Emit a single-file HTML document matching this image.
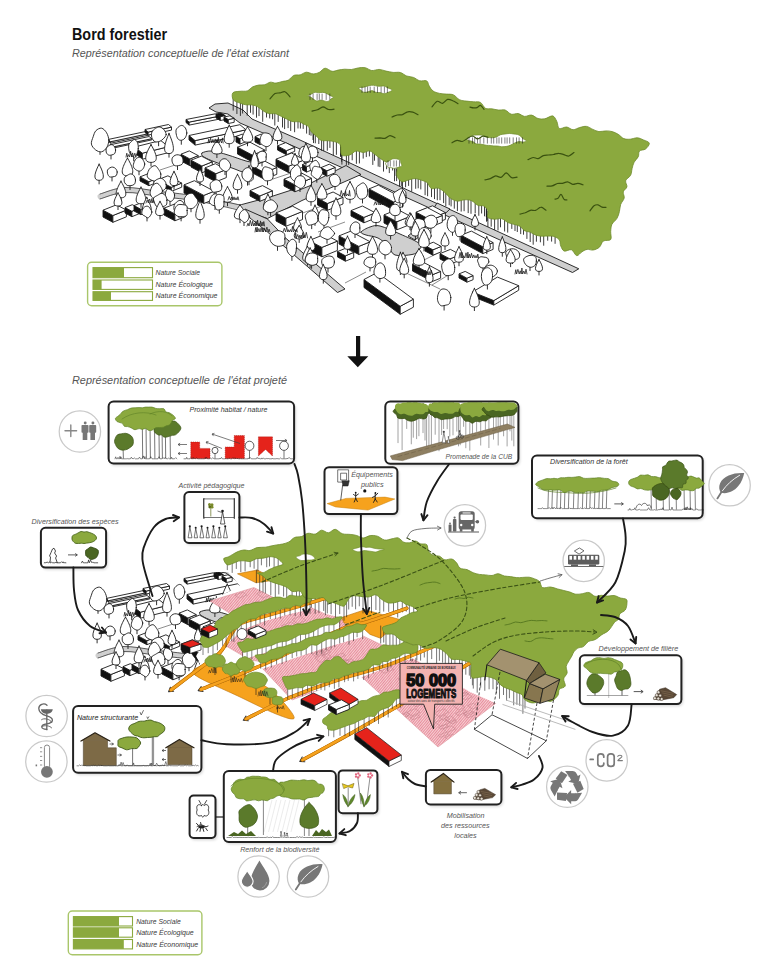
<!DOCTYPE html>
<html><head><meta charset="utf-8"><title>Bord forestier</title>
<style>
html,body{margin:0;padding:0;background:#fff;}
body{width:768px;height:978px;overflow:hidden;font-family:"Liberation Sans",sans-serif;}
svg{display:block;font-family:"Liberation Sans",sans-serif;}
</style></head><body>
<svg width="768" height="978" viewBox="0 0 768 978">
<defs>
<filter id="blur" x="-10%" y="-10%" width="125%" height="130%"><feGaussianBlur stdDeviation="1.6"/></filter>
<pattern id="hatch" width="2" height="2" patternUnits="userSpaceOnUse" patternTransform="rotate(-50)"><rect width="2" height="2" fill="#f6d0d3"/><rect width="2" height="0.6" fill="#e0607a"/></pattern>
</defs>
<rect width="768" height="978" fill="#fff"/>
<g id="misc"><text x="72" y="39.8" font-size="17" fill="#111" font-weight="bold" font-style="normal" text-anchor="start" textLength="95" lengthAdjust="spacingAndGlyphs" >Bord forestier</text>
<text x="72" y="57" font-size="11" fill="#555" font-weight="normal" font-style="italic" text-anchor="start" textLength="217" lengthAdjust="spacingAndGlyphs" >Représentation conceptuelle de l'état existant</text>
<text x="72" y="384" font-size="11" fill="#555" font-weight="normal" font-style="italic" text-anchor="start" textLength="215" lengthAdjust="spacingAndGlyphs" >Représentation conceptuelle de l'état projeté</text>
<path d="M356 336H360.2V356.2H368.3L357.8 367.2L347.3 356.2H356Z" fill="#111"/>
<rect x="87.6" y="262.2" width="134.3" height="43.6" rx="4" fill="#fff" stroke="#a9c66a" stroke-width="1.4"/><rect x="93" y="267.6" width="59.5" height="10.1" fill="#fff" stroke="#8ba93e" stroke-width="1.1"/><rect x="93" y="267.6" width="31" height="10.1" fill="#8ba93e"/><rect x="93" y="280" width="59.5" height="9.4" fill="#fff" stroke="#8ba93e" stroke-width="1.1"/><rect x="93" y="280" width="8.6" height="9.4" fill="#8ba93e"/><rect x="93" y="291.7" width="59.5" height="8.7" fill="#fff" stroke="#8ba93e" stroke-width="1.1"/><rect x="93" y="291.7" width="18" height="8.7" fill="#8ba93e"/><text x="155.5" y="275.3" font-size="7.6" fill="#3a3a3a" font-weight="normal" font-style="italic" text-anchor="start" textLength="44.5" lengthAdjust="spacingAndGlyphs" >Nature Sociale</text><text x="155.5" y="287" font-size="7.6" fill="#3a3a3a" font-weight="normal" font-style="italic" text-anchor="start" textLength="57.5" lengthAdjust="spacingAndGlyphs" >Nature Écologique</text><text x="155.5" y="298" font-size="7.6" fill="#3a3a3a" font-weight="normal" font-style="italic" text-anchor="start" textLength="62" lengthAdjust="spacingAndGlyphs" >Nature Économique</text>
<rect x="68.3" y="911" width="133.6" height="43.8" rx="4" fill="#fff" stroke="#a9c66a" stroke-width="1.4"/><rect x="73.4" y="916.6" width="59.1" height="9.4" fill="#fff" stroke="#8ba93e" stroke-width="1.1"/><rect x="73.4" y="916.6" width="45.6" height="9.4" fill="#8ba93e"/><rect x="73.4" y="927.8" width="59.1" height="9.4" fill="#fff" stroke="#8ba93e" stroke-width="1.1"/><rect x="73.4" y="927.8" width="45.6" height="9.4" fill="#8ba93e"/><rect x="73.4" y="939.5" width="59.1" height="9.4" fill="#fff" stroke="#8ba93e" stroke-width="1.1"/><rect x="73.4" y="939.5" width="50.4" height="9.4" fill="#8ba93e"/><text x="136.2" y="924.3" font-size="7.6" fill="#3a3a3a" font-weight="normal" font-style="italic" text-anchor="start" textLength="44.5" lengthAdjust="spacingAndGlyphs" >Nature Sociale</text><text x="136.2" y="935.3" font-size="7.6" fill="#3a3a3a" font-weight="normal" font-style="italic" text-anchor="start" textLength="57.5" lengthAdjust="spacingAndGlyphs" >Nature Écologique</text><text x="136.2" y="947" font-size="7.6" fill="#3a3a3a" font-weight="normal" font-style="italic" text-anchor="start" textLength="62" lengthAdjust="spacingAndGlyphs" >Nature Économique</text></g>
<g id="top"><polygon points="209,108 215,104 228,103 243,110 252,119 300,140 350,163 407.5,190 500,232.5 578.8,268.8 572.5,272.5 500,240 407.5,198 352,172 300,149 240,123 228,114 216,112" fill="#cfcfcf" stroke="#1a1a1a" stroke-width="0.9" stroke-linejoin="round" />
<polygon points="240,205 270,197 307,185 346,165.5 361,174.5 302,200.5 267.5,218.5 247.5,212" fill="#cfcfcf" stroke="#1a1a1a" stroke-width="0.9" stroke-linejoin="round" />
<path d="M100 196.5C104.2 195.4 115 190.4 125 190C135 189.6 147.5 192.5 160 194C172.5 195.5 185.8 196.7 200 199C214.2 201.3 237.5 206.5 245 208" fill="none" stroke="#cfcfcf" stroke-width="5" stroke-linecap="round" stroke-linejoin="round" />
<path d="M100 194C104.2 192.9 115 187.9 125 187.5C135 187.1 147.5 190 160 191.5C172.5 193 186.7 194.2 200 196.5C213.3 198.8 233.3 203.6 240 205" fill="none" stroke="#1a1a1a" stroke-width="0.7" stroke-linecap="round" stroke-linejoin="round" />
<path d="M100 199C104.2 197.9 115 192.9 125 192.5C135 192.1 147.5 195 160 196.5C172.5 198 185.5 198.9 200 201.5C214.5 204.1 239.2 210.2 247 212" fill="none" stroke="#1a1a1a" stroke-width="0.7" stroke-linecap="round" stroke-linejoin="round" />
<polygon points="245,209 267.5,219 285,237.5 345,289 337.5,292.5 267.5,232 250,218" fill="#cfcfcf" stroke="#1a1a1a" stroke-width="0.9" stroke-linejoin="round" />
<path d="M202 153C203.3 152 207.7 150.7 212 151C216.3 151.3 222.3 153.3 228 155C233.7 156.7 240.7 159.5 246 161C251.3 162.5 258 162.5 260 164C262 165.5 260.2 168.5 258 170C255.8 171.5 251.3 173.3 247 173C242.7 172.7 237.3 169.8 232 168C226.7 166.2 219.7 163.8 215 162C210.3 160.2 206.2 158.5 204 157C201.8 155.5 200.7 154 202 153Z" fill="#cfcfcf" stroke="#1a1a1a" stroke-width="0.9" stroke-linecap="round" stroke-linejoin="round" />
<path d="M361 232C361.7 230.7 366.8 228 370 227C373.2 226 375 224.8 380 226C385 227.2 393.3 231 400 234C406.7 237 417 241.2 420 244C423 246.8 419.3 249.2 418 251C416.7 252.8 415.8 253.8 412 254.5C408.2 255.2 399 256.4 395 255C391 253.6 390.8 248.8 388 246C385.2 243.2 381.7 239.8 378 238C374.3 236.2 368.8 236 366 235C363.2 234 360.3 233.3 361 232Z" fill="#cfcfcf" stroke="#1a1a1a" stroke-width="0.9" stroke-linecap="round" stroke-linejoin="round" />
<polygon points="437,203 450,209 432,226 415,240 408,236 425,222" fill="#cfcfcf" stroke="#1a1a1a" stroke-width="0.9" stroke-linejoin="round" />
<line x1="300" y1="214" x2="330" y2="203" stroke="#1a1a1a" stroke-width="0.5" />
<line x1="345" y1="283" x2="366" y2="272" stroke="#1a1a1a" stroke-width="0.5" />
<line x1="420" y1="262" x2="440" y2="252" stroke="#1a1a1a" stroke-width="0.5" />
<line x1="432" y1="285" x2="450" y2="274" stroke="#1a1a1a" stroke-width="0.5" />
<line x1="404" y1="272" x2="440" y2="289" stroke="#1a1a1a" stroke-width="0.5" />
<line x1="318" y1="232" x2="345" y2="222" stroke="#1a1a1a" stroke-width="0.5" />
<line x1="270" y1="180" x2="300" y2="170" stroke="#1a1a1a" stroke-width="0.5" />
<line x1="160" y1="170" x2="190" y2="160" stroke="#1a1a1a" stroke-width="0.5" /><path d="M233.2 97V110.2M236.9 99V113.6M240.4 101V115.5M242.6 101.9V113.1M247.2 102.7V115.3M250.5 103.6V112.4M253.1 104.4V114.2M256.5 105.3V117.3M259 106.1V115.7M262.7 107V121.4M266.5 108V117.1M269.7 109V118M272.6 110V118.9M274.8 111V125.1M278.2 112V121.5M282.5 113V127.1M284.6 114V128.7M288.1 115V127.7M290.7 116V130.6M294.6 117V131.8M298 118V128.1M300.4 119V128.2M303.2 120V128.5M306.6 121V133.2M309.3 122V134.7M311 125.1V135.3M313 128.2V139.6M313.5 131.4V142.7M315.3 134.5V142.9M318.8 135.4V143.6M321.6 136.4V150.3M323.7 137.3V150.8M327.3 138.2V150.3M329.9 139.2V147.5M333.3 140.1V154.8M336.4 141.1V154.4M340.6 142V156.6M340.6 145V155.5M341.7 148V161.4M341.9 151V164.2M346.4 150.5V164.5M348.7 150V164.6M352.2 149.5V159.9M356.4 149V163.4M359.4 148.5V163M363.2 148V158.2M366.3 147.5V156.7M369.4 147V156M372.8 149.5V164.5M374.5 152V160.3M378.2 154.5V166.2M379.9 157V166.7M383.5 157.4V171.2M386.6 157.8V168.8M389.3 158.2V172.7M392.6 158.7V170.1M397.2 159.1V168M400.3 159.5V174.1M398.5 162V175.5M396.1 164.5V175.5M394.5 167V180.9M396.6 169.5V180.7M399.5 172V186M401.3 174.5V185.7M402.5 177V190.1M405.6 176.8V186.8M408.6 176.5V185.5M411.7 176.2V191.2M415.7 176V188.4M418.2 177.6V187.9M420.8 179.1V189M425.1 180.7V194.8M427.6 182.3V195.8M431.5 183.9V196.7M434.5 185.4V198.7M437.3 187V199.9M440 188.4V199.8M443.6 189.9V202.7M445.8 191.3V205.9M449.2 192.7V204.8M451.1 194.1V206M454.3 195.6V208.3M457.4 197V210.7M461.2 197.6V211.2M464.1 198.2V210.8M468.2 198.9V212.7M471 199.5V213.4M475.2 200.1V212.9M478.8 200.8V215.4M481.6 201.4V213.1M484.5 202V215.9M486.3 205.1V216.5M486.5 208.2V221.3M487.2 211.4V220.6M487.9 214.5V226.6M491.2 215.3V226.3M494.6 216.1V229.5M498 216.9V230M500.5 217.8V226.9M504.6 218.6V231.1M507.7 219.4V232.2M511.8 220.2V228.5M515 221V230.6M517.3 222.7V231.6M520.7 224.4V233.7M523.5 226.1V234.3M526.9 227.8V238.5M530.2 229.5V241.6M533.2 230V244.3M536.4 230.5V241.3M540.4 231V241.9M543.7 231.5V245.3M547.7 232V240.3M551.6 232.5V241.2M555.1 233V243.4" fill="none" stroke="#1a1a1a" stroke-width="0.85" stroke-linecap="round" stroke-linejoin="round" />
<path d="M232.8 92.9C233.9 91.4 237.5 91.6 239.9 91.3C242.3 90.9 245.1 91.6 247.3 90.9C249.4 90.1 250.8 87.8 252.8 86.8C254.8 85.9 257 85.4 259 85C261 84.7 262.9 85.2 264.7 84.7C266.6 84.3 268.3 82.5 270.2 82.2C272 81.9 274 83.2 276 83.1C278 82.9 280.1 82 282.2 81.5C284.3 81 286.5 81.1 288.4 80.1C290.3 79.1 291.8 76.3 293.8 75.4C295.8 74.5 298.2 75.3 300.3 74.8C302.4 74.2 304.1 72.4 306.3 72.2C308.5 72.1 311.1 73.9 313.3 73.9C315.5 73.9 317.4 73.2 319.4 72.3C321.4 71.3 323 68.3 325.1 68.2C327.2 68 330 71 332.1 71.3C334.3 71.6 336 70.5 338.1 70.1C340.2 69.8 342.5 69.3 344.7 69.2C346.9 69.1 349.2 69.7 351.4 69.5C353.7 69.3 356.1 68.2 358.3 67.9C360.6 67.6 362.9 67.3 365.1 67.7C367.3 68.1 369.4 70.2 371.7 70.5C374 70.8 376.7 69.4 379.1 69.4C381.5 69.5 383.7 70.6 386.1 71.1C388.4 71.6 390.7 72.1 393.1 72.4C395.5 72.6 398.1 71.9 400.4 72.5C402.7 73.1 404.5 75.2 406.7 76C408.9 76.8 411.3 76.6 413.4 77.4C415.6 78.2 417.5 80.2 419.7 80.8C421.9 81.4 425 80 426.7 80.9C428.3 81.8 428.2 84.6 429.3 86.2C430.4 87.9 431.3 89.8 433 91C434.7 92.2 437.3 92.8 439.6 93.4C441.8 93.9 444.2 93.8 446.5 94.1C448.9 94.3 451.3 93.9 453.5 94.9C455.6 95.8 457.3 98.7 459.5 99.7C461.7 100.8 464.2 100.8 466.6 101.1C468.9 101.5 471.4 101.6 473.7 101.8C476 102.1 478.4 101.4 480.4 102.4C482.4 103.5 483.6 107.3 485.5 108.3C487.4 109.4 489.6 108.5 491.8 108.8C493.9 109.1 496.1 109.8 498.3 110C500.6 110.3 503 109.4 505.1 110C507.2 110.7 509.1 113.6 511.2 114.2C513.4 114.8 515.8 113.2 518.1 113.5C520.3 113.9 522.3 116.1 524.6 116.4C526.8 116.6 529.3 114.7 531.5 115.1C533.8 115.4 535.8 117.9 538 118.5C540.2 119.1 542.3 119.2 544.8 118.8C547.2 118.4 550.7 115.5 552.7 115.9C554.7 116.4 555.7 119.3 556.8 121.4C557.9 123.5 557.6 127.5 559.2 128.4C560.9 129.4 564.3 126.8 566.6 127C568.9 127.2 570.9 129.7 573.1 129.7C575.3 129.8 577.6 128 579.8 127.5C582.1 126.9 584.3 126.1 586.5 126.4C588.7 126.7 590.8 128.5 592.9 129.4C595 130.3 596.8 131.3 598.9 131.6C601.1 131.8 603.5 130.9 605.8 130.9C608 130.9 610.1 131 612.2 131.6C614.3 132.2 616.3 133.1 618.2 134.3C620.1 135.4 621.7 137.8 623.8 138.6C625.8 139.4 628 139.3 630.2 139.2C632.5 139 635 137.7 637.2 137.8C639.4 137.9 641.4 139 643.4 139.9C645.4 140.8 649 141.7 649.3 143.2C649.7 144.7 647.2 147.7 645.6 149C643.9 150.3 640.7 149.7 639.5 151C638.2 152.3 639.2 154.9 638.3 156.7C637.4 158.6 635.2 160.2 634.2 162.1C633.1 164.1 632.7 166.4 632.1 168.6C631.5 170.8 631.7 173.3 630.6 175.3C629.5 177.3 626.3 178.7 625.7 180.7C625.1 182.6 627.4 185.1 626.9 186.9C626.5 188.8 623.7 190 623.3 191.8C622.8 193.7 624.6 195.9 624.2 198C623.8 200.1 621.5 202.2 620.7 204.4C619.9 206.7 620 209.3 619.4 211.6C618.8 213.9 618.3 216.2 617 218.3C615.8 220.4 613 222.2 611.9 224.4C610.9 226.6 610.9 229.1 610.7 231.6C610.5 234.1 611.9 238 610.7 239.5C609.5 241.1 605.3 239.8 603.4 241C601.5 242.3 601.1 245.7 599.4 247.2C597.7 248.7 595.2 249.7 593.2 250C591.2 250.4 589 249.1 587.2 249.4C585.3 249.7 583.7 250.7 582 251.8C580.2 252.8 578.4 256 576.6 255.6C574.9 255.3 573.6 250.5 571.5 249.8C569.5 249 566 251.7 564.2 251.1C562.4 250.4 561.6 247.8 560.8 246C559.9 244.1 560.4 241.5 559.4 239.9C558.3 238.4 556.4 237.3 554.6 236.7C552.8 236 550.7 236.1 548.6 236.1C546.6 236 544.3 236.3 542.2 236.2C540.1 236.1 538 235.9 536 235.2C534 234.6 532 232.9 530.1 232.1C528.2 231.4 526.1 231.6 524.4 230.7C522.8 229.7 521.8 227.5 520.2 226.4C518.6 225.4 516.8 225.2 514.8 224.6C512.8 223.9 510.3 223.6 508.1 222.6C505.9 221.6 504 219.3 501.7 218.7C499.4 218.1 496.7 219.4 494.4 219.2C492 219 488.8 218.6 487.7 217.3C486.7 215.9 488.5 212.8 487.9 210.9C487.3 209.1 485.7 207 484 206.1C482.3 205.1 479.9 206.2 477.8 205.3C475.8 204.4 473.8 201.6 471.6 200.7C469.4 199.7 467 199.7 464.6 199.8C462.2 199.9 459.5 201.4 457.1 201.1C454.7 200.8 452.3 199.4 450.2 197.9C448.1 196.5 446.6 194 444.7 192.3C442.7 190.7 440.6 188.8 438.4 188.2C436.2 187.5 433.1 189.4 431.3 188.5C429.4 187.6 428.8 184 427.2 182.6C425.5 181.3 423.4 180.9 421.4 180.2C419.4 179.5 417.2 178.6 415.1 178.5C413 178.5 411 179.3 408.8 179.9C406.6 180.4 403.7 182.3 401.8 181.7C399.8 181.1 397.8 178.2 397.1 176.3C396.3 174.4 396.8 172.5 397.1 170.2C397.4 168 399.4 164.3 398.8 162.7C398.2 161.2 395.5 160.9 393.5 160.7C391.4 160.6 388.7 162.3 386.5 161.9C384.4 161.6 382.5 159.9 380.7 158.7C378.8 157.5 377.1 156 375.3 154.7C373.5 153.4 371.7 151.3 369.7 150.9C367.7 150.5 365.6 152.5 363.3 152.5C361.1 152.5 358.4 150.6 356.1 151C353.8 151.4 352.1 154.3 349.7 155C347.3 155.6 343.3 156.6 341.7 155C340.1 153.3 341.5 147.1 340.2 144.8C339 142.6 336.3 142.3 334.2 141.6C332.1 140.9 329.9 141 327.7 140.7C325.4 140.5 322.9 141.1 321 140.3C319.1 139.6 317.9 137.5 316.3 136.1C314.7 134.7 312.5 133.3 311.2 131.8C309.9 130.2 309.6 127.8 308.4 126.6C307.3 125.3 305.8 125.1 304.2 124.3C302.6 123.5 300.8 122.2 298.9 121.7C297 121.3 294.8 122.1 292.9 121.7C291 121.3 289.4 120.3 287.5 119.4C285.7 118.6 283.6 117.5 281.6 116.6C279.6 115.6 277.7 114.2 275.6 113.7C273.5 113.2 270.9 114.1 268.7 113.6C266.6 113.1 264.7 111.8 262.8 110.6C261 109.5 259.5 107.7 257.7 106.8C255.9 105.8 254 105.2 252.1 104.9C250.1 104.5 247.9 105.1 245.9 104.8C244 104.5 242.4 104 240.3 103.2C238.2 102.4 234.6 101.5 233.3 99.8C232.1 98.1 231.7 94.3 232.8 92.9Z" fill="#8ba93e" stroke="#6d8a2a" stroke-width="0.8" stroke-linejoin="round" />
<path d="M307.5 96.1C307.6 95.6 309.8 94.8 311.1 94.2C312.4 93.6 313.8 92.5 315.1 92.3C316.3 92.1 317.4 92.8 318.6 92.8C319.8 92.8 321.1 92.3 322.4 92.4C323.6 92.4 324.7 92.6 326 93.2C327.2 93.7 328.5 94.8 329.8 95.4C331.1 96.1 333.4 96.5 333.6 97.1C333.8 97.7 331.9 98.2 331 98.9C330 99.6 329.2 101 328.1 101.4C327 101.7 325.6 101.2 324.3 100.9C323.1 100.7 321.9 100.1 320.7 100.1C319.5 100.1 318.1 101.1 316.9 101C315.7 100.8 314.6 99.9 313.6 99.2C312.5 98.5 311.6 97.5 310.6 97C309.5 96.5 307.4 96.6 307.5 96.1Z" fill="#fff" stroke="#6d8a2a" stroke-width="0.7" stroke-linejoin="round" />
<path d="M310 94V99.5M313.1 94V99.5M317.1 94V99.5M319.3 94V99.5M322.1 94V99.5M326.2 94V99.5M329.8 94V99.5" fill="none" stroke="#1a1a1a" stroke-width="0.55" stroke-linecap="round" stroke-linejoin="round" />
<path d="M358.6 87.8C358.9 87.3 361.4 87.6 362.7 87.4C364 87.2 365.2 86.8 366.4 86.5C367.6 86.2 368.8 85.7 370 85.5C371.2 85.3 372.3 85.2 373.5 85.3C374.7 85.4 375.8 85.9 377 86.1C378.1 86.3 379.3 86.3 380.5 86.2C381.7 86.2 382.7 85.7 384 86C385.2 86.3 386.6 87.3 388 88C389.4 88.7 392.3 89.3 392.3 90C392.4 90.7 389.6 91.7 388.2 92.3C386.9 92.9 385.4 93.6 384 93.7C382.6 93.7 381.4 92.8 380 92.6C378.7 92.3 377.2 92.7 375.9 92.3C374.6 92 373.3 90.7 372 90.6C370.7 90.6 369.4 91.5 368 91.8C366.7 92.1 365.1 92.5 363.9 92.3C362.8 92.1 362 91.2 361.2 90.4C360.3 89.7 358.4 88.4 358.6 87.8Z" fill="#fff" stroke="#6d8a2a" stroke-width="0.7" stroke-linejoin="round" />
<path d="M362 87V92.5M365 87V92.5M367.6 87V92.5M370.2 87V92.5M374.2 87V92.5M377.5 87V92.5M381.1 87V92.5M384.4 87V92.5M387.4 87V92.5" fill="none" stroke="#1a1a1a" stroke-width="0.55" stroke-linecap="round" stroke-linejoin="round" />
<path d="M466.5 139C466.5 138.4 468.2 137.7 469.2 137.1C470.1 136.5 471.3 135.8 472.4 135.5C473.6 135.1 474.8 135.2 476.1 135.1C477.3 135 478.7 134.9 480.1 135C481.4 135.1 482.8 135.4 484.1 135.8C485.4 136.2 486.6 137 488 137.3C489.3 137.6 490.6 137.9 492 137.8C493.4 137.8 495.1 137.5 496.5 136.9C497.9 136.4 499.1 135.2 500.6 134.7C502 134.2 503.6 134.3 505.1 134C506.5 133.8 507.9 133.5 509.3 133.5C510.8 133.4 512.2 133.8 513.7 134C515.1 134.1 516.6 134.1 517.8 134.5C519 134.9 519.8 135.7 520.8 136.5C521.7 137.3 522.5 138.3 523.5 139.1C524.4 139.8 526.5 140.4 526.5 140.9C526.4 141.4 524.4 141.9 523.2 142C522 142.1 520.7 141.5 519.5 141.5C518.3 141.6 517.2 142 516 142.4C514.8 142.8 513.6 143.6 512.4 144.2C511.2 144.8 510.1 145.4 508.8 145.8C507.6 146.2 506.2 146.5 504.9 146.6C503.7 146.7 502.5 146.8 501.3 146.7C500 146.5 498.8 146.1 497.5 146C496.3 145.9 495 146 493.8 145.9C492.5 145.8 491.3 145.6 490.1 145.5C488.9 145.3 487.7 145.5 486.5 145.3C485.3 145.1 484.2 144.7 483 144.5C481.9 144.3 480.7 144.1 479.5 144C478.3 143.9 477 144.2 475.9 143.8C474.8 143.4 474 142 472.9 141.5C471.8 141 470.3 141.1 469.2 140.7C468.2 140.3 466.6 139.6 466.5 139Z" fill="#fff" stroke="#6d8a2a" stroke-width="0.7" stroke-linejoin="round" />
<path d="M469 137.8V143.2M472.5 137.8V143.2M474.7 137.8V143.2M477.5 137.8V143.2M480.1 137.8V143.2M483.8 137.8V143.2M487.4 137.8V143.2M491.3 137.8V143.2M493.7 137.8V143.2M496.8 137.8V143.2M499 137.8V143.2M501.7 137.8V143.2M504.9 137.8V143.2M507.1 137.8V143.2M509.7 137.8V143.2M513.2 137.8V143.2M516.5 137.8V143.2M519.1 137.8V143.2M522.5 137.8V143.2" fill="none" stroke="#1a1a1a" stroke-width="0.55" stroke-linecap="round" stroke-linejoin="round" />
<path d="M385.5 163C385.7 162 387.7 161.9 388.8 161.2C389.9 160.5 390.9 159.4 392.1 159C393.3 158.6 394.8 158.6 396.1 158.8C397.4 158.9 399.1 159.4 399.9 160.1C400.7 160.8 400.6 162 400.9 163C401.2 164 402.2 165.2 401.7 166C401.2 166.7 399.2 167 398 167.4C396.7 167.8 395.2 168.3 394 168.4C392.9 168.4 392 167.7 391 167.6C390 167.4 388.7 168 387.8 167.3C386.9 166.5 385.3 164.1 385.5 163Z" fill="#fff" stroke="#6d8a2a" stroke-width="0.7" stroke-linejoin="round" />
<path d="M388 160.8V166.2M390.3 160.8V166.2M393.9 160.8V166.2M396.4 160.8V166.2M399.5 160.8V166.2" fill="none" stroke="#1a1a1a" stroke-width="0.55" stroke-linecap="round" stroke-linejoin="round" />
<path d="M312 111.1C312.9 110.9 315.7 110.5 317.5 109.8C319.3 109.1 321.2 107 323 106.9C324.8 106.9 326.7 109.1 328.5 109.5C330.3 109.9 333.1 109.3 334 109.2" fill="none" stroke="#3a5210" stroke-width="1.2" stroke-linecap="round" stroke-linejoin="round" />
<path d="M392 117C392.9 116.7 395.5 115.4 397.2 115C398.9 114.6 400.7 115.1 402.4 114.6C404.1 114 405.9 112.2 407.6 111.8C409.3 111.3 411.1 111.6 412.8 112.1C414.5 112.6 417.1 114.3 418 114.7" fill="none" stroke="#3a5210" stroke-width="1.2" stroke-linecap="round" stroke-linejoin="round" />
<path d="M432 106.9C432.9 106 435.5 101.9 437.2 101.3C438.9 100.7 440.7 103.6 442.4 103.3C444.1 103 445.9 99.8 447.6 99.4C449.3 99 451.1 100 452.8 100.8C454.5 101.5 457.1 103.2 458 103.7" fill="none" stroke="#3a5210" stroke-width="1.2" stroke-linecap="round" stroke-linejoin="round" />
<path d="M452 142.8C452.9 142.3 455.4 140.5 457.1 140.3C458.9 140.1 460.6 141.8 462.3 141.5C464 141.2 465.7 139.4 467.4 138.4C469.1 137.5 470.9 136 472.6 136C474.3 136.1 476 138.9 477.7 138.9C479.4 139 481.1 136.5 482.9 136.2C484.6 136 487.1 137.2 488 137.3" fill="none" stroke="#3a5210" stroke-width="1.2" stroke-linecap="round" stroke-linejoin="round" />
<path d="M485 179.9C485.9 179.7 488.6 179.3 490.3 178.6C492.1 177.9 493.9 176.2 495.7 175.9C497.4 175.7 499.2 177.8 501 177.3C502.8 176.8 504.6 172.9 506.3 172.9C508.1 173 509.9 177 511.7 177.6C513.4 178.3 516.1 177.2 517 177.1" fill="none" stroke="#3a5210" stroke-width="1.2" stroke-linecap="round" stroke-linejoin="round" />
<path d="M528 159.6C528.9 159.3 531.4 157.7 533.1 157.5C534.8 157.3 536.5 158.9 538.2 158.6C539.9 158.3 541.6 156.2 543.3 155.6C545 155 546.7 155.2 548.4 155C550.1 154.8 551.9 154.8 553.6 154.5C555.3 154.2 557 153.2 558.7 153.3C560.4 153.3 562.1 154.1 563.8 154.6C565.5 155.1 567.2 156.3 568.9 156C570.6 155.6 573.1 153.1 574 152.6" fill="none" stroke="#3a5210" stroke-width="1.2" stroke-linecap="round" stroke-linejoin="round" />
<path d="M547 186.1C547.9 186 550.4 186.3 552.1 185.9C553.9 185.5 555.6 184 557.3 183.5C559 183.1 560.7 183.6 562.4 183.3C564.1 183 565.9 181.6 567.6 181.8C569.3 182 571 184.2 572.7 184.4C574.4 184.7 576.1 183.3 577.9 183.4C579.6 183.5 582.1 184.5 583 184.8" fill="none" stroke="#3a5210" stroke-width="1.2" stroke-linecap="round" stroke-linejoin="round" />
<path d="M470 107.1C470.6 107.2 472.3 107.8 473.5 107.9C474.7 108 475.8 108 477 107.6C478.2 107.2 479.3 105.2 480.5 105.4C481.7 105.7 483.4 108.7 484 109.3" fill="none" stroke="#3a5210" stroke-width="1.2" stroke-linecap="round" stroke-linejoin="round" />
<path d="M520 214.1C520.9 213.9 523.5 213.4 525.2 212.8C526.9 212.1 528.7 210.7 530.4 210.3C532.1 209.9 533.9 210.9 535.6 210.4C537.3 209.9 539.1 207.2 540.8 207.2C542.5 207.1 545.1 209.7 546 210.2" fill="none" stroke="#3a5210" stroke-width="1.2" stroke-linecap="round" stroke-linejoin="round" />
<path d="M590 210.8C590.7 210 592.7 206.8 594 205.8C595.3 204.8 596.7 204.6 598 204.8C599.3 205.1 600.7 206.7 602 207.1C603.3 207.5 605.3 207.3 606 207.3" fill="none" stroke="#3a5210" stroke-width="1.2" stroke-linecap="round" stroke-linejoin="round" />
<path d="M270 98.8C270.8 98 273.3 94.6 275 93.6C276.7 92.6 278.3 93.2 280 92.9C281.7 92.6 283.3 91 285 91.7C286.7 92.3 289.2 96 290 96.8" fill="none" stroke="#3a5210" stroke-width="1.2" stroke-linecap="round" stroke-linejoin="round" />
<path d="M555 199.2C555.5 199.1 557 199.1 558 198.3C559 197.5 560 194.2 561 194.4C562 194.5 563 198.2 564 199.2C565 200.1 566.5 199.9 567 200" fill="none" stroke="#3a5210" stroke-width="1.2" stroke-linecap="round" stroke-linejoin="round" />
<path d="M375 138.1C375.8 138.1 378.3 137.9 380 137.9C381.7 138 383.3 138.7 385 138.3C386.7 137.9 388.3 135.7 390 135.6C391.7 135.5 394.2 137.4 395 137.8" fill="none" stroke="#3a5210" stroke-width="1.2" stroke-linecap="round" stroke-linejoin="round" /><polygon points="108,139.5 110.7,141.7 110.7,143.2 108,141" fill="#111" stroke="#1a1a1a" stroke-width="0.9" stroke-linejoin="round" /><polygon points="110.7,141.7 149.8,133.4 149.8,134.9 110.7,143.2" fill="#fff" stroke="#1a1a1a" stroke-width="0.9" stroke-linejoin="round" /><polygon points="108,139.5 110.7,141.7 149.8,133.4 147.1,131.2" fill="#fff" stroke="#1a1a1a" stroke-width="0.9" stroke-linejoin="round" />
<polygon points="110,144.8 112.7,147 112.7,148.2 110,146" fill="#111" stroke="#1a1a1a" stroke-width="0.9" stroke-linejoin="round" /><polygon points="112.7,147 151.8,138.7 151.8,139.9 112.7,148.2" fill="#fff" stroke="#1a1a1a" stroke-width="0.9" stroke-linejoin="round" /><polygon points="110,144.8 112.7,147 151.8,138.7 149.1,136.5" fill="#fff" stroke="#1a1a1a" stroke-width="0.9" stroke-linejoin="round" />
<polygon points="145,129.5 148.1,132.1 148.1,135.1 145,132.5" fill="#111" stroke="#1a1a1a" stroke-width="0.9" stroke-linejoin="round" /><polygon points="148.1,132.1 171.5,127.1 171.5,130.1 148.1,135.1" fill="#fff" stroke="#1a1a1a" stroke-width="0.9" stroke-linejoin="round" /><polygon points="145,129.5 148.1,132.1 171.5,127.1 168.5,124.5" fill="#fff" stroke="#1a1a1a" stroke-width="0.9" stroke-linejoin="round" />
<polygon points="186,119.5 189.1,122.1 189.1,125.1 186,122.5" fill="#111" stroke="#1a1a1a" stroke-width="0.9" stroke-linejoin="round" /><polygon points="189.1,122.1 218.5,116.3 218.5,119.3 189.1,125.1" fill="#fff" stroke="#1a1a1a" stroke-width="0.9" stroke-linejoin="round" /><polygon points="186,119.5 189.1,122.1 218.5,116.3 215.4,113.8" fill="#fff" stroke="#1a1a1a" stroke-width="0.9" stroke-linejoin="round" />
<polygon points="216,114 220.3,116.5 220.3,120.5 216,118" fill="#111" stroke="#1a1a1a" stroke-width="0.9" stroke-linejoin="round" /><polygon points="220.3,116.5 225.2,115.5 225.2,119.5 220.3,120.5" fill="#fff" stroke="#1a1a1a" stroke-width="0.9" stroke-linejoin="round" /><polygon points="216,114 220.3,116.5 225.2,115.5 220.9,113" fill="#111" stroke="#1a1a1a" stroke-width="0.9" stroke-linejoin="round" />
<polygon points="224,117 228.3,119.5 228.3,123.5 224,121" fill="#111" stroke="#1a1a1a" stroke-width="0.9" stroke-linejoin="round" /><polygon points="228.3,119.5 234.2,118.3 234.2,122.3 228.3,123.5" fill="#fff" stroke="#1a1a1a" stroke-width="0.9" stroke-linejoin="round" /><polygon points="224,117 228.3,119.5 234.2,118.3 229.9,115.8" fill="#fff" stroke="#1a1a1a" stroke-width="0.9" stroke-linejoin="round" />
<polygon points="189,135.5 195.1,140.6 195.1,145.1 189,140" fill="#111" stroke="#1a1a1a" stroke-width="0.9" stroke-linejoin="round" /><polygon points="195.1,140.6 246,129.8 246,134.3 195.1,145.1" fill="#fff" stroke="#1a1a1a" stroke-width="0.9" stroke-linejoin="round" /><polygon points="189,135.5 195.1,140.6 246,129.8 239.9,124.7" fill="#fff" stroke="#1a1a1a" stroke-width="0.9" stroke-linejoin="round" />
<polygon points="134.5,147 142.4,153.2 142.4,159.2 134.5,153" fill="#111" stroke="#1a1a1a" stroke-width="0.9" stroke-linejoin="round" /><polygon points="142.4,153.2 168.6,146.6 168.6,152.6 142.4,159.2" fill="#fff" stroke="#1a1a1a" stroke-width="0.9" stroke-linejoin="round" /><polygon points="134.5,147 142.4,153.2 168.6,146.6 160.7,140.5" fill="#fff" stroke="#1a1a1a" stroke-width="0.9" stroke-linejoin="round" />
<polygon points="181,154.2 189.9,159 189.9,165.7 181,161" fill="#111" stroke="#1a1a1a" stroke-width="0.9" stroke-linejoin="round" /><polygon points="189.9,159 198.2,155.6 198.2,162.4 189.9,165.7" fill="#fff" stroke="#1a1a1a" stroke-width="0.9" stroke-linejoin="round" /><polygon points="181,154.2 189.9,159 198.2,155.6 189.3,150.9" fill="#fff" stroke="#1a1a1a" stroke-width="0.9" stroke-linejoin="round" />
<polygon points="191,160.2 201.9,166 201.9,172.8 191,167" fill="#111" stroke="#1a1a1a" stroke-width="0.9" stroke-linejoin="round" /><polygon points="201.9,166 212.3,161.8 212.3,168.6 201.9,172.8" fill="#fff" stroke="#1a1a1a" stroke-width="0.9" stroke-linejoin="round" /><polygon points="191,160.2 201.9,166 212.3,161.8 201.4,156.1" fill="#fff" stroke="#1a1a1a" stroke-width="0.9" stroke-linejoin="round" />
<polygon points="205,167.9 215.9,173.7 215.9,181.8 205,176" fill="#111" stroke="#1a1a1a" stroke-width="0.9" stroke-linejoin="round" /><polygon points="215.9,173.7 226.3,169.5 226.3,177.6 215.9,181.8" fill="#fff" stroke="#1a1a1a" stroke-width="0.9" stroke-linejoin="round" /><polygon points="205,167.9 215.9,173.7 226.3,169.5 215.4,163.7" fill="#fff" stroke="#1a1a1a" stroke-width="0.9" stroke-linejoin="round" />
<polygon points="184,184.9 203.8,195.4 203.8,203.5 184,193" fill="#111" stroke="#1a1a1a" stroke-width="0.9" stroke-linejoin="round" /><polygon points="203.8,195.4 214.2,191.2 214.2,199.3 203.8,203.5" fill="#fff" stroke="#1a1a1a" stroke-width="0.9" stroke-linejoin="round" /><polygon points="184,184.9 203.8,195.4 214.2,191.2 194.4,180.7" fill="#fff" stroke="#1a1a1a" stroke-width="0.9" stroke-linejoin="round" />
<polygon points="140,176.9 148.9,181.7 148.9,185.7 140,181" fill="#111" stroke="#1a1a1a" stroke-width="0.9" stroke-linejoin="round" /><polygon points="148.9,181.7 159.3,177.5 159.3,181.5 148.9,185.7" fill="#fff" stroke="#1a1a1a" stroke-width="0.9" stroke-linejoin="round" /><polygon points="140,176.9 148.9,181.7 159.3,177.5 150.4,172.8" fill="#fff" stroke="#1a1a1a" stroke-width="0.9" stroke-linejoin="round" />
<polygon points="157.5,179.9 171.3,187.3 171.3,191.4 157.5,184" fill="#111" stroke="#1a1a1a" stroke-width="0.9" stroke-linejoin="round" /><polygon points="171.3,187.3 181.7,183.1 181.7,187.2 171.3,191.4" fill="#fff" stroke="#1a1a1a" stroke-width="0.9" stroke-linejoin="round" /><polygon points="157.5,179.9 171.3,187.3 181.7,183.1 167.9,175.8" fill="#fff" stroke="#1a1a1a" stroke-width="0.9" stroke-linejoin="round" />
<polygon points="103,210.2 112.9,215.5 112.9,222.3 103,217" fill="#111" stroke="#1a1a1a" stroke-width="0.9" stroke-linejoin="round" /><polygon points="112.9,215.5 126.4,210.1 126.4,216.8 112.9,222.3" fill="#fff" stroke="#1a1a1a" stroke-width="0.9" stroke-linejoin="round" /><polygon points="103,210.2 112.9,215.5 126.4,210.1 116.5,204.8" fill="#fff" stroke="#1a1a1a" stroke-width="0.9" stroke-linejoin="round" />
<polygon points="125,207.6 131.9,211.3 131.9,216.7 125,213" fill="#111" stroke="#1a1a1a" stroke-width="0.9" stroke-linejoin="round" /><polygon points="131.9,211.3 139.2,208.3 139.2,213.7 131.9,216.7" fill="#fff" stroke="#1a1a1a" stroke-width="0.9" stroke-linejoin="round" /><polygon points="125,207.6 131.9,211.3 139.2,208.3 132.3,204.7" fill="#fff" stroke="#1a1a1a" stroke-width="0.9" stroke-linejoin="round" />
<polygon points="134,205.6 140.9,209.3 140.9,214.7 134,211" fill="#111" stroke="#1a1a1a" stroke-width="0.9" stroke-linejoin="round" /><polygon points="140.9,209.3 148.2,206.3 148.2,211.7 140.9,214.7" fill="#fff" stroke="#1a1a1a" stroke-width="0.9" stroke-linejoin="round" /><polygon points="134,205.6 140.9,209.3 148.2,206.3 141.3,202.7" fill="#fff" stroke="#1a1a1a" stroke-width="0.9" stroke-linejoin="round" />
<polygon points="164,208.2 174.9,214 174.9,220.8 164,215" fill="#111" stroke="#1a1a1a" stroke-width="0.9" stroke-linejoin="round" /><polygon points="174.9,214 185.3,209.8 185.3,216.6 174.9,220.8" fill="#fff" stroke="#1a1a1a" stroke-width="0.9" stroke-linejoin="round" /><polygon points="164,208.2 174.9,214 185.3,209.8 174.4,204.1" fill="#fff" stroke="#1a1a1a" stroke-width="0.9" stroke-linejoin="round" />
<polygon points="237.5,147.2 252.3,155.1 252.3,161.9 237.5,154" fill="#111" stroke="#1a1a1a" stroke-width="0.9" stroke-linejoin="round" /><polygon points="252.3,155.1 264.8,150.1 264.8,156.9 252.3,161.9" fill="#fff" stroke="#1a1a1a" stroke-width="0.9" stroke-linejoin="round" /><polygon points="237.5,147.2 252.3,155.1 264.8,150.1 250,142.2" fill="#fff" stroke="#1a1a1a" stroke-width="0.9" stroke-linejoin="round" />
<polygon points="252.5,166.2 264.4,172.6 264.4,179.3 252.5,173" fill="#111" stroke="#1a1a1a" stroke-width="0.9" stroke-linejoin="round" /><polygon points="264.4,172.6 276.8,167.5 276.8,174.3 264.4,179.3" fill="#fff" stroke="#1a1a1a" stroke-width="0.9" stroke-linejoin="round" /><polygon points="252.5,166.2 264.4,172.6 276.8,167.5 265,161.2" fill="#fff" stroke="#1a1a1a" stroke-width="0.9" stroke-linejoin="round" />
<polygon points="250,190.6 259.9,195.9 259.9,201.3 250,196" fill="#111" stroke="#1a1a1a" stroke-width="0.9" stroke-linejoin="round" /><polygon points="259.9,195.9 272.4,190.8 272.4,196.2 259.9,201.3" fill="#fff" stroke="#1a1a1a" stroke-width="0.9" stroke-linejoin="round" /><polygon points="250,190.6 259.9,195.9 272.4,190.8 262.5,185.6" fill="#fff" stroke="#1a1a1a" stroke-width="0.9" stroke-linejoin="round" />
<polygon points="236,136.6 240,138.7 240,144.1 236,142" fill="#111" stroke="#1a1a1a" stroke-width="0.9" stroke-linejoin="round" /><polygon points="240,138.7 246.2,136.2 246.2,141.6 240,144.1" fill="#fff" stroke="#1a1a1a" stroke-width="0.9" stroke-linejoin="round" /><polygon points="236,136.6 240,138.7 246.2,136.2 242.2,134.1" fill="#fff" stroke="#1a1a1a" stroke-width="0.9" stroke-linejoin="round" />
<polygon points="255,136.6 259.9,139.2 259.9,144.6 255,142" fill="#111" stroke="#1a1a1a" stroke-width="0.9" stroke-linejoin="round" /><polygon points="259.9,139.2 266.2,136.7 266.2,142.1 259.9,144.6" fill="#fff" stroke="#1a1a1a" stroke-width="0.9" stroke-linejoin="round" /><polygon points="255,136.6 259.9,139.2 266.2,136.7 261.2,134.1" fill="#fff" stroke="#1a1a1a" stroke-width="0.9" stroke-linejoin="round" />
<polygon points="276,159.2 288.9,166.1 288.9,172.8 276,166" fill="#111" stroke="#1a1a1a" stroke-width="0.9" stroke-linejoin="round" /><polygon points="288.9,166.1 304.4,159.8 304.4,166.5 288.9,172.8" fill="#fff" stroke="#1a1a1a" stroke-width="0.9" stroke-linejoin="round" /><polygon points="276,159.2 288.9,166.1 304.4,159.8 291.6,153" fill="#fff" stroke="#1a1a1a" stroke-width="0.9" stroke-linejoin="round" />
<polygon points="284,179.2 294.9,185 294.9,191.8 284,186" fill="#111" stroke="#1a1a1a" stroke-width="0.9" stroke-linejoin="round" /><polygon points="294.9,185 311.5,178.3 311.5,185.1 294.9,191.8" fill="#fff" stroke="#1a1a1a" stroke-width="0.9" stroke-linejoin="round" /><polygon points="284,179.2 294.9,185 311.5,178.3 300.6,172.5" fill="#fff" stroke="#1a1a1a" stroke-width="0.9" stroke-linejoin="round" />
<polygon points="277.5,145.9 286.4,150.7 286.4,154.7 277.5,150" fill="#111" stroke="#1a1a1a" stroke-width="0.9" stroke-linejoin="round" /><polygon points="286.4,150.7 294.7,147.3 294.7,151.4 286.4,154.7" fill="#fff" stroke="#1a1a1a" stroke-width="0.9" stroke-linejoin="round" /><polygon points="277.5,145.9 286.4,150.7 294.7,147.3 285.8,142.6" fill="#fff" stroke="#1a1a1a" stroke-width="0.9" stroke-linejoin="round" />
<polygon points="302.5,164.6 306.5,166.7 306.5,172.1 302.5,170" fill="#111" stroke="#1a1a1a" stroke-width="0.9" stroke-linejoin="round" /><polygon points="306.5,166.7 314.8,163.3 314.8,168.7 306.5,172.1" fill="#fff" stroke="#1a1a1a" stroke-width="0.9" stroke-linejoin="round" /><polygon points="302.5,164.6 306.5,166.7 314.8,163.3 310.8,161.2" fill="#fff" stroke="#1a1a1a" stroke-width="0.9" stroke-linejoin="round" />
<polygon points="321,167.6 326.9,170.8 326.9,176.2 321,173" fill="#111" stroke="#1a1a1a" stroke-width="0.9" stroke-linejoin="round" /><polygon points="326.9,170.8 335.2,167.4 335.2,172.8 326.9,176.2" fill="#fff" stroke="#1a1a1a" stroke-width="0.9" stroke-linejoin="round" /><polygon points="321,167.6 326.9,170.8 335.2,167.4 329.3,164.2" fill="#fff" stroke="#1a1a1a" stroke-width="0.9" stroke-linejoin="round" />
<polygon points="317.5,198.2 327.4,203.5 327.4,210.3 317.5,205" fill="#111" stroke="#1a1a1a" stroke-width="0.9" stroke-linejoin="round" /><polygon points="327.4,203.5 343,197.2 343,204 327.4,210.3" fill="#fff" stroke="#1a1a1a" stroke-width="0.9" stroke-linejoin="round" /><polygon points="317.5,198.2 327.4,203.5 343,197.2 333.1,192" fill="#fff" stroke="#1a1a1a" stroke-width="0.9" stroke-linejoin="round" />
<polygon points="276,212.9 285.9,218.2 285.9,226.3 276,221" fill="#111" stroke="#1a1a1a" stroke-width="0.9" stroke-linejoin="round" /><polygon points="285.9,218.2 302.5,211.4 302.5,219.5 285.9,226.3" fill="#fff" stroke="#1a1a1a" stroke-width="0.9" stroke-linejoin="round" /><polygon points="276,212.9 285.9,218.2 302.5,211.4 292.6,206.2" fill="#fff" stroke="#1a1a1a" stroke-width="0.9" stroke-linejoin="round" />
<polygon points="369,188.9 393.7,202 393.7,210.1 369,197" fill="#111" stroke="#1a1a1a" stroke-width="0.9" stroke-linejoin="round" /><polygon points="393.7,202 403.1,198.3 403.1,206.4 393.7,210.1" fill="#fff" stroke="#1a1a1a" stroke-width="0.9" stroke-linejoin="round" /><polygon points="369,188.9 393.7,202 403.1,198.3 378.3,185.1" fill="#fff" stroke="#1a1a1a" stroke-width="0.9" stroke-linejoin="round" />
<polygon points="351,210.6 363.9,217.4 363.9,222.8 351,216" fill="#111" stroke="#1a1a1a" stroke-width="0.9" stroke-linejoin="round" /><polygon points="363.9,217.4 375.3,212.8 375.3,218.2 363.9,222.8" fill="#fff" stroke="#1a1a1a" stroke-width="0.9" stroke-linejoin="round" /><polygon points="351,210.6 363.9,217.4 375.3,212.8 362.4,206" fill="#fff" stroke="#1a1a1a" stroke-width="0.9" stroke-linejoin="round" />
<polygon points="384,214.9 396.9,221.7 396.9,229.8 384,223" fill="#111" stroke="#1a1a1a" stroke-width="0.9" stroke-linejoin="round" /><polygon points="396.9,221.7 410.4,216.3 410.4,224.4 396.9,229.8" fill="#fff" stroke="#1a1a1a" stroke-width="0.9" stroke-linejoin="round" /><polygon points="384,214.9 396.9,221.7 410.4,216.3 397.5,209.4" fill="#fff" stroke="#1a1a1a" stroke-width="0.9" stroke-linejoin="round" />
<polygon points="419,211.2 431.9,218.1 431.9,224.8 419,218" fill="#111" stroke="#1a1a1a" stroke-width="0.9" stroke-linejoin="round" /><polygon points="431.9,218.1 445.4,212.6 445.4,219.4 431.9,224.8" fill="#fff" stroke="#1a1a1a" stroke-width="0.9" stroke-linejoin="round" /><polygon points="419,211.2 431.9,218.1 445.4,212.6 432.5,205.8" fill="#fff" stroke="#1a1a1a" stroke-width="0.9" stroke-linejoin="round" />
<polygon points="339,235.9 358.8,246.4 358.8,254.5 339,244" fill="#111" stroke="#1a1a1a" stroke-width="0.9" stroke-linejoin="round" /><polygon points="358.8,246.4 370.2,241.8 370.2,249.9 358.8,254.5" fill="#fff" stroke="#1a1a1a" stroke-width="0.9" stroke-linejoin="round" /><polygon points="339,235.9 358.8,246.4 370.2,241.8 350.4,231.3" fill="#fff" stroke="#1a1a1a" stroke-width="0.9" stroke-linejoin="round" />
<polygon points="309,240.6 321.9,247.4 321.9,256.8 309,250" fill="#111" stroke="#1a1a1a" stroke-width="0.9" stroke-linejoin="round" /><polygon points="321.9,247.4 337.4,241.1 337.4,250.5 321.9,256.8" fill="#fff" stroke="#1a1a1a" stroke-width="0.9" stroke-linejoin="round" /><polygon points="309,240.6 321.9,247.4 337.4,241.1 324.6,234.3" fill="#fff" stroke="#1a1a1a" stroke-width="0.9" stroke-linejoin="round" />
<polygon points="337.5,251.6 345.4,255.8 345.4,261.2 337.5,257" fill="#111" stroke="#1a1a1a" stroke-width="0.9" stroke-linejoin="round" /><polygon points="345.4,255.8 353.7,252.4 353.7,257.8 345.4,261.2" fill="#fff" stroke="#1a1a1a" stroke-width="0.9" stroke-linejoin="round" /><polygon points="337.5,251.6 345.4,255.8 353.7,252.4 345.8,248.2" fill="#fff" stroke="#1a1a1a" stroke-width="0.9" stroke-linejoin="round" />
<polygon points="412.5,264.2 432.3,274.8 432.3,281.5 412.5,271" fill="#111" stroke="#1a1a1a" stroke-width="0.9" stroke-linejoin="round" /><polygon points="432.3,274.8 440.6,271.4 440.6,278.2 432.3,281.5" fill="#fff" stroke="#1a1a1a" stroke-width="0.9" stroke-linejoin="round" /><polygon points="412.5,264.2 432.3,274.8 440.6,271.4 420.8,260.9" fill="#fff" stroke="#1a1a1a" stroke-width="0.9" stroke-linejoin="round" />
<polygon points="416,212.2 430.8,220.1 430.8,226.9 416,219" fill="#111" stroke="#1a1a1a" stroke-width="0.9" stroke-linejoin="round" /><polygon points="430.8,220.1 442.3,215.5 442.3,222.3 430.8,226.9" fill="#fff" stroke="#1a1a1a" stroke-width="0.9" stroke-linejoin="round" /><polygon points="416,212.2 430.8,220.1 442.3,215.5 427.4,207.6" fill="#fff" stroke="#1a1a1a" stroke-width="0.9" stroke-linejoin="round" />
<polygon points="461,235.2 482.8,246.8 482.8,253.6 461,242" fill="#111" stroke="#1a1a1a" stroke-width="0.9" stroke-linejoin="round" /><polygon points="482.8,246.8 493.1,242.6 493.1,249.4 482.8,253.6" fill="#fff" stroke="#1a1a1a" stroke-width="0.9" stroke-linejoin="round" /><polygon points="461,235.2 482.8,246.8 493.1,242.6 471.4,231.1" fill="#fff" stroke="#1a1a1a" stroke-width="0.9" stroke-linejoin="round" />
<polygon points="459,273.9 466.9,278.2 466.9,282.2 459,278" fill="#111" stroke="#1a1a1a" stroke-width="0.9" stroke-linejoin="round" /><polygon points="466.9,278.2 473.1,275.6 473.1,279.7 466.9,282.2" fill="#fff" stroke="#1a1a1a" stroke-width="0.9" stroke-linejoin="round" /><polygon points="459,273.9 466.9,278.2 473.1,275.6 465.2,271.4" fill="#fff" stroke="#1a1a1a" stroke-width="0.9" stroke-linejoin="round" />
<polygon points="440,253.6 449.9,258.9 449.9,264.3 440,259" fill="#111" stroke="#1a1a1a" stroke-width="0.9" stroke-linejoin="round" /><polygon points="449.9,258.9 460.3,254.7 460.3,260.1 449.9,264.3" fill="#fff" stroke="#1a1a1a" stroke-width="0.9" stroke-linejoin="round" /><polygon points="440,253.6 449.9,258.9 460.3,254.7 450.4,249.4" fill="#fff" stroke="#1a1a1a" stroke-width="0.9" stroke-linejoin="round" />
<polygon points="425,245.6 432.9,249.8 432.9,255.2 425,251" fill="#111" stroke="#1a1a1a" stroke-width="0.9" stroke-linejoin="round" /><polygon points="432.9,249.8 441.2,246.4 441.2,251.8 432.9,255.2" fill="#fff" stroke="#1a1a1a" stroke-width="0.9" stroke-linejoin="round" /><polygon points="425,245.6 432.9,249.8 441.2,246.4 433.3,242.2" fill="#fff" stroke="#1a1a1a" stroke-width="0.9" stroke-linejoin="round" />
<polygon points="364,279.5 400.2,306.3 400.2,314.3 364,287.5" fill="#111" stroke="#1a1a1a" stroke-width="0.9" stroke-linejoin="round" /><polygon points="400.2,306.3 413.4,299.2 413.4,307.2 400.2,314.3" fill="#fff" stroke="#1a1a1a" stroke-width="0.9" stroke-linejoin="round" /><polygon points="364,279.5 400.2,306.3 413.4,299.2 377.2,272.5" fill="#fff" stroke="#1a1a1a" stroke-width="0.9" stroke-linejoin="round" />
<polygon points="472.5,292 493.8,300.6 493.8,305.1 472.5,296.5" fill="#111" stroke="#1a1a1a" stroke-width="0.9" stroke-linejoin="round" /><polygon points="493.8,300.6 518.7,285.7 518.7,290.2 493.8,305.1" fill="#fff" stroke="#1a1a1a" stroke-width="0.9" stroke-linejoin="round" /><polygon points="472.5,292 493.8,300.6 518.7,285.7 497.4,277.1" fill="#fff" stroke="#1a1a1a" stroke-width="0.9" stroke-linejoin="round" />
<line x1="181.3" y1="138.4" x2="181.3" y2="144.7" stroke="#1a1a1a" stroke-width="0.9" /><path d="M186.8 133C186.8 134.6 185.9 136.6 185.2 137.8C184.4 139 183.2 139.8 182.1 140.1C181 140.4 179.6 140.4 178.7 139.6C177.7 138.9 176.9 137.1 176.5 135.5C176.1 134 175.7 131.6 176 130.2C176.4 128.7 177.8 127.4 178.8 126.7C179.8 125.9 181.1 125.2 182.2 125.5C183.2 125.7 184.5 126.7 185.3 127.9C186.1 129.2 186.8 131.3 186.8 133Z" fill="#fff" stroke="#1a1a1a" stroke-width="0.9" stroke-linecap="round" stroke-linejoin="round" />
<line x1="277.5" y1="138.6" x2="277.5" y2="144.6" stroke="#1a1a1a" stroke-width="0.9" /><path d="M277.5 126.4C280.4 131.4 285.8 140.6 277.5 140.6C269.2 140.6 274.6 131.4 277.5 126.4Z" fill="#fff" stroke="#1a1a1a" stroke-width="0.9" stroke-linecap="round" stroke-linejoin="round" />
<line x1="158.6" y1="139.9" x2="158.6" y2="146.2" stroke="#1a1a1a" stroke-width="0.9" /><path d="M166.2 134.6C166 136.2 164.3 137.8 163.2 138.9C162.1 140.1 161 140.8 159.7 141.3C158.3 141.7 156.2 142.4 154.9 141.7C153.6 141.1 152.3 139 151.8 137.4C151.3 135.7 151.4 133.4 151.9 132C152.5 130.5 154.1 129.3 155.4 128.4C156.7 127.6 158.4 126.8 159.8 127C161.2 127.2 162.9 128.4 163.9 129.7C165 130.9 166.3 133.1 166.2 134.6Z" fill="#fff" stroke="#1a1a1a" stroke-width="0.9" stroke-linecap="round" stroke-linejoin="round" />
<line x1="229.2" y1="141.1" x2="229.2" y2="147.7" stroke="#1a1a1a" stroke-width="0.9" /><path d="M229.2 125.2C232.6 131.5 238.6 143.7 229.2 143.7C219.8 143.7 225.9 131.5 229.2 125.2Z" fill="#fff" stroke="#1a1a1a" stroke-width="0.9" stroke-linecap="round" stroke-linejoin="round" />
<line x1="247.5" y1="140" x2="247.5" y2="146.2" stroke="#1a1a1a" stroke-width="0.9" /><path d="M247.5 126.8C251 132.1 257.4 142.2 247.5 142.2C237.6 142.2 244 132.1 247.5 126.8Z" fill="#fff" stroke="#1a1a1a" stroke-width="0.9" stroke-linecap="round" stroke-linejoin="round" />
<line x1="100" y1="147.6" x2="100" y2="154.8" stroke="#1a1a1a" stroke-width="0.9" /><path d="M108.8 140C108.8 142.4 108 145.5 106.8 147.5C105.6 149.4 103.5 151.4 101.6 151.8C99.7 152.2 97.3 151.2 95.6 149.9C93.9 148.6 91.8 146.3 91.4 144.1C91 141.9 92.4 139 93.2 136.7C93.9 134.5 94.5 132.2 95.9 130.7C97.3 129.3 99.8 127.8 101.6 128.2C103.4 128.5 105.4 130.8 106.6 132.8C107.8 134.8 108.7 137.6 108.8 140Z" fill="#fff" stroke="#1a1a1a" stroke-width="0.9" stroke-linecap="round" stroke-linejoin="round" />
<line x1="266" y1="145" x2="266" y2="151.2" stroke="#1a1a1a" stroke-width="0.9" /><path d="M272.4 140C272.3 141.6 271.4 143.5 270.5 144.6C269.6 145.7 268.1 146.5 267 146.7C265.8 146.8 264.5 146.1 263.4 145.5C262.3 144.8 260.7 143.9 260.2 142.6C259.7 141.2 260.1 139.1 260.5 137.6C260.9 136 261.8 134.1 262.9 133.4C263.9 132.6 265.7 132.9 267 133.1C268.3 133.4 269.9 133.9 270.8 135.1C271.7 136.2 272.4 138.4 272.4 140Z" fill="#fff" stroke="#1a1a1a" stroke-width="0.9" stroke-linecap="round" stroke-linejoin="round" />
<line x1="169" y1="150.7" x2="169" y2="157.6" stroke="#1a1a1a" stroke-width="0.9" /><path d="M169 133.4C171.9 140.2 177.3 153.6 169 153.6C160.7 153.6 166.1 140.2 169 133.4Z" fill="#fff" stroke="#1a1a1a" stroke-width="0.9" stroke-linecap="round" stroke-linejoin="round" />
<line x1="216.9" y1="152.1" x2="216.9" y2="158" stroke="#1a1a1a" stroke-width="0.9" /><path d="M216.9 140.6C220.4 145.3 226.7 154 216.9 154C207.1 154 213.4 145.3 216.9 140.6Z" fill="#fff" stroke="#1a1a1a" stroke-width="0.9" stroke-linecap="round" stroke-linejoin="round" />
<line x1="133.7" y1="154.6" x2="133.7" y2="161.3" stroke="#1a1a1a" stroke-width="0.9" /><path d="M138.3 148.4C138.2 150.2 137.6 152 137 153.6C136.4 155.2 135.5 157.7 134.6 157.9C133.7 158.2 132.5 156.2 131.6 155.1C130.7 154 129.7 153.1 129.2 151.4C128.7 149.7 128.4 146.7 128.7 145C129.1 143.4 130.6 142.4 131.5 141.5C132.5 140.6 133.5 139.4 134.5 139.5C135.5 139.7 136.8 141 137.4 142.5C138.1 144 138.4 146.5 138.3 148.4Z" fill="#fff" stroke="#1a1a1a" stroke-width="0.9" stroke-linecap="round" stroke-linejoin="round" />
<line x1="111" y1="153.8" x2="111" y2="159.4" stroke="#1a1a1a" stroke-width="0.9" /><path d="M115.6 150C115.7 151.1 115.3 152.7 114.7 153.5C114 154.4 112.8 154.7 111.8 154.9C110.7 155.2 109.4 155.5 108.5 155C107.5 154.6 106.5 153.2 106.2 152C105.9 150.8 106 149.1 106.4 148.1C106.8 147 107.9 146.3 108.8 145.7C109.7 145.1 110.9 144.5 111.8 144.7C112.8 144.8 113.8 145.8 114.5 146.7C115.1 147.6 115.6 148.9 115.6 150Z" fill="#fff" stroke="#1a1a1a" stroke-width="0.9" stroke-linecap="round" stroke-linejoin="round" />
<line x1="304" y1="156.7" x2="304" y2="162.5" stroke="#1a1a1a" stroke-width="0.9" /><path d="M309.4 152.5C309.4 153.9 309.2 155.8 308.5 156.8C307.8 157.7 306.1 158.2 304.9 158.4C303.7 158.5 302.3 158.3 301.3 157.7C300.3 157.1 299.2 155.8 298.9 154.6C298.6 153.4 299 151.8 299.4 150.6C299.8 149.4 300.4 148 301.3 147.3C302.3 146.6 303.8 146.2 305 146.4C306.1 146.6 307.6 147.3 308.4 148.4C309.1 149.4 309.4 151.1 309.4 152.5Z" fill="#fff" stroke="#1a1a1a" stroke-width="0.9" stroke-linecap="round" stroke-linejoin="round" />
<line x1="312.5" y1="156.7" x2="312.5" y2="162.5" stroke="#1a1a1a" stroke-width="0.9" /><path d="M318 152.5C318 153.8 317.5 155.6 316.7 156.5C316 157.4 314.4 157.8 313.3 157.9C312.2 158 311.1 157.6 310.2 157.1C309.2 156.5 308.1 155.6 307.7 154.5C307.3 153.4 307.5 151.8 307.8 150.6C308.1 149.3 308.7 147.6 309.6 146.9C310.6 146.2 312.3 146 313.5 146.3C314.6 146.6 315.9 147.5 316.7 148.5C317.4 149.6 318 151.2 318 152.5Z" fill="#fff" stroke="#1a1a1a" stroke-width="0.9" stroke-linecap="round" stroke-linejoin="round" />
<line x1="305.9" y1="159.3" x2="305.9" y2="165.9" stroke="#1a1a1a" stroke-width="0.9" /><path d="M305.9 143.3C309 149.6 314.5 161.9 305.9 161.9C297.4 161.9 302.9 149.6 305.9 143.3Z" fill="#fff" stroke="#1a1a1a" stroke-width="0.9" stroke-linecap="round" stroke-linejoin="round" />
<line x1="151" y1="159.9" x2="151" y2="166.4" stroke="#1a1a1a" stroke-width="0.9" /><path d="M151 144.6C154.5 150.6 160.9 162.4 151 162.4C141.1 162.4 147.5 150.6 151 144.6Z" fill="#fff" stroke="#1a1a1a" stroke-width="0.9" stroke-linecap="round" stroke-linejoin="round" />
<line x1="262" y1="160.8" x2="262" y2="166.4" stroke="#1a1a1a" stroke-width="0.9" /><path d="M266.1 157C266.1 158.3 266.4 159.9 265.8 160.7C265.3 161.5 263.8 161.6 262.7 161.9C261.7 162.1 260.1 162.8 259.4 162.2C258.6 161.7 258.5 159.8 258.1 158.6C257.7 157.4 256.9 156.1 257.1 155C257.4 153.9 258.6 152.7 259.5 152.1C260.5 151.5 261.8 151 262.9 151.2C264 151.4 265.5 152.1 266.1 153.1C266.6 154.1 266.2 155.7 266.1 157Z" fill="#fff" stroke="#1a1a1a" stroke-width="0.9" stroke-linecap="round" stroke-linejoin="round" />
<line x1="254.6" y1="165.4" x2="254.6" y2="171.8" stroke="#1a1a1a" stroke-width="0.9" /><path d="M254.6 150.7C257.1 156.6 261.7 167.8 254.6 167.8C247.5 167.8 252 156.6 254.6 150.7Z" fill="#fff" stroke="#1a1a1a" stroke-width="0.9" stroke-linecap="round" stroke-linejoin="round" />
<line x1="177.5" y1="164.2" x2="177.5" y2="170" stroke="#1a1a1a" stroke-width="0.9" /><path d="M183.2 160C183.3 161.3 182.8 163.4 182 164.3C181.2 165.2 179.6 165.4 178.4 165.6C177.1 165.8 175.7 166.1 174.7 165.5C173.6 165 172.6 163.4 172.3 162.2C171.9 160.9 171.8 159 172.3 157.9C172.8 156.7 174.1 155.8 175.1 155.3C176.1 154.8 177.3 154.6 178.3 154.8C179.4 154.9 180.6 155.4 181.4 156.3C182.3 157.1 183.1 158.7 183.2 160Z" fill="#fff" stroke="#1a1a1a" stroke-width="0.9" stroke-linecap="round" stroke-linejoin="round" />
<line x1="295" y1="163.8" x2="295" y2="169.4" stroke="#1a1a1a" stroke-width="0.9" /><path d="M295 153.6C297.4 157.8 301.6 165.4 295 165.4C288.4 165.4 292.6 157.8 295 153.6Z" fill="#fff" stroke="#1a1a1a" stroke-width="0.9" stroke-linecap="round" stroke-linejoin="round" />
<line x1="139" y1="169" x2="139" y2="175.2" stroke="#1a1a1a" stroke-width="0.9" /><path d="M144.7 164C144.7 165.5 143.9 167.5 143.1 168.7C142.3 169.8 141 170.9 139.9 171.1C138.8 171.3 137.5 170.8 136.4 170.1C135.3 169.3 133.7 168.2 133.4 166.8C133 165.4 133.7 163.1 134.3 161.7C134.8 160.3 135.6 159 136.6 158.3C137.5 157.6 138.8 157.1 139.9 157.3C140.9 157.6 142 158.5 142.8 159.6C143.6 160.8 144.6 162.5 144.7 164Z" fill="#fff" stroke="#1a1a1a" stroke-width="0.9" stroke-linecap="round" stroke-linejoin="round" />
<line x1="225" y1="169.2" x2="225" y2="175" stroke="#1a1a1a" stroke-width="0.9" /><path d="M230.6 165C230.7 166.3 230.1 168 229.3 169.1C228.6 170.2 227.2 171.4 226 171.5C224.9 171.6 223.5 170.6 222.5 169.9C221.5 169.2 220.3 168.3 219.8 167.1C219.3 165.9 219.1 164 219.5 162.7C219.9 161.4 221 159.9 222.1 159.3C223.2 158.7 224.8 158.6 225.9 159C227 159.3 228 160.5 228.7 161.5C229.5 162.5 230.5 163.7 230.6 165Z" fill="#fff" stroke="#1a1a1a" stroke-width="0.9" stroke-linecap="round" stroke-linejoin="round" />
<line x1="127.5" y1="173.4" x2="127.5" y2="179.9" stroke="#1a1a1a" stroke-width="0.9" /><path d="M127.5 158.1C131 164.1 137.4 175.9 127.5 175.9C117.6 175.9 124 164.1 127.5 158.1Z" fill="#fff" stroke="#1a1a1a" stroke-width="0.9" stroke-linecap="round" stroke-linejoin="round" />
<line x1="315" y1="172.1" x2="315" y2="178.1" stroke="#1a1a1a" stroke-width="0.9" /><path d="M319.8 167.5C319.8 168.8 319.2 170 318.6 171.2C318 172.5 317 174.6 316 174.8C315 175.1 313.5 173.6 312.6 172.8C311.6 171.9 310.9 170.8 310.5 169.5C310 168.3 309.5 166.4 309.8 165.2C310.1 163.9 311.4 162.8 312.4 162C313.5 161.2 315 160.1 316 160.4C317.1 160.6 318.2 162.4 318.8 163.5C319.4 164.7 319.9 166.2 319.8 167.5Z" fill="#fff" stroke="#1a1a1a" stroke-width="0.9" stroke-linecap="round" stroke-linejoin="round" />
<line x1="112" y1="175.8" x2="112" y2="181.4" stroke="#1a1a1a" stroke-width="0.9" /><path d="M117.2 172C117.3 173.2 116.7 175 116 175.8C115.2 176.6 113.8 176.6 112.7 176.8C111.7 176.9 110.4 177.3 109.6 176.8C108.7 176.3 108 174.9 107.6 173.8C107.3 172.7 107.2 171.1 107.5 170.1C107.9 169.1 109 168.3 109.9 167.8C110.7 167.2 111.8 167 112.8 167.1C113.7 167.2 114.8 167.8 115.6 168.6C116.3 169.4 117.2 170.8 117.2 172Z" fill="#fff" stroke="#1a1a1a" stroke-width="0.9" stroke-linecap="round" stroke-linejoin="round" />
<line x1="316.8" y1="176.8" x2="316.8" y2="182.7" stroke="#1a1a1a" stroke-width="0.9" /><path d="M322.8 172.4C322.7 173.7 321.5 175 320.7 176.1C319.9 177.3 318.9 179.1 317.9 179.4C316.8 179.6 315.3 178.2 314.2 177.4C313.1 176.6 311.7 175.8 311.3 174.6C311 173.5 311.7 171.8 312.1 170.5C312.5 169.1 312.9 167.2 313.8 166.6C314.7 166 316.4 166.5 317.6 166.8C318.9 167 320.4 167.2 321.2 168.2C322.1 169.1 322.9 171.1 322.8 172.4Z" fill="#fff" stroke="#1a1a1a" stroke-width="0.9" stroke-linecap="round" stroke-linejoin="round" />
<line x1="99.1" y1="178" x2="99.1" y2="184.3" stroke="#1a1a1a" stroke-width="0.9" /><path d="M99.1 164.2C102 169.7 107.1 180.3 99.1 180.3C91.2 180.3 96.3 169.7 99.1 164.2Z" fill="#fff" stroke="#1a1a1a" stroke-width="0.9" stroke-linecap="round" stroke-linejoin="round" />
<line x1="296.1" y1="180.1" x2="296.1" y2="186.8" stroke="#1a1a1a" stroke-width="0.9" /><path d="M301 174C301 175.8 300.5 177.7 299.9 179.2C299.2 180.7 298.1 182.6 297.1 182.9C296.1 183.1 294.8 181.7 293.8 180.8C292.7 179.8 291.3 178.9 290.8 177.2C290.3 175.5 290.3 172.4 290.8 170.7C291.3 169.1 292.7 168.2 293.8 167.2C294.8 166.2 296 164.7 297.1 164.9C298.2 165 299.5 166.8 300.2 168.3C300.8 169.8 301.1 172.1 301 174Z" fill="#fff" stroke="#1a1a1a" stroke-width="0.9" stroke-linecap="round" stroke-linejoin="round" />
<line x1="154" y1="179.5" x2="154" y2="185.8" stroke="#1a1a1a" stroke-width="0.9" /><path d="M160.8 174C161 175.7 160.5 178.4 159.5 179.6C158.6 180.8 156.4 181 155 181.1C153.6 181.2 152.4 180.7 151.1 180C149.8 179.3 147.9 178.3 147.4 176.9C146.9 175.5 147.6 173 148.2 171.4C148.7 169.9 149.7 168.4 150.9 167.5C152 166.5 153.9 165.4 155.2 165.7C156.5 166 157.6 168 158.6 169.4C159.5 170.8 160.7 172.3 160.8 174Z" fill="#fff" stroke="#1a1a1a" stroke-width="0.9" stroke-linecap="round" stroke-linejoin="round" />
<line x1="249" y1="179" x2="249" y2="185.2" stroke="#1a1a1a" stroke-width="0.9" /><path d="M249 165.8C251.9 171.1 257.3 181.2 249 181.2C240.7 181.2 246.1 171.1 249 165.8Z" fill="#fff" stroke="#1a1a1a" stroke-width="0.9" stroke-linecap="round" stroke-linejoin="round" />
<line x1="267.5" y1="179" x2="267.5" y2="185.2" stroke="#1a1a1a" stroke-width="0.9" /><path d="M273.2 174C273.2 175.6 273.2 177.9 272.4 179C271.6 180.1 269.8 180.5 268.5 180.7C267.2 180.9 265.6 181 264.5 180.3C263.5 179.5 262.6 177.8 262.2 176.4C261.8 174.9 261.7 173.1 262.1 171.6C262.4 170 263.1 167.7 264.2 167C265.3 166.4 267.1 167.2 268.4 167.6C269.7 168 271.2 168.4 272 169.4C272.7 170.5 273.1 172.4 273.2 174Z" fill="#fff" stroke="#1a1a1a" stroke-width="0.9" stroke-linecap="round" stroke-linejoin="round" />
<line x1="247.5" y1="179.6" x2="247.5" y2="185.6" stroke="#1a1a1a" stroke-width="0.9" /><path d="M253.1 175C253 176.3 252.2 177.6 251.5 178.7C250.7 179.9 249.7 181.5 248.6 181.7C247.4 182 245.8 181.1 244.8 180.3C243.7 179.5 242.7 178.4 242.3 177.1C241.8 175.9 241.7 174.1 242.1 172.8C242.5 171.5 243.4 169.9 244.4 169.1C245.5 168.2 247.4 167.4 248.6 167.7C249.9 168 251.2 169.6 252 170.8C252.7 172 253.2 173.7 253.1 175Z" fill="#fff" stroke="#1a1a1a" stroke-width="0.9" stroke-linecap="round" stroke-linejoin="round" />
<line x1="200" y1="180.2" x2="200" y2="186" stroke="#1a1a1a" stroke-width="0.9" /><path d="M200 169C202.4 173.6 206.6 182 200 182C193.4 182 197.6 173.6 200 169Z" fill="#fff" stroke="#1a1a1a" stroke-width="0.9" stroke-linecap="round" stroke-linejoin="round" />
<line x1="174" y1="183.6" x2="174" y2="189.6" stroke="#1a1a1a" stroke-width="0.9" /><path d="M174 171.4C176.7 176.4 181.4 185.6 174 185.6C166.6 185.6 171.3 176.4 174 171.4Z" fill="#fff" stroke="#1a1a1a" stroke-width="0.9" stroke-linecap="round" stroke-linejoin="round" />
<line x1="130" y1="184.2" x2="130" y2="190" stroke="#1a1a1a" stroke-width="0.9" /><path d="M135.5 180C135.5 181.4 135.2 183.2 134.4 184.2C133.6 185.1 132.1 185.4 130.9 185.6C129.7 185.8 128.3 185.9 127.2 185.4C126.2 184.8 125 183.5 124.5 182.3C124.1 181 124 178.9 124.5 177.7C125 176.6 126.5 175.9 127.6 175.2C128.6 174.6 129.9 173.7 131 173.9C132.1 174 133.4 175 134.2 176C134.9 177.1 135.5 178.6 135.5 180Z" fill="#fff" stroke="#1a1a1a" stroke-width="0.9" stroke-linecap="round" stroke-linejoin="round" />
<line x1="335" y1="184.2" x2="335" y2="190" stroke="#1a1a1a" stroke-width="0.9" /><path d="M340.4 180C340.6 181.3 340.2 183.1 339.4 184.2C338.7 185.3 337.2 186.2 336 186.5C334.8 186.7 333.1 186.4 332.1 185.7C331.1 184.9 330.6 183.3 330.2 182C329.7 180.7 329.1 178.9 329.5 177.7C329.8 176.5 331.3 175.5 332.4 174.9C333.5 174.3 334.8 174.1 335.9 174.4C336.9 174.6 337.9 175.6 338.7 176.5C339.4 177.5 340.3 178.7 340.4 180Z" fill="#fff" stroke="#1a1a1a" stroke-width="0.9" stroke-linecap="round" stroke-linejoin="round" />
<line x1="300" y1="186.2" x2="300" y2="192" stroke="#1a1a1a" stroke-width="0.9" /><path d="M305.6 182C305.6 183.4 305.1 185 304.3 186.1C303.5 187.2 302.1 188.3 301 188.4C299.9 188.6 298.6 187.6 297.5 186.9C296.4 186.2 294.9 185.5 294.4 184.3C294 183.1 294.5 181.2 294.9 179.9C295.4 178.6 296.2 177.2 297.2 176.5C298.2 175.8 299.8 175.5 301 175.7C302.2 175.9 303.7 176.7 304.5 177.7C305.3 178.8 305.7 180.6 305.6 182Z" fill="#fff" stroke="#1a1a1a" stroke-width="0.9" stroke-linecap="round" stroke-linejoin="round" />
<line x1="237.5" y1="187.5" x2="237.5" y2="193.7" stroke="#1a1a1a" stroke-width="0.9" /><path d="M237.5 174.3C240.4 179.6 245.8 189.7 237.5 189.7C229.2 189.7 234.6 179.6 237.5 174.3Z" fill="#fff" stroke="#1a1a1a" stroke-width="0.9" stroke-linecap="round" stroke-linejoin="round" />
<line x1="160.3" y1="188.8" x2="160.3" y2="194.7" stroke="#1a1a1a" stroke-width="0.9" /><path d="M166.2 184.5C166.3 185.8 166.2 187.5 165.4 188.6C164.7 189.7 163 190.8 161.5 191.1C160 191.4 157.9 191 156.7 190.3C155.5 189.5 154.5 188 154.1 186.6C153.6 185.3 153.4 183.6 153.9 182.3C154.4 181.1 155.8 180 157.1 179.4C158.3 178.7 160.1 178.2 161.4 178.4C162.7 178.7 164 179.9 164.8 181C165.6 182 166.1 183.2 166.2 184.5Z" fill="#fff" stroke="#1a1a1a" stroke-width="0.9" stroke-linecap="round" stroke-linejoin="round" />
<line x1="216" y1="190.6" x2="216" y2="196.6" stroke="#1a1a1a" stroke-width="0.9" /><path d="M221.8 186C221.9 187.4 221.6 189.5 220.8 190.5C220 191.4 218.2 191.5 216.9 191.8C215.6 192 214 192.6 212.9 192C211.9 191.4 211.1 189.6 210.6 188.2C210.2 186.8 209.9 184.9 210.3 183.7C210.8 182.4 212.2 181.4 213.3 180.8C214.4 180.1 215.8 179.5 217 179.8C218.1 180 219.5 181 220.3 182C221.1 183 221.7 184.6 221.8 186Z" fill="#fff" stroke="#1a1a1a" stroke-width="0.9" stroke-linecap="round" stroke-linejoin="round" />
<line x1="121" y1="195.5" x2="121" y2="201.8" stroke="#1a1a1a" stroke-width="0.9" /><path d="M121 181.2C124.2 186.9 130.1 197.8 121 197.8C111.9 197.8 117.8 186.9 121 181.2Z" fill="#fff" stroke="#1a1a1a" stroke-width="0.9" stroke-linecap="round" stroke-linejoin="round" />
<line x1="156" y1="196" x2="156" y2="202.2" stroke="#1a1a1a" stroke-width="0.9" /><path d="M162.5 191C162.4 192.4 160.9 194 160 195.1C159.1 196.2 158.2 197.2 157 197.7C155.8 198.2 153.8 198.6 152.7 198C151.6 197.3 150.5 195.1 150.2 193.6C149.9 192 150.5 190.2 151 188.8C151.5 187.3 152.1 185.9 153.2 185C154.2 184.1 155.9 183 157.1 183.2C158.3 183.5 159.6 185.1 160.5 186.4C161.3 187.7 162.5 189.6 162.5 191Z" fill="#fff" stroke="#1a1a1a" stroke-width="0.9" stroke-linecap="round" stroke-linejoin="round" />
<line x1="350" y1="196.9" x2="350" y2="203.4" stroke="#1a1a1a" stroke-width="0.9" /><path d="M350 181.6C353.5 187.6 359.9 199.4 350 199.4C340.1 199.4 346.5 187.6 350 181.6Z" fill="#fff" stroke="#1a1a1a" stroke-width="0.9" stroke-linecap="round" stroke-linejoin="round" />
<line x1="362.5" y1="196.9" x2="362.5" y2="203.4" stroke="#1a1a1a" stroke-width="0.9" /><path d="M367.7 191C367.7 192.6 367.5 194.8 366.8 196.1C366.1 197.4 364.7 198.3 363.5 198.7C362.2 199.1 360.5 199.5 359.4 198.7C358.3 197.9 357.2 195.8 356.7 194C356.2 192.2 355.9 189.4 356.4 187.8C356.9 186.3 358.7 185.3 359.9 184.5C361 183.7 362.4 182.6 363.5 182.9C364.6 183.2 365.8 184.9 366.5 186.2C367.2 187.6 367.7 189.4 367.7 191Z" fill="#fff" stroke="#1a1a1a" stroke-width="0.9" stroke-linecap="round" stroke-linejoin="round" />
<line x1="321.9" y1="197.1" x2="321.9" y2="203.2" stroke="#1a1a1a" stroke-width="0.9" /><path d="M321.9 183.9C325.3 189.2 331.4 199.2 321.9 199.2C312.5 199.2 318.6 189.2 321.9 183.9Z" fill="#fff" stroke="#1a1a1a" stroke-width="0.9" stroke-linecap="round" stroke-linejoin="round" />
<line x1="311" y1="199.5" x2="311" y2="205.8" stroke="#1a1a1a" stroke-width="0.9" /><path d="M311 185.2C314.2 190.9 320.1 201.8 311 201.8C301.9 201.8 307.8 190.9 311 185.2Z" fill="#fff" stroke="#1a1a1a" stroke-width="0.9" stroke-linecap="round" stroke-linejoin="round" />
<line x1="227.5" y1="200" x2="227.5" y2="206.2" stroke="#1a1a1a" stroke-width="0.9" /><path d="M227.5 186.8C230.7 192.1 236.6 202.2 227.5 202.2C218.4 202.2 224.3 192.1 227.5 186.8Z" fill="#fff" stroke="#1a1a1a" stroke-width="0.9" stroke-linecap="round" stroke-linejoin="round" />
<line x1="170" y1="199.2" x2="170" y2="205" stroke="#1a1a1a" stroke-width="0.9" /><path d="M174.6 195C174.7 196.2 174.3 197.9 173.7 198.9C173.1 200 171.9 201.3 170.9 201.4C169.9 201.6 168.7 200.6 167.8 199.8C166.9 199.1 165.9 198.2 165.5 197.1C165.2 195.9 165.2 194.2 165.5 192.9C165.8 191.6 166.5 189.7 167.4 189.2C168.3 188.7 169.7 189.4 170.7 189.8C171.7 190.2 172.6 190.7 173.2 191.6C173.9 192.4 174.5 193.8 174.6 195Z" fill="#fff" stroke="#1a1a1a" stroke-width="0.9" stroke-linecap="round" stroke-linejoin="round" />
<line x1="141" y1="201.5" x2="141" y2="207.8" stroke="#1a1a1a" stroke-width="0.9" /><path d="M141 187.2C144.2 192.9 150.1 203.8 141 203.8C131.9 203.8 137.8 192.9 141 187.2Z" fill="#fff" stroke="#1a1a1a" stroke-width="0.9" stroke-linecap="round" stroke-linejoin="round" />
<line x1="400" y1="200.6" x2="400" y2="206.6" stroke="#1a1a1a" stroke-width="0.9" /><path d="M405.9 196C405.9 197.5 406 199.4 405.2 200.5C404.4 201.5 402.5 201.9 401.1 202.2C399.6 202.5 397.5 203 396.4 202.3C395.3 201.7 394.9 199.5 394.4 198.1C393.9 196.6 393.1 194.8 393.5 193.6C393.9 192.4 395.7 191.6 397 190.8C398.3 190 399.9 188.6 401.3 188.7C402.7 188.8 404.7 190.2 405.4 191.4C406.2 192.6 405.9 194.5 405.9 196Z" fill="#fff" stroke="#1a1a1a" stroke-width="0.9" stroke-linecap="round" stroke-linejoin="round" />
<line x1="402.5" y1="201.7" x2="402.5" y2="207.5" stroke="#1a1a1a" stroke-width="0.9" /><path d="M402.5 190.5C404.9 195.1 409.1 203.5 402.5 203.5C395.9 203.5 400.1 195.1 402.5 190.5Z" fill="#fff" stroke="#1a1a1a" stroke-width="0.9" stroke-linecap="round" stroke-linejoin="round" />
<line x1="215" y1="204.2" x2="215" y2="210" stroke="#1a1a1a" stroke-width="0.9" /><path d="M220 200C220.1 201.2 219.9 203.1 219.2 204C218.5 204.9 217 205.3 215.9 205.5C214.7 205.7 213.4 205.7 212.4 205.2C211.3 204.6 209.7 203.5 209.4 202.3C209.1 201.1 210 199.4 210.5 198.2C211 197 211.6 195.8 212.5 195C213.4 194.3 214.9 193.6 216 193.8C217 194.1 218 195.5 218.6 196.5C219.3 197.6 219.9 198.8 220 200Z" fill="#fff" stroke="#1a1a1a" stroke-width="0.9" stroke-linecap="round" stroke-linejoin="round" />
<line x1="118" y1="204.2" x2="118" y2="210" stroke="#1a1a1a" stroke-width="0.9" /><path d="M118 193C120.7 197.6 125.4 206 118 206C110.6 206 115.3 197.6 118 193Z" fill="#fff" stroke="#1a1a1a" stroke-width="0.9" stroke-linecap="round" stroke-linejoin="round" />
<line x1="160.8" y1="205" x2="160.8" y2="211" stroke="#1a1a1a" stroke-width="0.9" /><path d="M166.9 200.5C166.9 201.9 167.1 203.8 166.3 204.9C165.5 205.9 163.5 206.5 162 206.8C160.4 207.1 158.2 207.4 157 206.7C155.7 206 155 204.1 154.5 202.6C153.9 201.2 153.1 199.2 153.6 198C154.2 196.8 156.2 196.1 157.6 195.3C159 194.5 160.7 193.1 162.1 193.3C163.5 193.5 165.1 195.2 165.9 196.4C166.7 197.6 166.8 199.1 166.9 200.5Z" fill="#fff" stroke="#1a1a1a" stroke-width="0.9" stroke-linecap="round" stroke-linejoin="round" />
<line x1="191" y1="206" x2="191" y2="212.2" stroke="#1a1a1a" stroke-width="0.9" /><path d="M198.1 201C198.2 202.4 196.9 204.3 195.9 205.6C194.9 206.8 193.6 208.1 192.2 208.5C190.8 208.9 188.6 208.7 187.4 207.9C186.2 207.1 185.3 205.1 184.9 203.5C184.4 201.9 184.1 199.9 184.5 198.4C185 196.9 186.3 195.3 187.6 194.4C188.9 193.6 190.9 192.9 192.2 193.3C193.5 193.7 194.4 195.6 195.4 196.9C196.4 198.2 198 199.6 198.1 201Z" fill="#fff" stroke="#1a1a1a" stroke-width="0.9" stroke-linecap="round" stroke-linejoin="round" />
<line x1="219.3" y1="207.4" x2="219.3" y2="213.7" stroke="#1a1a1a" stroke-width="0.9" /><path d="M224 201.9C224 203.7 224 205.7 223.3 207C222.7 208.3 221.4 209.2 220.2 209.6C219.1 210 217.4 210.3 216.4 209.4C215.5 208.6 214.9 206.2 214.6 204.5C214.3 202.8 214.2 200.9 214.5 199.3C214.9 197.7 215.7 195.9 216.7 195.1C217.6 194.3 219 194.3 220.2 194.5C221.4 194.7 223 195.2 223.7 196.4C224.3 197.7 224.1 200.2 224 201.9Z" fill="#fff" stroke="#1a1a1a" stroke-width="0.9" stroke-linecap="round" stroke-linejoin="round" />
<line x1="267.9" y1="208.8" x2="267.9" y2="215.2" stroke="#1a1a1a" stroke-width="0.9" /><path d="M267.9 194.1C270.9 199.9 276.2 211.2 267.9 211.2C259.7 211.2 265 199.9 267.9 194.1Z" fill="#fff" stroke="#1a1a1a" stroke-width="0.9" stroke-linecap="round" stroke-linejoin="round" />
<line x1="270.6" y1="210.5" x2="270.6" y2="216.4" stroke="#1a1a1a" stroke-width="0.9" /><path d="M277.5 206C277.6 207.3 276.7 209.1 275.8 210.1C274.8 211.2 273.3 212.1 271.8 212.4C270.3 212.7 268.4 212.6 267 212C265.6 211.3 263.9 209.8 263.4 208.5C263 207.2 263.7 205.2 264.3 203.9C265 202.6 266.2 201.5 267.4 200.9C268.7 200.2 270.5 199.7 271.8 199.9C273.1 200.2 274.3 201.3 275.3 202.4C276.2 203.4 277.4 204.7 277.5 206Z" fill="#fff" stroke="#1a1a1a" stroke-width="0.9" stroke-linecap="round" stroke-linejoin="round" />
<line x1="146.8" y1="211.6" x2="146.8" y2="217.9" stroke="#1a1a1a" stroke-width="0.9" /><path d="M146.8 197.3C149.8 203 155.2 213.9 146.8 213.9C138.3 213.9 143.8 203 146.8 197.3Z" fill="#fff" stroke="#1a1a1a" stroke-width="0.9" stroke-linecap="round" stroke-linejoin="round" />
<line x1="179" y1="212.1" x2="179" y2="218.1" stroke="#1a1a1a" stroke-width="0.9" /><path d="M183.9 207.5C183.9 209 183.9 210.7 183.2 211.9C182.6 213.1 181.1 214.6 180 214.7C178.9 214.8 177.6 213.4 176.6 212.6C175.7 211.7 174.5 210.9 174.1 209.7C173.7 208.5 173.8 206.6 174.2 205.3C174.6 204.1 175.5 202.9 176.5 202.1C177.5 201.3 178.8 200.3 180 200.4C181.2 200.5 182.9 201.6 183.5 202.8C184.2 203.9 184 206 183.9 207.5Z" fill="#fff" stroke="#1a1a1a" stroke-width="0.9" stroke-linecap="round" stroke-linejoin="round" />
<line x1="336" y1="213.4" x2="336" y2="219.9" stroke="#1a1a1a" stroke-width="0.9" /><path d="M336 198.1C339.2 204.1 345.1 215.9 336 215.9C326.9 215.9 332.8 204.1 336 198.1Z" fill="#fff" stroke="#1a1a1a" stroke-width="0.9" stroke-linecap="round" stroke-linejoin="round" />
<line x1="160" y1="213.6" x2="160" y2="219.6" stroke="#1a1a1a" stroke-width="0.9" /><path d="M160 201.4C162.9 206.4 168.3 215.6 160 215.6C151.7 215.6 157.1 206.4 160 201.4Z" fill="#fff" stroke="#1a1a1a" stroke-width="0.9" stroke-linecap="round" stroke-linejoin="round" />
<line x1="395" y1="214.2" x2="395" y2="220" stroke="#1a1a1a" stroke-width="0.9" /><path d="M400.4 210C400.5 211.3 400.1 213.2 399.4 214.2C398.6 215.1 397 215.5 395.9 215.6C394.7 215.8 393.5 215.5 392.5 215C391.4 214.4 390.2 213.3 389.8 212.2C389.4 211 389.6 209.1 390 208C390.5 206.8 391.5 205.6 392.4 205C393.4 204.4 394.8 204 395.9 204.2C397 204.5 398.1 205.3 398.9 206.3C399.6 207.3 400.3 208.7 400.4 210Z" fill="#fff" stroke="#1a1a1a" stroke-width="0.9" stroke-linecap="round" stroke-linejoin="round" />
<line x1="181.1" y1="215.3" x2="181.1" y2="221.3" stroke="#1a1a1a" stroke-width="0.9" /><path d="M187.1 210.6C187.1 212.2 187.6 214.4 186.7 215.4C185.9 216.4 183.6 216.6 182.2 216.7C180.7 216.9 179.1 216.9 177.8 216.3C176.5 215.7 174.8 214.4 174.3 213.1C173.9 211.8 174.6 209.8 175.1 208.4C175.7 207.1 176.6 205.5 177.8 204.9C179 204.2 180.7 204.5 182.1 204.6C183.6 204.8 185.9 204.9 186.7 205.9C187.5 206.9 187.1 209 187.1 210.6Z" fill="#fff" stroke="#1a1a1a" stroke-width="0.9" stroke-linecap="round" stroke-linejoin="round" />
<line x1="200" y1="217" x2="200" y2="223.7" stroke="#1a1a1a" stroke-width="0.9" /><path d="M200 200.8C202.8 207.2 207.9 219.7 200 219.7C192.1 219.7 197.2 207.2 200 200.8Z" fill="#fff" stroke="#1a1a1a" stroke-width="0.9" stroke-linecap="round" stroke-linejoin="round" />
<line x1="147" y1="215.8" x2="147" y2="221.4" stroke="#1a1a1a" stroke-width="0.9" /><path d="M151.9 212C151.9 213.1 151.2 214.4 150.5 215.4C149.9 216.4 148.8 217.8 147.9 217.9C147 218 145.9 216.7 144.9 216.1C143.9 215.5 142.5 215.1 142 214.1C141.6 213.1 141.9 211.2 142.3 210.1C142.7 208.9 143.5 207.6 144.5 207C145.4 206.3 146.9 206 147.9 206.3C148.9 206.6 149.7 207.8 150.3 208.8C151 209.7 151.8 210.9 151.9 212Z" fill="#fff" stroke="#1a1a1a" stroke-width="0.9" stroke-linecap="round" stroke-linejoin="round" />
<line x1="240" y1="217.1" x2="240" y2="223.1" stroke="#1a1a1a" stroke-width="0.9" /><path d="M240 204.9C243.8 209.9 250.7 219.1 240 219.1C229.3 219.1 236.2 209.9 240 204.9Z" fill="#fff" stroke="#1a1a1a" stroke-width="0.9" stroke-linecap="round" stroke-linejoin="round" />
<line x1="315" y1="219.5" x2="315" y2="225.8" stroke="#1a1a1a" stroke-width="0.9" /><path d="M315 205.2C317.9 210.9 323.3 221.8 315 221.8C306.7 221.8 312.1 210.9 315 205.2Z" fill="#fff" stroke="#1a1a1a" stroke-width="0.9" stroke-linecap="round" stroke-linejoin="round" />
<line x1="376" y1="220.6" x2="376" y2="226.6" stroke="#1a1a1a" stroke-width="0.9" /><path d="M376 208.4C379.2 213.4 385.1 222.6 376 222.6C366.9 222.6 372.8 213.4 376 208.4Z" fill="#fff" stroke="#1a1a1a" stroke-width="0.9" stroke-linecap="round" stroke-linejoin="round" />
<line x1="244" y1="220.2" x2="244" y2="226" stroke="#1a1a1a" stroke-width="0.9" /><path d="M249.2 216C249.3 217.3 248.6 219 247.8 220.1C247.1 221.2 245.9 222.4 244.9 222.5C243.9 222.6 242.8 221.4 241.9 220.7C241 220 239.8 219.2 239.5 218.1C239.1 217 239.3 215.1 239.6 214C240 212.8 240.9 211.8 241.8 211.1C242.7 210.4 243.9 209.4 244.9 209.6C245.8 209.8 246.7 211.2 247.5 212.3C248.2 213.4 249.2 214.7 249.2 216Z" fill="#fff" stroke="#1a1a1a" stroke-width="0.9" stroke-linecap="round" stroke-linejoin="round" />
<line x1="324" y1="223" x2="324" y2="229.3" stroke="#1a1a1a" stroke-width="0.9" /><path d="M328.8 217.5C328.7 219.2 328.4 220.8 327.7 222.1C327.1 223.4 326 225.1 324.9 225.4C323.9 225.7 322.5 224.8 321.5 224C320.4 223.1 319 222 318.5 220.4C318 218.9 318.2 216.4 318.7 214.6C319.1 212.9 320.1 210.9 321.1 210.1C322.1 209.4 323.7 209.7 324.9 210C326.1 210.3 327.8 210.8 328.4 212.1C329 213.3 328.9 215.8 328.8 217.5Z" fill="#fff" stroke="#1a1a1a" stroke-width="0.9" stroke-linecap="round" stroke-linejoin="round" />
<line x1="311.7" y1="223.1" x2="311.7" y2="229.1" stroke="#1a1a1a" stroke-width="0.9" /><path d="M317.9 218.2C317.9 219.6 317.6 221.6 316.7 222.6C315.8 223.7 314.2 224 312.8 224.4C311.3 224.8 309.2 225.6 308.1 225C307 224.3 306.6 221.9 306.1 220.4C305.7 218.8 305 217.1 305.3 215.7C305.7 214.3 307.1 212.8 308.4 212C309.7 211.2 311.6 210.6 312.9 210.9C314.3 211.2 315.8 212.6 316.6 213.8C317.5 215 317.9 216.7 317.9 218.2Z" fill="#fff" stroke="#1a1a1a" stroke-width="0.9" stroke-linecap="round" stroke-linejoin="round" />
<line x1="410" y1="224.2" x2="410" y2="230" stroke="#1a1a1a" stroke-width="0.9" /><path d="M410 213C413.2 217.6 419.1 226 410 226C400.9 226 406.8 217.6 410 213Z" fill="#fff" stroke="#1a1a1a" stroke-width="0.9" stroke-linecap="round" stroke-linejoin="round" />
<line x1="411" y1="225.2" x2="411" y2="231" stroke="#1a1a1a" stroke-width="0.9" /><path d="M411 214C413.9 218.6 419.3 227 411 227C402.7 227 408.1 218.6 411 214Z" fill="#fff" stroke="#1a1a1a" stroke-width="0.9" stroke-linecap="round" stroke-linejoin="round" />
<line x1="475" y1="224.8" x2="475" y2="230.4" stroke="#1a1a1a" stroke-width="0.9" /><path d="M475 214.6C477.4 218.8 481.6 226.4 475 226.4C468.4 226.4 472.6 218.8 475 214.6Z" fill="#fff" stroke="#1a1a1a" stroke-width="0.9" stroke-linecap="round" stroke-linejoin="round" />
<line x1="430.9" y1="226.8" x2="430.9" y2="232.9" stroke="#1a1a1a" stroke-width="0.9" /><path d="M437.4 221.9C437.3 223.3 436.3 224.9 435.4 226C434.5 227 433.2 227.8 431.9 228.1C430.7 228.4 429.2 228.3 427.9 227.7C426.6 227.1 425 225.9 424.4 224.5C423.8 223.1 423.7 220.7 424.3 219.3C424.9 217.9 426.6 216.8 427.9 216.2C429.2 215.5 430.7 215 432 215.2C433.4 215.4 434.9 216.4 435.8 217.5C436.7 218.7 437.4 220.5 437.4 221.9Z" fill="#fff" stroke="#1a1a1a" stroke-width="0.9" stroke-linecap="round" stroke-linejoin="round" />
<line x1="452.5" y1="229.5" x2="452.5" y2="235.8" stroke="#1a1a1a" stroke-width="0.9" /><path d="M457.7 224C457.6 225.6 456.8 227.1 456.1 228.4C455.4 229.8 454.5 231.8 453.5 232.2C452.4 232.6 450.8 232 449.7 231C448.7 230.1 447.7 228.4 447.3 226.8C446.9 225.2 447.1 223 447.5 221.4C447.9 219.7 448.7 217.9 449.7 217C450.7 216 452.3 215.3 453.5 215.6C454.7 215.9 456.1 217.3 456.8 218.7C457.5 220.1 457.8 222.4 457.7 224Z" fill="#fff" stroke="#1a1a1a" stroke-width="0.9" stroke-linecap="round" stroke-linejoin="round" />
<line x1="297.5" y1="229.2" x2="297.5" y2="235" stroke="#1a1a1a" stroke-width="0.9" /><path d="M297.5 218C300.2 222.6 304.9 231 297.5 231C290.1 231 294.8 222.6 297.5 218Z" fill="#fff" stroke="#1a1a1a" stroke-width="0.9" stroke-linecap="round" stroke-linejoin="round" />
<line x1="419.3" y1="232.4" x2="419.3" y2="239" stroke="#1a1a1a" stroke-width="0.9" /><path d="M425.2 226.5C425.1 228.3 424.5 230.1 423.7 231.6C422.9 233.1 421.6 235.3 420.4 235.5C419.2 235.8 417.6 234.2 416.4 233.1C415.3 232.1 414 231 413.4 229.4C412.9 227.8 412.9 225.3 413.3 223.6C413.8 221.8 414.9 219.7 416.1 219C417.2 218.2 418.9 218.6 420.2 218.9C421.6 219.2 423.4 219.6 424.2 220.9C425 222.2 425.3 224.7 425.2 226.5Z" fill="#fff" stroke="#1a1a1a" stroke-width="0.9" stroke-linecap="round" stroke-linejoin="round" />
<line x1="355" y1="232.2" x2="355" y2="238" stroke="#1a1a1a" stroke-width="0.9" /><path d="M359.8 228C359.8 229.4 360.1 231.2 359.5 232.3C358.9 233.3 357.1 234.1 356 234.2C354.8 234.4 353.5 233.6 352.5 232.9C351.5 232.2 350.4 231.1 350.1 230C349.8 228.9 350.2 227.3 350.6 226.2C351 225.1 351.7 224 352.6 223.3C353.5 222.5 354.8 221.8 356 221.9C357.1 222 358.7 222.9 359.3 223.9C360 224.9 359.7 226.6 359.8 228Z" fill="#fff" stroke="#1a1a1a" stroke-width="0.9" stroke-linecap="round" stroke-linejoin="round" />
<line x1="390.6" y1="233.5" x2="390.6" y2="239.6" stroke="#1a1a1a" stroke-width="0.9" /><path d="M390.6 220.5C394 225.8 400.1 235.6 390.6 235.6C381.2 235.6 387.3 225.8 390.6 220.5Z" fill="#fff" stroke="#1a1a1a" stroke-width="0.9" stroke-linecap="round" stroke-linejoin="round" />
<line x1="415.4" y1="234" x2="415.4" y2="240" stroke="#1a1a1a" stroke-width="0.9" /><path d="M415.4 221.4C418.4 226.5 423.6 236 415.4 236C407.2 236 412.5 226.5 415.4 221.4Z" fill="#fff" stroke="#1a1a1a" stroke-width="0.9" stroke-linecap="round" stroke-linejoin="round" />
<line x1="460" y1="234.6" x2="460" y2="240.6" stroke="#1a1a1a" stroke-width="0.9" /><path d="M465.2 230C465.2 231.5 464.9 233.3 464.1 234.3C463.4 235.4 462.1 236 460.9 236.3C459.7 236.6 458 236.9 457.1 236.2C456.2 235.5 455.8 233.5 455.4 232.1C455.1 230.7 454.8 229.1 455.1 227.8C455.4 226.4 456.2 224.6 457.2 223.9C458.1 223.2 459.7 223.1 460.9 223.3C462.2 223.6 463.8 224.2 464.5 225.3C465.2 226.4 465.3 228.5 465.2 230Z" fill="#fff" stroke="#1a1a1a" stroke-width="0.9" stroke-linecap="round" stroke-linejoin="round" />
<line x1="299.2" y1="237" x2="299.2" y2="242.9" stroke="#1a1a1a" stroke-width="0.9" /><path d="M299.2 225.6C302.6 230.3 308.6 238.9 299.2 238.9C289.8 238.9 295.9 230.3 299.2 225.6Z" fill="#fff" stroke="#1a1a1a" stroke-width="0.9" stroke-linecap="round" stroke-linejoin="round" />
<line x1="327" y1="237.8" x2="327" y2="243.7" stroke="#1a1a1a" stroke-width="0.9" /><path d="M334.6 233.4C334.6 234.6 332.9 236 331.8 237C330.8 238 329.5 239.2 328.2 239.4C326.9 239.6 325.3 238.9 323.9 238.2C322.6 237.6 320.7 236.8 320.2 235.7C319.8 234.5 320.4 232.7 321 231.5C321.6 230.2 322.5 229.1 323.7 228.3C324.9 227.5 327 226.5 328.4 226.8C329.7 227 330.7 228.7 331.8 229.9C332.8 231 334.6 232.2 334.6 233.4Z" fill="#fff" stroke="#1a1a1a" stroke-width="0.9" stroke-linecap="round" stroke-linejoin="round" />
<line x1="424" y1="241.9" x2="424" y2="248.4" stroke="#1a1a1a" stroke-width="0.9" /><path d="M431.2 236C431 237.7 429.4 239.6 428.4 240.8C427.4 242 426.3 242.7 425 243.2C423.6 243.8 421.5 244.9 420.4 244.2C419.2 243.4 418.5 240.5 418.2 238.7C417.8 236.9 417.9 235 418.4 233.3C418.8 231.7 419.6 229.7 420.8 228.7C421.9 227.8 423.7 227.4 425.1 227.6C426.6 227.9 428.3 228.9 429.3 230.3C430.3 231.7 431.3 234.3 431.2 236Z" fill="#fff" stroke="#1a1a1a" stroke-width="0.9" stroke-linecap="round" stroke-linejoin="round" />
<line x1="424" y1="244.9" x2="424" y2="251.4" stroke="#1a1a1a" stroke-width="0.9" /><path d="M424 229.6C427.5 235.6 433.9 247.4 424 247.4C414.1 247.4 420.5 235.6 424 229.6Z" fill="#fff" stroke="#1a1a1a" stroke-width="0.9" stroke-linecap="round" stroke-linejoin="round" />
<line x1="277.5" y1="244.5" x2="277.5" y2="250.8" stroke="#1a1a1a" stroke-width="0.9" /><path d="M284.8 239C284.8 240.8 285.3 243.2 284.4 244.4C283.4 245.7 280.6 246.2 278.9 246.3C277.1 246.4 275.3 245.8 273.9 244.9C272.5 244.1 271.3 242.8 270.6 241.4C269.9 239.9 269.3 237.9 269.7 236.3C270.2 234.8 271.7 233 273.2 232C274.8 231.1 277.2 230.4 279 230.7C280.9 231 283.4 232.2 284.3 233.6C285.3 235 284.8 237.2 284.8 239Z" fill="#fff" stroke="#1a1a1a" stroke-width="0.9" stroke-linecap="round" stroke-linejoin="round" />
<line x1="445" y1="244.2" x2="445" y2="250" stroke="#1a1a1a" stroke-width="0.9" /><path d="M445 233C447.7 237.6 452.4 246 445 246C437.6 246 442.3 237.6 445 233Z" fill="#fff" stroke="#1a1a1a" stroke-width="0.9" stroke-linecap="round" stroke-linejoin="round" />
<line x1="347.5" y1="247.5" x2="347.5" y2="253.3" stroke="#1a1a1a" stroke-width="0.9" /><path d="M347.5 236.2C349.9 240.8 354.3 249.3 347.5 249.3C340.7 249.3 345 240.8 347.5 236.2Z" fill="#fff" stroke="#1a1a1a" stroke-width="0.9" stroke-linecap="round" stroke-linejoin="round" />
<line x1="486.8" y1="248.3" x2="486.8" y2="254.1" stroke="#1a1a1a" stroke-width="0.9" /><path d="M486.8 236.7C489.2 241.4 493.5 250.1 486.8 250.1C480.1 250.1 484.4 241.4 486.8 236.7Z" fill="#fff" stroke="#1a1a1a" stroke-width="0.9" stroke-linecap="round" stroke-linejoin="round" />
<line x1="310.9" y1="248.7" x2="310.9" y2="254.6" stroke="#1a1a1a" stroke-width="0.9" /><path d="M310.9 236.6C313.6 241.5 318.5 250.6 310.9 250.6C303.4 250.6 308.2 241.5 310.9 236.6Z" fill="#fff" stroke="#1a1a1a" stroke-width="0.9" stroke-linecap="round" stroke-linejoin="round" />
<line x1="502.3" y1="250.5" x2="502.3" y2="256.7" stroke="#1a1a1a" stroke-width="0.9" /><path d="M502.3 236.9C504.7 242.4 509.1 252.7 502.3 252.7C495.5 252.7 499.9 242.4 502.3 236.9Z" fill="#fff" stroke="#1a1a1a" stroke-width="0.9" stroke-linecap="round" stroke-linejoin="round" />
<line x1="372.5" y1="251.8" x2="372.5" y2="258.3" stroke="#1a1a1a" stroke-width="0.9" /><path d="M372.5 236.5C375.9 242.5 382 254.3 372.5 254.3C363 254.3 369.1 242.5 372.5 236.5Z" fill="#fff" stroke="#1a1a1a" stroke-width="0.9" stroke-linecap="round" stroke-linejoin="round" />
<line x1="385" y1="253" x2="385" y2="259.3" stroke="#1a1a1a" stroke-width="0.9" /><path d="M391.5 247.5C391.6 249.1 391 251.4 390.1 252.6C389.2 253.8 387.4 254.7 386.1 254.9C384.8 255.1 383.2 254.4 382.1 253.6C380.9 252.8 379.6 251.5 379.1 250.1C378.7 248.6 378.9 246.5 379.4 245.1C379.9 243.6 381 242.1 382.1 241.4C383.2 240.6 384.8 240.2 386 240.5C387.3 240.8 388.5 241.9 389.4 243.1C390.3 244.2 391.4 245.9 391.5 247.5Z" fill="#fff" stroke="#1a1a1a" stroke-width="0.9" stroke-linecap="round" stroke-linejoin="round" />
<line x1="291.9" y1="254.3" x2="291.9" y2="260.8" stroke="#1a1a1a" stroke-width="0.9" /><path d="M296.4 248.3C296.3 250.2 296.1 252.1 295.5 253.5C294.9 254.8 293.7 256.3 292.8 256.5C291.8 256.8 290.7 255.7 289.8 254.8C288.9 253.9 287.8 252.8 287.3 251.2C286.8 249.6 286.4 246.7 286.8 245C287.2 243.4 288.5 242 289.5 241C290.5 240.1 291.8 239 292.9 239.2C294 239.4 295.5 240.7 296.1 242.2C296.7 243.7 296.5 246.4 296.4 248.3Z" fill="#fff" stroke="#1a1a1a" stroke-width="0.9" stroke-linecap="round" stroke-linejoin="round" />
<line x1="512.5" y1="258.2" x2="512.5" y2="264" stroke="#1a1a1a" stroke-width="0.9" /><path d="M519.6 254C519.8 255.3 519.6 257.3 518.6 258.3C517.6 259.3 515.4 259.7 513.7 260C512.1 260.2 509.8 260.4 508.6 259.8C507.4 259.1 506.9 257.2 506.5 255.9C506 254.6 505.4 253 505.9 252C506.3 250.9 508 249.8 509.3 249.3C510.6 248.7 512.2 248.6 513.6 248.8C514.9 249 516.4 249.7 517.4 250.5C518.4 251.4 519.4 252.7 519.6 254Z" fill="#fff" stroke="#1a1a1a" stroke-width="0.9" stroke-linecap="round" stroke-linejoin="round" />
<line x1="307.5" y1="259.6" x2="307.5" y2="265.7" stroke="#1a1a1a" stroke-width="0.9" /><path d="M307.5 246.4C310.8 251.7 316.7 261.7 307.5 261.7C298.4 261.7 304.3 251.7 307.5 246.4Z" fill="#fff" stroke="#1a1a1a" stroke-width="0.9" stroke-linecap="round" stroke-linejoin="round" />
<line x1="459" y1="260" x2="459" y2="266.2" stroke="#1a1a1a" stroke-width="0.9" /><path d="M459 246.8C461.9 252.1 467.3 262.2 459 262.2C450.7 262.2 456.1 252.1 459 246.8Z" fill="#fff" stroke="#1a1a1a" stroke-width="0.9" stroke-linecap="round" stroke-linejoin="round" />
<line x1="310.1" y1="261.9" x2="310.1" y2="268.2" stroke="#1a1a1a" stroke-width="0.9" /><path d="M310.1 248C313.4 253.6 319.3 264.2 310.1 264.2C300.9 264.2 306.9 253.6 310.1 248Z" fill="#fff" stroke="#1a1a1a" stroke-width="0.9" stroke-linecap="round" stroke-linejoin="round" />
<line x1="510.6" y1="261.2" x2="510.6" y2="267.1" stroke="#1a1a1a" stroke-width="0.9" /><path d="M510.6 249.7C513.7 254.4 519.2 263.1 510.6 263.1C502.1 263.1 507.6 254.4 510.6 249.7Z" fill="#fff" stroke="#1a1a1a" stroke-width="0.9" stroke-linecap="round" stroke-linejoin="round" />
<line x1="419" y1="263" x2="419" y2="269.3" stroke="#1a1a1a" stroke-width="0.9" /><path d="M419 248.7C422.8 254.4 429.7 265.3 419 265.3C408.3 265.3 415.2 254.4 419 248.7Z" fill="#fff" stroke="#1a1a1a" stroke-width="0.9" stroke-linecap="round" stroke-linejoin="round" />
<line x1="311.6" y1="263" x2="311.6" y2="268.8" stroke="#1a1a1a" stroke-width="0.9" /><path d="M317.6 258.7C317.7 260.1 318 262 317.2 263.1C316.4 264.2 314.4 265.2 312.9 265.3C311.4 265.5 309.7 264.7 308.4 263.9C307.1 263.2 305.7 262.1 305.3 260.9C304.9 259.7 305.4 258 306 256.8C306.5 255.6 307.5 254.4 308.6 253.8C309.7 253.2 311.3 252.9 312.7 253C314.1 253.2 316 253.7 316.9 254.6C317.7 255.6 317.6 257.3 317.6 258.7Z" fill="#fff" stroke="#1a1a1a" stroke-width="0.9" stroke-linecap="round" stroke-linejoin="round" />
<line x1="403" y1="262.8" x2="403" y2="268.4" stroke="#1a1a1a" stroke-width="0.9" /><path d="M403 252.6C405.7 256.8 410.4 264.4 403 264.4C395.6 264.4 400.3 256.8 403 252.6Z" fill="#fff" stroke="#1a1a1a" stroke-width="0.9" stroke-linecap="round" stroke-linejoin="round" />
<line x1="530" y1="265.2" x2="530" y2="271" stroke="#1a1a1a" stroke-width="0.9" /><path d="M536.4 261C536.4 262.4 536.1 264 535.2 265.1C534.4 266.1 532.6 267.1 531.2 267.3C529.8 267.4 528.1 266.6 527 265.8C525.9 265.1 525.1 264 524.5 262.8C524 261.7 523.3 260 523.7 258.9C524.2 257.8 525.8 256.9 527.1 256.3C528.3 255.7 529.7 255.2 531.1 255.3C532.5 255.3 534.6 255.8 535.5 256.8C536.3 257.7 536.5 259.6 536.4 261Z" fill="#fff" stroke="#1a1a1a" stroke-width="0.9" stroke-linecap="round" stroke-linejoin="round" />
<line x1="328" y1="266.6" x2="328" y2="272.6" stroke="#1a1a1a" stroke-width="0.9" /><path d="M334.4 262C334.4 263.5 333.7 265.5 332.8 266.5C331.9 267.5 330.2 267.9 329 268.1C327.7 268.2 326.3 268.1 325.2 267.5C324 266.9 322.7 265.7 322.2 264.4C321.6 263.1 321.5 260.8 322 259.6C322.6 258.3 324.3 257.6 325.4 257C326.6 256.4 327.7 256 328.9 256C330.2 256.1 332 256.3 333 257.3C333.9 258.3 334.5 260.5 334.4 262Z" fill="#fff" stroke="#1a1a1a" stroke-width="0.9" stroke-linecap="round" stroke-linejoin="round" />
<line x1="370" y1="265.8" x2="370" y2="271.4" stroke="#1a1a1a" stroke-width="0.9" /><path d="M375.7 262C375.7 263.2 375.6 264.7 374.8 265.7C374.1 266.7 372.4 267.8 371.1 267.9C369.9 268 368.4 267.1 367.2 266.5C366 265.8 364.5 265 364.1 264C363.7 262.9 364.1 261.3 364.7 260.2C365.2 259.2 366.2 258.3 367.3 257.7C368.3 257.2 369.7 256.8 371 256.9C372.2 257 374 257.5 374.8 258.3C375.6 259.2 375.7 260.8 375.7 262Z" fill="#fff" stroke="#1a1a1a" stroke-width="0.9" stroke-linecap="round" stroke-linejoin="round" />
<line x1="483" y1="265.8" x2="483" y2="271.4" stroke="#1a1a1a" stroke-width="0.9" /><path d="M488.8 262C488.7 263.2 487.4 264.1 486.6 265.1C485.8 266 485.1 267.6 484 267.9C482.9 268.2 481 267.8 480.1 267.1C479.2 266.3 479 264.8 478.6 263.6C478.1 262.5 477.4 261.1 477.6 260C477.9 258.9 479.1 257.5 480.1 257C481.2 256.5 482.6 256.9 483.9 257.1C485.1 257.3 486.7 257.3 487.5 258.1C488.4 258.9 489 260.8 488.8 262Z" fill="#fff" stroke="#1a1a1a" stroke-width="0.9" stroke-linecap="round" stroke-linejoin="round" />
<line x1="400.4" y1="268.3" x2="400.4" y2="275" stroke="#1a1a1a" stroke-width="0.9" /><path d="M400.4 252.3C403 258.6 407.6 271 400.4 271C393.3 271 397.9 258.6 400.4 252.3Z" fill="#fff" stroke="#1a1a1a" stroke-width="0.9" stroke-linecap="round" stroke-linejoin="round" />
<line x1="539" y1="269.8" x2="539" y2="275.4" stroke="#1a1a1a" stroke-width="0.9" /><path d="M539 259.6C541.4 263.8 545.6 271.4 539 271.4C532.4 271.4 536.6 263.8 539 259.6Z" fill="#fff" stroke="#1a1a1a" stroke-width="0.9" stroke-linecap="round" stroke-linejoin="round" />
<line x1="404.2" y1="272.1" x2="404.2" y2="278.3" stroke="#1a1a1a" stroke-width="0.9" /><path d="M404.2 258.5C407.2 263.9 412.6 274.3 404.2 274.3C395.8 274.3 401.2 263.9 404.2 258.5Z" fill="#fff" stroke="#1a1a1a" stroke-width="0.9" stroke-linecap="round" stroke-linejoin="round" />
<line x1="448.2" y1="273.5" x2="448.2" y2="280.2" stroke="#1a1a1a" stroke-width="0.9" /><path d="M454.7 267.4C454.8 269.3 454.6 272.1 453.7 273.5C452.8 274.8 450.8 275.2 449.3 275.5C447.8 275.7 446.1 275.8 444.9 275C443.7 274.1 442.8 272 442.3 270.2C441.8 268.4 441.4 265.9 441.9 264.3C442.4 262.7 444 261.5 445.2 260.5C446.5 259.6 448 258.6 449.4 258.9C450.7 259.1 452.2 260.5 453.1 262C454 263.4 454.6 265.4 454.7 267.4Z" fill="#fff" stroke="#1a1a1a" stroke-width="0.9" stroke-linecap="round" stroke-linejoin="round" />
<line x1="379.9" y1="276.2" x2="379.9" y2="282.6" stroke="#1a1a1a" stroke-width="0.9" /><path d="M385.5 270.6C385.6 272.4 385.8 275 385 276.3C384.3 277.7 382.3 278.3 381 278.5C379.6 278.7 378.1 278.2 377 277.4C375.9 276.5 374.5 275 374.1 273.4C373.7 271.9 374.2 269.6 374.8 268.1C375.3 266.6 376.1 265.1 377.2 264.2C378.2 263.4 379.8 262.6 380.9 262.9C382.1 263.2 383.5 264.5 384.2 265.8C385 267.1 385.4 268.9 385.5 270.6Z" fill="#fff" stroke="#1a1a1a" stroke-width="0.9" stroke-linecap="round" stroke-linejoin="round" />
<line x1="490" y1="275.2" x2="490" y2="281" stroke="#1a1a1a" stroke-width="0.9" /><path d="M497.4 271C497.4 272.3 496.6 273.9 495.6 275C494.6 276 492.9 276.9 491.3 277.2C489.7 277.5 487.5 277.4 486.1 276.7C484.7 276 483.3 274.4 482.9 273.2C482.6 271.9 483.3 270.3 483.9 269.1C484.5 268 485.5 266.8 486.7 266.2C487.9 265.5 489.8 265 491.2 265.2C492.6 265.3 494.2 266.3 495.3 267.2C496.3 268.2 497.3 269.7 497.4 271Z" fill="#fff" stroke="#1a1a1a" stroke-width="0.9" stroke-linecap="round" stroke-linejoin="round" />
<line x1="323.3" y1="277.5" x2="323.3" y2="283.6" stroke="#1a1a1a" stroke-width="0.9" /><path d="M323.3 264.6C325.9 269.8 330.5 279.6 323.3 279.6C316.1 279.6 320.7 269.8 323.3 264.6Z" fill="#fff" stroke="#1a1a1a" stroke-width="0.9" stroke-linecap="round" stroke-linejoin="round" />
<line x1="429.4" y1="280.4" x2="429.4" y2="286.6" stroke="#1a1a1a" stroke-width="0.9" /><path d="M429.4 266.8C431.9 272.2 436.3 282.6 429.4 282.6C422.5 282.6 426.9 272.2 429.4 266.8Z" fill="#fff" stroke="#1a1a1a" stroke-width="0.9" stroke-linecap="round" stroke-linejoin="round" />
<line x1="487.4" y1="282.9" x2="487.4" y2="289.5" stroke="#1a1a1a" stroke-width="0.9" /><path d="M492.5 276.7C492.4 278.6 491.9 280.5 491.2 281.8C490.5 283.1 489.4 284 488.3 284.5C487.1 285 485.6 285.5 484.5 284.8C483.4 284 482.3 281.9 481.8 280C481.3 278.1 481.2 275.2 481.6 273.4C482.1 271.5 483.4 269.7 484.5 268.8C485.7 267.9 487.2 267.5 488.4 267.8C489.6 268.2 491.1 269.4 491.8 270.8C492.5 272.3 492.6 274.9 492.5 276.7Z" fill="#fff" stroke="#1a1a1a" stroke-width="0.9" stroke-linecap="round" stroke-linejoin="round" />
<line x1="444.1" y1="303.8" x2="444.1" y2="310.5" stroke="#1a1a1a" stroke-width="0.9" /><path d="M450.8 297.5C450.9 299.4 450.3 302.3 449.4 303.6C448.5 304.9 446.6 304.9 445.1 305.3C443.7 305.6 442 306.3 440.8 305.6C439.5 304.8 438.1 302.6 437.7 300.7C437.2 298.9 437.5 296.3 438.1 294.4C438.6 292.6 439.7 290.6 440.9 289.7C442.1 288.8 443.8 288.8 445.2 289.2C446.5 289.5 448.1 290.4 449 291.8C449.9 293.2 450.7 295.5 450.8 297.5Z" fill="#fff" stroke="#1a1a1a" stroke-width="0.9" stroke-linecap="round" stroke-linejoin="round" />
<line x1="474.4" y1="304.4" x2="474.4" y2="311" stroke="#1a1a1a" stroke-width="0.9" /><path d="M474.4 288.4C477.6 294.7 483.5 307 474.4 307C465.3 307 471.2 294.7 474.4 288.4Z" fill="#fff" stroke="#1a1a1a" stroke-width="0.9" stroke-linecap="round" stroke-linejoin="round" />
<path d="M208 143l0.7 -3.8l0.7 3.8l1.2 -4.8l1.2 4.8l1.1 -3.7l1.1 3.7l1.2 -4.1l1.2 4.1l0.7 -3.8l0.7 3.8l0.6 -5.7l0.6 5.7l1.3 -3.3l1.3 3.3l0.8 -5.1l0.8 5.1" fill="none" stroke="#1a1a1a" stroke-width="0.75" stroke-linecap="round" stroke-linejoin="round" />
<path d="M247 226l1 -2.8l1 2.8l1.3 -5.7l1.3 5.7l1 -4.7l1 4.7l0.8 -2.9l0.8 2.9l0.8 -4.8l0.8 4.8l0.8 -5.9l0.8 5.9l0.7 -2.8l0.7 2.8l0.7 -5.1l0.7 5.1l0.9 -3.9l0.9 3.9l0.8 -4.5l0.8 4.5" fill="none" stroke="#1a1a1a" stroke-width="0.75" stroke-linecap="round" stroke-linejoin="round" />
<path d="M255 232l0.7 -4.5l0.7 4.5l0.7 -4.9l0.7 4.9l1.1 -3.5l1.1 3.5l1.1 -4.3l1.1 4.3l0.6 -4.1l0.6 4.1l1.1 -4.1l1.1 4.1l1.3 -4.9l1.3 4.9l0.9 -2.9l0.9 2.9" fill="none" stroke="#1a1a1a" stroke-width="0.75" stroke-linecap="round" stroke-linejoin="round" />
<path d="M283 232l1.3 -3.8l1.3 3.8l1.1 -4.9l1.1 4.9l0.8 -2.3l0.8 2.3l1.1 -2.5l1.1 2.5l0.9 -5.6l0.9 5.6l1.3 -2.5l1.3 2.5l0.7 -2.9l0.7 2.9" fill="none" stroke="#1a1a1a" stroke-width="0.75" stroke-linecap="round" stroke-linejoin="round" />
<path d="M340 196l1.3 -5.5l1.3 5.5l1.1 -2.9l1.1 2.9l0.8 -4.9l0.8 4.9l1.2 -2.1l1.2 2.1l0.7 -5.6l0.7 5.6" fill="none" stroke="#1a1a1a" stroke-width="0.75" stroke-linecap="round" stroke-linejoin="round" />
<path d="M374 205l1.3 -3.4l1.3 3.4l1.2 -5.8l1.2 5.8l0.8 -5.1l0.8 5.1l0.9 -2.7l0.9 2.7l0.9 -5l0.9 5l0.7 -4.6l0.7 4.6l0.9 -2.7l0.9 2.7" fill="none" stroke="#1a1a1a" stroke-width="0.75" stroke-linecap="round" stroke-linejoin="round" />
<path d="M459 258l1.1 -5.6l1.1 5.6l0.6 -5.8l0.6 5.8l1.2 -2.2l1.2 2.2l1.2 -5.2l1.2 5.2l0.7 -5.9l0.7 5.9l0.9 -3.8l0.9 3.8l1.1 -4.8l1.1 4.8l1.2 -3.1l1.2 3.1l1 -2.5l1 2.5l0.8 -4l0.8 4" fill="none" stroke="#1a1a1a" stroke-width="0.75" stroke-linecap="round" stroke-linejoin="round" />
<path d="M515 274l0.8 -4.3l0.8 4.3l1.3 -4.6l1.3 4.6l1 -3.2l1 3.2l0.7 -6l0.7 6l1.2 -3l1.2 3l1 -4.8l1 4.8" fill="none" stroke="#1a1a1a" stroke-width="0.75" stroke-linecap="round" stroke-linejoin="round" />
<path d="M295 238l0.7 -5.3l0.7 5.3l1.3 -3.5l1.3 3.5l0.8 -2.8l0.8 2.8l0.7 -2.9l0.7 2.9l0.8 -5.4l0.8 5.4l0.7 -2.8l0.7 2.8l1.3 -5.7l1.3 5.7" fill="none" stroke="#1a1a1a" stroke-width="0.75" stroke-linecap="round" stroke-linejoin="round" />
<path d="M126 157l0.8 -3.8l0.8 3.8l1 -2.4l1 2.4l1 -5.8l1 5.8l1 -4.1l1 4.1l1.2 -3.8l1.2 3.8" fill="none" stroke="#1a1a1a" stroke-width="0.75" stroke-linecap="round" stroke-linejoin="round" />
<path d="M228 200l1.3 -3.6l1.3 3.6l1.2 -3l1.2 3l1 -3.1l1 3.1l1 -2.3l1 2.3l0.9 -3.3l0.9 3.3" fill="none" stroke="#1a1a1a" stroke-width="0.75" stroke-linecap="round" stroke-linejoin="round" />
<path d="M146 203l1.2 -2.9l1.2 2.9l1.3 -4l1.3 4l0.9 -4.5l0.9 4.5l0.7 -2.8l0.7 2.8" fill="none" stroke="#1a1a1a" stroke-width="0.75" stroke-linecap="round" stroke-linejoin="round" />
<path d="M420 275l1 -4.7l1 4.7l1.1 -4.8l1.1 4.8l1.3 -5l1.3 5l0.7 -2.9l0.7 2.9l0.9 -3.6l0.9 3.6l1.3 -4.9l1.3 4.9" fill="none" stroke="#1a1a1a" stroke-width="0.75" stroke-linecap="round" stroke-linejoin="round" /></g>
<g id="bottom"><clipPath id="vclip"><polygon points="85,572 228,572 240,586 212,600 232,614 222,626 206,640 196,656 200,664 176,692 85,692"/></clipPath>
<g clip-path="url(#vclip)"><g transform="translate(-2,459)"><polygon points="209,108 215,104 228,103 243,110 252,119 300,140 350,163 407.5,190 500,232.5 578.8,268.8 572.5,272.5 500,240 407.5,198 352,172 300,149 240,123 228,114 216,112" fill="#cfcfcf" stroke="#1a1a1a" stroke-width="0.9" stroke-linejoin="round" />
<polygon points="240,205 270,197 307,185 346,165.5 361,174.5 302,200.5 267.5,218.5 247.5,212" fill="#cfcfcf" stroke="#1a1a1a" stroke-width="0.9" stroke-linejoin="round" />
<path d="M100 196.5C104.2 195.4 115 190.4 125 190C135 189.6 147.5 192.5 160 194C172.5 195.5 185.8 196.7 200 199C214.2 201.3 237.5 206.5 245 208" fill="none" stroke="#cfcfcf" stroke-width="5" stroke-linecap="round" stroke-linejoin="round" />
<path d="M100 194C104.2 192.9 115 187.9 125 187.5C135 187.1 147.5 190 160 191.5C172.5 193 186.7 194.2 200 196.5C213.3 198.8 233.3 203.6 240 205" fill="none" stroke="#1a1a1a" stroke-width="0.7" stroke-linecap="round" stroke-linejoin="round" />
<path d="M100 199C104.2 197.9 115 192.9 125 192.5C135 192.1 147.5 195 160 196.5C172.5 198 185.5 198.9 200 201.5C214.5 204.1 239.2 210.2 247 212" fill="none" stroke="#1a1a1a" stroke-width="0.7" stroke-linecap="round" stroke-linejoin="round" />
<polygon points="245,209 267.5,219 285,237.5 345,289 337.5,292.5 267.5,232 250,218" fill="#cfcfcf" stroke="#1a1a1a" stroke-width="0.9" stroke-linejoin="round" />
<path d="M202 153C203.3 152 207.7 150.7 212 151C216.3 151.3 222.3 153.3 228 155C233.7 156.7 240.7 159.5 246 161C251.3 162.5 258 162.5 260 164C262 165.5 260.2 168.5 258 170C255.8 171.5 251.3 173.3 247 173C242.7 172.7 237.3 169.8 232 168C226.7 166.2 219.7 163.8 215 162C210.3 160.2 206.2 158.5 204 157C201.8 155.5 200.7 154 202 153Z" fill="#cfcfcf" stroke="#1a1a1a" stroke-width="0.9" stroke-linecap="round" stroke-linejoin="round" />
<path d="M361 232C361.7 230.7 366.8 228 370 227C373.2 226 375 224.8 380 226C385 227.2 393.3 231 400 234C406.7 237 417 241.2 420 244C423 246.8 419.3 249.2 418 251C416.7 252.8 415.8 253.8 412 254.5C408.2 255.2 399 256.4 395 255C391 253.6 390.8 248.8 388 246C385.2 243.2 381.7 239.8 378 238C374.3 236.2 368.8 236 366 235C363.2 234 360.3 233.3 361 232Z" fill="#cfcfcf" stroke="#1a1a1a" stroke-width="0.9" stroke-linecap="round" stroke-linejoin="round" />
<polygon points="437,203 450,209 432,226 415,240 408,236 425,222" fill="#cfcfcf" stroke="#1a1a1a" stroke-width="0.9" stroke-linejoin="round" />
<line x1="300" y1="214" x2="330" y2="203" stroke="#1a1a1a" stroke-width="0.5" />
<line x1="345" y1="283" x2="366" y2="272" stroke="#1a1a1a" stroke-width="0.5" />
<line x1="420" y1="262" x2="440" y2="252" stroke="#1a1a1a" stroke-width="0.5" />
<line x1="432" y1="285" x2="450" y2="274" stroke="#1a1a1a" stroke-width="0.5" />
<line x1="404" y1="272" x2="440" y2="289" stroke="#1a1a1a" stroke-width="0.5" />
<line x1="318" y1="232" x2="345" y2="222" stroke="#1a1a1a" stroke-width="0.5" />
<line x1="270" y1="180" x2="300" y2="170" stroke="#1a1a1a" stroke-width="0.5" />
<line x1="160" y1="170" x2="190" y2="160" stroke="#1a1a1a" stroke-width="0.5" /><polygon points="108,139.5 110.7,141.7 110.7,143.2 108,141" fill="#111" stroke="#1a1a1a" stroke-width="0.9" stroke-linejoin="round" /><polygon points="110.7,141.7 149.8,133.4 149.8,134.9 110.7,143.2" fill="#fff" stroke="#1a1a1a" stroke-width="0.9" stroke-linejoin="round" /><polygon points="108,139.5 110.7,141.7 149.8,133.4 147.1,131.2" fill="#fff" stroke="#1a1a1a" stroke-width="0.9" stroke-linejoin="round" />
<polygon points="110,144.8 112.7,147 112.7,148.2 110,146" fill="#111" stroke="#1a1a1a" stroke-width="0.9" stroke-linejoin="round" /><polygon points="112.7,147 151.8,138.7 151.8,139.9 112.7,148.2" fill="#fff" stroke="#1a1a1a" stroke-width="0.9" stroke-linejoin="round" /><polygon points="110,144.8 112.7,147 151.8,138.7 149.1,136.5" fill="#fff" stroke="#1a1a1a" stroke-width="0.9" stroke-linejoin="round" />
<polygon points="145,129.5 148.1,132.1 148.1,135.1 145,132.5" fill="#111" stroke="#1a1a1a" stroke-width="0.9" stroke-linejoin="round" /><polygon points="148.1,132.1 171.5,127.1 171.5,130.1 148.1,135.1" fill="#fff" stroke="#1a1a1a" stroke-width="0.9" stroke-linejoin="round" /><polygon points="145,129.5 148.1,132.1 171.5,127.1 168.5,124.5" fill="#fff" stroke="#1a1a1a" stroke-width="0.9" stroke-linejoin="round" />
<polygon points="186,119.5 189.1,122.1 189.1,125.1 186,122.5" fill="#111" stroke="#1a1a1a" stroke-width="0.9" stroke-linejoin="round" /><polygon points="189.1,122.1 218.5,116.3 218.5,119.3 189.1,125.1" fill="#fff" stroke="#1a1a1a" stroke-width="0.9" stroke-linejoin="round" /><polygon points="186,119.5 189.1,122.1 218.5,116.3 215.4,113.8" fill="#fff" stroke="#1a1a1a" stroke-width="0.9" stroke-linejoin="round" />
<polygon points="216,114 220.3,116.5 220.3,120.5 216,118" fill="#111" stroke="#1a1a1a" stroke-width="0.9" stroke-linejoin="round" /><polygon points="220.3,116.5 225.2,115.5 225.2,119.5 220.3,120.5" fill="#fff" stroke="#1a1a1a" stroke-width="0.9" stroke-linejoin="round" /><polygon points="216,114 220.3,116.5 225.2,115.5 220.9,113" fill="#111" stroke="#1a1a1a" stroke-width="0.9" stroke-linejoin="round" />
<polygon points="224,117 228.3,119.5 228.3,123.5 224,121" fill="#111" stroke="#1a1a1a" stroke-width="0.9" stroke-linejoin="round" /><polygon points="228.3,119.5 234.2,118.3 234.2,122.3 228.3,123.5" fill="#fff" stroke="#1a1a1a" stroke-width="0.9" stroke-linejoin="round" /><polygon points="224,117 228.3,119.5 234.2,118.3 229.9,115.8" fill="#fff" stroke="#1a1a1a" stroke-width="0.9" stroke-linejoin="round" />
<polygon points="189,135.5 195.1,140.6 195.1,145.1 189,140" fill="#111" stroke="#1a1a1a" stroke-width="0.9" stroke-linejoin="round" /><polygon points="195.1,140.6 246,129.8 246,134.3 195.1,145.1" fill="#fff" stroke="#1a1a1a" stroke-width="0.9" stroke-linejoin="round" /><polygon points="189,135.5 195.1,140.6 246,129.8 239.9,124.7" fill="#fff" stroke="#1a1a1a" stroke-width="0.9" stroke-linejoin="round" />
<polygon points="134.5,147 142.4,153.2 142.4,159.2 134.5,153" fill="#111" stroke="#1a1a1a" stroke-width="0.9" stroke-linejoin="round" /><polygon points="142.4,153.2 168.6,146.6 168.6,152.6 142.4,159.2" fill="#fff" stroke="#1a1a1a" stroke-width="0.9" stroke-linejoin="round" /><polygon points="134.5,147 142.4,153.2 168.6,146.6 160.7,140.5" fill="#fff" stroke="#1a1a1a" stroke-width="0.9" stroke-linejoin="round" />
<polygon points="181,154.2 189.9,159 189.9,165.7 181,161" fill="#111" stroke="#1a1a1a" stroke-width="0.9" stroke-linejoin="round" /><polygon points="189.9,159 198.2,155.6 198.2,162.4 189.9,165.7" fill="#fff" stroke="#1a1a1a" stroke-width="0.9" stroke-linejoin="round" /><polygon points="181,154.2 189.9,159 198.2,155.6 189.3,150.9" fill="#fff" stroke="#1a1a1a" stroke-width="0.9" stroke-linejoin="round" />
<polygon points="191,160.2 201.9,166 201.9,172.8 191,167" fill="#111" stroke="#1a1a1a" stroke-width="0.9" stroke-linejoin="round" /><polygon points="201.9,166 212.3,161.8 212.3,168.6 201.9,172.8" fill="#fff" stroke="#1a1a1a" stroke-width="0.9" stroke-linejoin="round" /><polygon points="191,160.2 201.9,166 212.3,161.8 201.4,156.1" fill="#fff" stroke="#1a1a1a" stroke-width="0.9" stroke-linejoin="round" />
<polygon points="205,167.9 215.9,173.7 215.9,181.8 205,176" fill="#111" stroke="#1a1a1a" stroke-width="0.9" stroke-linejoin="round" /><polygon points="215.9,173.7 226.3,169.5 226.3,177.6 215.9,181.8" fill="#fff" stroke="#1a1a1a" stroke-width="0.9" stroke-linejoin="round" /><polygon points="205,167.9 215.9,173.7 226.3,169.5 215.4,163.7" fill="#fff" stroke="#1a1a1a" stroke-width="0.9" stroke-linejoin="round" />
<polygon points="184,184.9 203.8,195.4 203.8,203.5 184,193" fill="#111" stroke="#1a1a1a" stroke-width="0.9" stroke-linejoin="round" /><polygon points="203.8,195.4 214.2,191.2 214.2,199.3 203.8,203.5" fill="#fff" stroke="#1a1a1a" stroke-width="0.9" stroke-linejoin="round" /><polygon points="184,184.9 203.8,195.4 214.2,191.2 194.4,180.7" fill="#fff" stroke="#1a1a1a" stroke-width="0.9" stroke-linejoin="round" />
<polygon points="140,176.9 148.9,181.7 148.9,185.7 140,181" fill="#111" stroke="#1a1a1a" stroke-width="0.9" stroke-linejoin="round" /><polygon points="148.9,181.7 159.3,177.5 159.3,181.5 148.9,185.7" fill="#fff" stroke="#1a1a1a" stroke-width="0.9" stroke-linejoin="round" /><polygon points="140,176.9 148.9,181.7 159.3,177.5 150.4,172.8" fill="#fff" stroke="#1a1a1a" stroke-width="0.9" stroke-linejoin="round" />
<polygon points="157.5,179.9 171.3,187.3 171.3,191.4 157.5,184" fill="#111" stroke="#1a1a1a" stroke-width="0.9" stroke-linejoin="round" /><polygon points="171.3,187.3 181.7,183.1 181.7,187.2 171.3,191.4" fill="#fff" stroke="#1a1a1a" stroke-width="0.9" stroke-linejoin="round" /><polygon points="157.5,179.9 171.3,187.3 181.7,183.1 167.9,175.8" fill="#fff" stroke="#1a1a1a" stroke-width="0.9" stroke-linejoin="round" />
<polygon points="103,210.2 112.9,215.5 112.9,222.3 103,217" fill="#111" stroke="#1a1a1a" stroke-width="0.9" stroke-linejoin="round" /><polygon points="112.9,215.5 126.4,210.1 126.4,216.8 112.9,222.3" fill="#fff" stroke="#1a1a1a" stroke-width="0.9" stroke-linejoin="round" /><polygon points="103,210.2 112.9,215.5 126.4,210.1 116.5,204.8" fill="#fff" stroke="#1a1a1a" stroke-width="0.9" stroke-linejoin="round" />
<polygon points="125,207.6 131.9,211.3 131.9,216.7 125,213" fill="#111" stroke="#1a1a1a" stroke-width="0.9" stroke-linejoin="round" /><polygon points="131.9,211.3 139.2,208.3 139.2,213.7 131.9,216.7" fill="#fff" stroke="#1a1a1a" stroke-width="0.9" stroke-linejoin="round" /><polygon points="125,207.6 131.9,211.3 139.2,208.3 132.3,204.7" fill="#fff" stroke="#1a1a1a" stroke-width="0.9" stroke-linejoin="round" />
<polygon points="134,205.6 140.9,209.3 140.9,214.7 134,211" fill="#111" stroke="#1a1a1a" stroke-width="0.9" stroke-linejoin="round" /><polygon points="140.9,209.3 148.2,206.3 148.2,211.7 140.9,214.7" fill="#fff" stroke="#1a1a1a" stroke-width="0.9" stroke-linejoin="round" /><polygon points="134,205.6 140.9,209.3 148.2,206.3 141.3,202.7" fill="#fff" stroke="#1a1a1a" stroke-width="0.9" stroke-linejoin="round" />
<polygon points="164,208.2 174.9,214 174.9,220.8 164,215" fill="#111" stroke="#1a1a1a" stroke-width="0.9" stroke-linejoin="round" /><polygon points="174.9,214 185.3,209.8 185.3,216.6 174.9,220.8" fill="#fff" stroke="#1a1a1a" stroke-width="0.9" stroke-linejoin="round" /><polygon points="164,208.2 174.9,214 185.3,209.8 174.4,204.1" fill="#fff" stroke="#1a1a1a" stroke-width="0.9" stroke-linejoin="round" />
<polygon points="237.5,147.2 252.3,155.1 252.3,161.9 237.5,154" fill="#111" stroke="#1a1a1a" stroke-width="0.9" stroke-linejoin="round" /><polygon points="252.3,155.1 264.8,150.1 264.8,156.9 252.3,161.9" fill="#fff" stroke="#1a1a1a" stroke-width="0.9" stroke-linejoin="round" /><polygon points="237.5,147.2 252.3,155.1 264.8,150.1 250,142.2" fill="#fff" stroke="#1a1a1a" stroke-width="0.9" stroke-linejoin="round" />
<polygon points="252.5,166.2 264.4,172.6 264.4,179.3 252.5,173" fill="#111" stroke="#1a1a1a" stroke-width="0.9" stroke-linejoin="round" /><polygon points="264.4,172.6 276.8,167.5 276.8,174.3 264.4,179.3" fill="#fff" stroke="#1a1a1a" stroke-width="0.9" stroke-linejoin="round" /><polygon points="252.5,166.2 264.4,172.6 276.8,167.5 265,161.2" fill="#fff" stroke="#1a1a1a" stroke-width="0.9" stroke-linejoin="round" />
<polygon points="250,190.6 259.9,195.9 259.9,201.3 250,196" fill="#111" stroke="#1a1a1a" stroke-width="0.9" stroke-linejoin="round" /><polygon points="259.9,195.9 272.4,190.8 272.4,196.2 259.9,201.3" fill="#fff" stroke="#1a1a1a" stroke-width="0.9" stroke-linejoin="round" /><polygon points="250,190.6 259.9,195.9 272.4,190.8 262.5,185.6" fill="#fff" stroke="#1a1a1a" stroke-width="0.9" stroke-linejoin="round" />
<polygon points="236,136.6 240,138.7 240,144.1 236,142" fill="#111" stroke="#1a1a1a" stroke-width="0.9" stroke-linejoin="round" /><polygon points="240,138.7 246.2,136.2 246.2,141.6 240,144.1" fill="#fff" stroke="#1a1a1a" stroke-width="0.9" stroke-linejoin="round" /><polygon points="236,136.6 240,138.7 246.2,136.2 242.2,134.1" fill="#fff" stroke="#1a1a1a" stroke-width="0.9" stroke-linejoin="round" />
<polygon points="255,136.6 259.9,139.2 259.9,144.6 255,142" fill="#111" stroke="#1a1a1a" stroke-width="0.9" stroke-linejoin="round" /><polygon points="259.9,139.2 266.2,136.7 266.2,142.1 259.9,144.6" fill="#fff" stroke="#1a1a1a" stroke-width="0.9" stroke-linejoin="round" /><polygon points="255,136.6 259.9,139.2 266.2,136.7 261.2,134.1" fill="#fff" stroke="#1a1a1a" stroke-width="0.9" stroke-linejoin="round" />
<polygon points="276,159.2 288.9,166.1 288.9,172.8 276,166" fill="#111" stroke="#1a1a1a" stroke-width="0.9" stroke-linejoin="round" /><polygon points="288.9,166.1 304.4,159.8 304.4,166.5 288.9,172.8" fill="#fff" stroke="#1a1a1a" stroke-width="0.9" stroke-linejoin="round" /><polygon points="276,159.2 288.9,166.1 304.4,159.8 291.6,153" fill="#fff" stroke="#1a1a1a" stroke-width="0.9" stroke-linejoin="round" />
<polygon points="284,179.2 294.9,185 294.9,191.8 284,186" fill="#111" stroke="#1a1a1a" stroke-width="0.9" stroke-linejoin="round" /><polygon points="294.9,185 311.5,178.3 311.5,185.1 294.9,191.8" fill="#fff" stroke="#1a1a1a" stroke-width="0.9" stroke-linejoin="round" /><polygon points="284,179.2 294.9,185 311.5,178.3 300.6,172.5" fill="#fff" stroke="#1a1a1a" stroke-width="0.9" stroke-linejoin="round" />
<polygon points="277.5,145.9 286.4,150.7 286.4,154.7 277.5,150" fill="#111" stroke="#1a1a1a" stroke-width="0.9" stroke-linejoin="round" /><polygon points="286.4,150.7 294.7,147.3 294.7,151.4 286.4,154.7" fill="#fff" stroke="#1a1a1a" stroke-width="0.9" stroke-linejoin="round" /><polygon points="277.5,145.9 286.4,150.7 294.7,147.3 285.8,142.6" fill="#fff" stroke="#1a1a1a" stroke-width="0.9" stroke-linejoin="round" />
<polygon points="302.5,164.6 306.5,166.7 306.5,172.1 302.5,170" fill="#111" stroke="#1a1a1a" stroke-width="0.9" stroke-linejoin="round" /><polygon points="306.5,166.7 314.8,163.3 314.8,168.7 306.5,172.1" fill="#fff" stroke="#1a1a1a" stroke-width="0.9" stroke-linejoin="round" /><polygon points="302.5,164.6 306.5,166.7 314.8,163.3 310.8,161.2" fill="#fff" stroke="#1a1a1a" stroke-width="0.9" stroke-linejoin="round" />
<polygon points="321,167.6 326.9,170.8 326.9,176.2 321,173" fill="#111" stroke="#1a1a1a" stroke-width="0.9" stroke-linejoin="round" /><polygon points="326.9,170.8 335.2,167.4 335.2,172.8 326.9,176.2" fill="#fff" stroke="#1a1a1a" stroke-width="0.9" stroke-linejoin="round" /><polygon points="321,167.6 326.9,170.8 335.2,167.4 329.3,164.2" fill="#fff" stroke="#1a1a1a" stroke-width="0.9" stroke-linejoin="round" />
<polygon points="317.5,198.2 327.4,203.5 327.4,210.3 317.5,205" fill="#111" stroke="#1a1a1a" stroke-width="0.9" stroke-linejoin="round" /><polygon points="327.4,203.5 343,197.2 343,204 327.4,210.3" fill="#fff" stroke="#1a1a1a" stroke-width="0.9" stroke-linejoin="round" /><polygon points="317.5,198.2 327.4,203.5 343,197.2 333.1,192" fill="#fff" stroke="#1a1a1a" stroke-width="0.9" stroke-linejoin="round" />
<polygon points="276,212.9 285.9,218.2 285.9,226.3 276,221" fill="#111" stroke="#1a1a1a" stroke-width="0.9" stroke-linejoin="round" /><polygon points="285.9,218.2 302.5,211.4 302.5,219.5 285.9,226.3" fill="#fff" stroke="#1a1a1a" stroke-width="0.9" stroke-linejoin="round" /><polygon points="276,212.9 285.9,218.2 302.5,211.4 292.6,206.2" fill="#fff" stroke="#1a1a1a" stroke-width="0.9" stroke-linejoin="round" />
<polygon points="369,188.9 393.7,202 393.7,210.1 369,197" fill="#111" stroke="#1a1a1a" stroke-width="0.9" stroke-linejoin="round" /><polygon points="393.7,202 403.1,198.3 403.1,206.4 393.7,210.1" fill="#fff" stroke="#1a1a1a" stroke-width="0.9" stroke-linejoin="round" /><polygon points="369,188.9 393.7,202 403.1,198.3 378.3,185.1" fill="#fff" stroke="#1a1a1a" stroke-width="0.9" stroke-linejoin="round" />
<polygon points="351,210.6 363.9,217.4 363.9,222.8 351,216" fill="#111" stroke="#1a1a1a" stroke-width="0.9" stroke-linejoin="round" /><polygon points="363.9,217.4 375.3,212.8 375.3,218.2 363.9,222.8" fill="#fff" stroke="#1a1a1a" stroke-width="0.9" stroke-linejoin="round" /><polygon points="351,210.6 363.9,217.4 375.3,212.8 362.4,206" fill="#fff" stroke="#1a1a1a" stroke-width="0.9" stroke-linejoin="round" />
<polygon points="384,214.9 396.9,221.7 396.9,229.8 384,223" fill="#111" stroke="#1a1a1a" stroke-width="0.9" stroke-linejoin="round" /><polygon points="396.9,221.7 410.4,216.3 410.4,224.4 396.9,229.8" fill="#fff" stroke="#1a1a1a" stroke-width="0.9" stroke-linejoin="round" /><polygon points="384,214.9 396.9,221.7 410.4,216.3 397.5,209.4" fill="#fff" stroke="#1a1a1a" stroke-width="0.9" stroke-linejoin="round" />
<polygon points="419,211.2 431.9,218.1 431.9,224.8 419,218" fill="#111" stroke="#1a1a1a" stroke-width="0.9" stroke-linejoin="round" /><polygon points="431.9,218.1 445.4,212.6 445.4,219.4 431.9,224.8" fill="#fff" stroke="#1a1a1a" stroke-width="0.9" stroke-linejoin="round" /><polygon points="419,211.2 431.9,218.1 445.4,212.6 432.5,205.8" fill="#fff" stroke="#1a1a1a" stroke-width="0.9" stroke-linejoin="round" />
<polygon points="339,235.9 358.8,246.4 358.8,254.5 339,244" fill="#111" stroke="#1a1a1a" stroke-width="0.9" stroke-linejoin="round" /><polygon points="358.8,246.4 370.2,241.8 370.2,249.9 358.8,254.5" fill="#fff" stroke="#1a1a1a" stroke-width="0.9" stroke-linejoin="round" /><polygon points="339,235.9 358.8,246.4 370.2,241.8 350.4,231.3" fill="#fff" stroke="#1a1a1a" stroke-width="0.9" stroke-linejoin="round" />
<polygon points="309,240.6 321.9,247.4 321.9,256.8 309,250" fill="#111" stroke="#1a1a1a" stroke-width="0.9" stroke-linejoin="round" /><polygon points="321.9,247.4 337.4,241.1 337.4,250.5 321.9,256.8" fill="#fff" stroke="#1a1a1a" stroke-width="0.9" stroke-linejoin="round" /><polygon points="309,240.6 321.9,247.4 337.4,241.1 324.6,234.3" fill="#fff" stroke="#1a1a1a" stroke-width="0.9" stroke-linejoin="round" />
<polygon points="337.5,251.6 345.4,255.8 345.4,261.2 337.5,257" fill="#111" stroke="#1a1a1a" stroke-width="0.9" stroke-linejoin="round" /><polygon points="345.4,255.8 353.7,252.4 353.7,257.8 345.4,261.2" fill="#fff" stroke="#1a1a1a" stroke-width="0.9" stroke-linejoin="round" /><polygon points="337.5,251.6 345.4,255.8 353.7,252.4 345.8,248.2" fill="#fff" stroke="#1a1a1a" stroke-width="0.9" stroke-linejoin="round" />
<polygon points="412.5,264.2 432.3,274.8 432.3,281.5 412.5,271" fill="#111" stroke="#1a1a1a" stroke-width="0.9" stroke-linejoin="round" /><polygon points="432.3,274.8 440.6,271.4 440.6,278.2 432.3,281.5" fill="#fff" stroke="#1a1a1a" stroke-width="0.9" stroke-linejoin="round" /><polygon points="412.5,264.2 432.3,274.8 440.6,271.4 420.8,260.9" fill="#fff" stroke="#1a1a1a" stroke-width="0.9" stroke-linejoin="round" />
<polygon points="416,212.2 430.8,220.1 430.8,226.9 416,219" fill="#111" stroke="#1a1a1a" stroke-width="0.9" stroke-linejoin="round" /><polygon points="430.8,220.1 442.3,215.5 442.3,222.3 430.8,226.9" fill="#fff" stroke="#1a1a1a" stroke-width="0.9" stroke-linejoin="round" /><polygon points="416,212.2 430.8,220.1 442.3,215.5 427.4,207.6" fill="#fff" stroke="#1a1a1a" stroke-width="0.9" stroke-linejoin="round" />
<polygon points="461,235.2 482.8,246.8 482.8,253.6 461,242" fill="#111" stroke="#1a1a1a" stroke-width="0.9" stroke-linejoin="round" /><polygon points="482.8,246.8 493.1,242.6 493.1,249.4 482.8,253.6" fill="#fff" stroke="#1a1a1a" stroke-width="0.9" stroke-linejoin="round" /><polygon points="461,235.2 482.8,246.8 493.1,242.6 471.4,231.1" fill="#fff" stroke="#1a1a1a" stroke-width="0.9" stroke-linejoin="round" />
<polygon points="459,273.9 466.9,278.2 466.9,282.2 459,278" fill="#111" stroke="#1a1a1a" stroke-width="0.9" stroke-linejoin="round" /><polygon points="466.9,278.2 473.1,275.6 473.1,279.7 466.9,282.2" fill="#fff" stroke="#1a1a1a" stroke-width="0.9" stroke-linejoin="round" /><polygon points="459,273.9 466.9,278.2 473.1,275.6 465.2,271.4" fill="#fff" stroke="#1a1a1a" stroke-width="0.9" stroke-linejoin="round" />
<polygon points="440,253.6 449.9,258.9 449.9,264.3 440,259" fill="#111" stroke="#1a1a1a" stroke-width="0.9" stroke-linejoin="round" /><polygon points="449.9,258.9 460.3,254.7 460.3,260.1 449.9,264.3" fill="#fff" stroke="#1a1a1a" stroke-width="0.9" stroke-linejoin="round" /><polygon points="440,253.6 449.9,258.9 460.3,254.7 450.4,249.4" fill="#fff" stroke="#1a1a1a" stroke-width="0.9" stroke-linejoin="round" />
<polygon points="425,245.6 432.9,249.8 432.9,255.2 425,251" fill="#111" stroke="#1a1a1a" stroke-width="0.9" stroke-linejoin="round" /><polygon points="432.9,249.8 441.2,246.4 441.2,251.8 432.9,255.2" fill="#fff" stroke="#1a1a1a" stroke-width="0.9" stroke-linejoin="round" /><polygon points="425,245.6 432.9,249.8 441.2,246.4 433.3,242.2" fill="#fff" stroke="#1a1a1a" stroke-width="0.9" stroke-linejoin="round" />
<polygon points="364,279.5 400.2,306.3 400.2,314.3 364,287.5" fill="#111" stroke="#1a1a1a" stroke-width="0.9" stroke-linejoin="round" /><polygon points="400.2,306.3 413.4,299.2 413.4,307.2 400.2,314.3" fill="#fff" stroke="#1a1a1a" stroke-width="0.9" stroke-linejoin="round" /><polygon points="364,279.5 400.2,306.3 413.4,299.2 377.2,272.5" fill="#fff" stroke="#1a1a1a" stroke-width="0.9" stroke-linejoin="round" />
<polygon points="472.5,292 493.8,300.6 493.8,305.1 472.5,296.5" fill="#111" stroke="#1a1a1a" stroke-width="0.9" stroke-linejoin="round" /><polygon points="493.8,300.6 518.7,285.7 518.7,290.2 493.8,305.1" fill="#fff" stroke="#1a1a1a" stroke-width="0.9" stroke-linejoin="round" /><polygon points="472.5,292 493.8,300.6 518.7,285.7 497.4,277.1" fill="#fff" stroke="#1a1a1a" stroke-width="0.9" stroke-linejoin="round" />
<line x1="181.3" y1="138.4" x2="181.3" y2="144.7" stroke="#1a1a1a" stroke-width="0.9" /><path d="M186.8 133C186.8 134.6 185.9 136.6 185.2 137.8C184.4 139 183.2 139.8 182.1 140.1C181 140.4 179.6 140.4 178.7 139.6C177.7 138.9 176.9 137.1 176.5 135.5C176.1 134 175.7 131.6 176 130.2C176.4 128.7 177.8 127.4 178.8 126.7C179.8 125.9 181.1 125.2 182.2 125.5C183.2 125.7 184.5 126.7 185.3 127.9C186.1 129.2 186.8 131.3 186.8 133Z" fill="#fff" stroke="#1a1a1a" stroke-width="0.9" stroke-linecap="round" stroke-linejoin="round" />
<line x1="277.5" y1="138.6" x2="277.5" y2="144.6" stroke="#1a1a1a" stroke-width="0.9" /><path d="M277.5 126.4C280.4 131.4 285.8 140.6 277.5 140.6C269.2 140.6 274.6 131.4 277.5 126.4Z" fill="#fff" stroke="#1a1a1a" stroke-width="0.9" stroke-linecap="round" stroke-linejoin="round" />
<line x1="158.6" y1="139.9" x2="158.6" y2="146.2" stroke="#1a1a1a" stroke-width="0.9" /><path d="M166.2 134.6C166 136.2 164.3 137.8 163.2 138.9C162.1 140.1 161 140.8 159.7 141.3C158.3 141.7 156.2 142.4 154.9 141.7C153.6 141.1 152.3 139 151.8 137.4C151.3 135.7 151.4 133.4 151.9 132C152.5 130.5 154.1 129.3 155.4 128.4C156.7 127.6 158.4 126.8 159.8 127C161.2 127.2 162.9 128.4 163.9 129.7C165 130.9 166.3 133.1 166.2 134.6Z" fill="#fff" stroke="#1a1a1a" stroke-width="0.9" stroke-linecap="round" stroke-linejoin="round" />
<line x1="229.2" y1="141.1" x2="229.2" y2="147.7" stroke="#1a1a1a" stroke-width="0.9" /><path d="M229.2 125.2C232.6 131.5 238.6 143.7 229.2 143.7C219.8 143.7 225.9 131.5 229.2 125.2Z" fill="#fff" stroke="#1a1a1a" stroke-width="0.9" stroke-linecap="round" stroke-linejoin="round" />
<line x1="247.5" y1="140" x2="247.5" y2="146.2" stroke="#1a1a1a" stroke-width="0.9" /><path d="M247.5 126.8C251 132.1 257.4 142.2 247.5 142.2C237.6 142.2 244 132.1 247.5 126.8Z" fill="#fff" stroke="#1a1a1a" stroke-width="0.9" stroke-linecap="round" stroke-linejoin="round" />
<line x1="100" y1="147.6" x2="100" y2="154.8" stroke="#1a1a1a" stroke-width="0.9" /><path d="M108.8 140C108.8 142.4 108 145.5 106.8 147.5C105.6 149.4 103.5 151.4 101.6 151.8C99.7 152.2 97.3 151.2 95.6 149.9C93.9 148.6 91.8 146.3 91.4 144.1C91 141.9 92.4 139 93.2 136.7C93.9 134.5 94.5 132.2 95.9 130.7C97.3 129.3 99.8 127.8 101.6 128.2C103.4 128.5 105.4 130.8 106.6 132.8C107.8 134.8 108.7 137.6 108.8 140Z" fill="#fff" stroke="#1a1a1a" stroke-width="0.9" stroke-linecap="round" stroke-linejoin="round" />
<line x1="266" y1="145" x2="266" y2="151.2" stroke="#1a1a1a" stroke-width="0.9" /><path d="M272.4 140C272.3 141.6 271.4 143.5 270.5 144.6C269.6 145.7 268.1 146.5 267 146.7C265.8 146.8 264.5 146.1 263.4 145.5C262.3 144.8 260.7 143.9 260.2 142.6C259.7 141.2 260.1 139.1 260.5 137.6C260.9 136 261.8 134.1 262.9 133.4C263.9 132.6 265.7 132.9 267 133.1C268.3 133.4 269.9 133.9 270.8 135.1C271.7 136.2 272.4 138.4 272.4 140Z" fill="#fff" stroke="#1a1a1a" stroke-width="0.9" stroke-linecap="round" stroke-linejoin="round" />
<line x1="169" y1="150.7" x2="169" y2="157.6" stroke="#1a1a1a" stroke-width="0.9" /><path d="M169 133.4C171.9 140.2 177.3 153.6 169 153.6C160.7 153.6 166.1 140.2 169 133.4Z" fill="#fff" stroke="#1a1a1a" stroke-width="0.9" stroke-linecap="round" stroke-linejoin="round" />
<line x1="216.9" y1="152.1" x2="216.9" y2="158" stroke="#1a1a1a" stroke-width="0.9" /><path d="M216.9 140.6C220.4 145.3 226.7 154 216.9 154C207.1 154 213.4 145.3 216.9 140.6Z" fill="#fff" stroke="#1a1a1a" stroke-width="0.9" stroke-linecap="round" stroke-linejoin="round" />
<line x1="133.7" y1="154.6" x2="133.7" y2="161.3" stroke="#1a1a1a" stroke-width="0.9" /><path d="M138.3 148.4C138.2 150.2 137.6 152 137 153.6C136.4 155.2 135.5 157.7 134.6 157.9C133.7 158.2 132.5 156.2 131.6 155.1C130.7 154 129.7 153.1 129.2 151.4C128.7 149.7 128.4 146.7 128.7 145C129.1 143.4 130.6 142.4 131.5 141.5C132.5 140.6 133.5 139.4 134.5 139.5C135.5 139.7 136.8 141 137.4 142.5C138.1 144 138.4 146.5 138.3 148.4Z" fill="#fff" stroke="#1a1a1a" stroke-width="0.9" stroke-linecap="round" stroke-linejoin="round" />
<line x1="111" y1="153.8" x2="111" y2="159.4" stroke="#1a1a1a" stroke-width="0.9" /><path d="M115.6 150C115.7 151.1 115.3 152.7 114.7 153.5C114 154.4 112.8 154.7 111.8 154.9C110.7 155.2 109.4 155.5 108.5 155C107.5 154.6 106.5 153.2 106.2 152C105.9 150.8 106 149.1 106.4 148.1C106.8 147 107.9 146.3 108.8 145.7C109.7 145.1 110.9 144.5 111.8 144.7C112.8 144.8 113.8 145.8 114.5 146.7C115.1 147.6 115.6 148.9 115.6 150Z" fill="#fff" stroke="#1a1a1a" stroke-width="0.9" stroke-linecap="round" stroke-linejoin="round" />
<line x1="304" y1="156.7" x2="304" y2="162.5" stroke="#1a1a1a" stroke-width="0.9" /><path d="M309.4 152.5C309.4 153.9 309.2 155.8 308.5 156.8C307.8 157.7 306.1 158.2 304.9 158.4C303.7 158.5 302.3 158.3 301.3 157.7C300.3 157.1 299.2 155.8 298.9 154.6C298.6 153.4 299 151.8 299.4 150.6C299.8 149.4 300.4 148 301.3 147.3C302.3 146.6 303.8 146.2 305 146.4C306.1 146.6 307.6 147.3 308.4 148.4C309.1 149.4 309.4 151.1 309.4 152.5Z" fill="#fff" stroke="#1a1a1a" stroke-width="0.9" stroke-linecap="round" stroke-linejoin="round" />
<line x1="312.5" y1="156.7" x2="312.5" y2="162.5" stroke="#1a1a1a" stroke-width="0.9" /><path d="M318 152.5C318 153.8 317.5 155.6 316.7 156.5C316 157.4 314.4 157.8 313.3 157.9C312.2 158 311.1 157.6 310.2 157.1C309.2 156.5 308.1 155.6 307.7 154.5C307.3 153.4 307.5 151.8 307.8 150.6C308.1 149.3 308.7 147.6 309.6 146.9C310.6 146.2 312.3 146 313.5 146.3C314.6 146.6 315.9 147.5 316.7 148.5C317.4 149.6 318 151.2 318 152.5Z" fill="#fff" stroke="#1a1a1a" stroke-width="0.9" stroke-linecap="round" stroke-linejoin="round" />
<line x1="305.9" y1="159.3" x2="305.9" y2="165.9" stroke="#1a1a1a" stroke-width="0.9" /><path d="M305.9 143.3C309 149.6 314.5 161.9 305.9 161.9C297.4 161.9 302.9 149.6 305.9 143.3Z" fill="#fff" stroke="#1a1a1a" stroke-width="0.9" stroke-linecap="round" stroke-linejoin="round" />
<line x1="151" y1="159.9" x2="151" y2="166.4" stroke="#1a1a1a" stroke-width="0.9" /><path d="M151 144.6C154.5 150.6 160.9 162.4 151 162.4C141.1 162.4 147.5 150.6 151 144.6Z" fill="#fff" stroke="#1a1a1a" stroke-width="0.9" stroke-linecap="round" stroke-linejoin="round" />
<line x1="262" y1="160.8" x2="262" y2="166.4" stroke="#1a1a1a" stroke-width="0.9" /><path d="M266.1 157C266.1 158.3 266.4 159.9 265.8 160.7C265.3 161.5 263.8 161.6 262.7 161.9C261.7 162.1 260.1 162.8 259.4 162.2C258.6 161.7 258.5 159.8 258.1 158.6C257.7 157.4 256.9 156.1 257.1 155C257.4 153.9 258.6 152.7 259.5 152.1C260.5 151.5 261.8 151 262.9 151.2C264 151.4 265.5 152.1 266.1 153.1C266.6 154.1 266.2 155.7 266.1 157Z" fill="#fff" stroke="#1a1a1a" stroke-width="0.9" stroke-linecap="round" stroke-linejoin="round" />
<line x1="254.6" y1="165.4" x2="254.6" y2="171.8" stroke="#1a1a1a" stroke-width="0.9" /><path d="M254.6 150.7C257.1 156.6 261.7 167.8 254.6 167.8C247.5 167.8 252 156.6 254.6 150.7Z" fill="#fff" stroke="#1a1a1a" stroke-width="0.9" stroke-linecap="round" stroke-linejoin="round" />
<line x1="177.5" y1="164.2" x2="177.5" y2="170" stroke="#1a1a1a" stroke-width="0.9" /><path d="M183.2 160C183.3 161.3 182.8 163.4 182 164.3C181.2 165.2 179.6 165.4 178.4 165.6C177.1 165.8 175.7 166.1 174.7 165.5C173.6 165 172.6 163.4 172.3 162.2C171.9 160.9 171.8 159 172.3 157.9C172.8 156.7 174.1 155.8 175.1 155.3C176.1 154.8 177.3 154.6 178.3 154.8C179.4 154.9 180.6 155.4 181.4 156.3C182.3 157.1 183.1 158.7 183.2 160Z" fill="#fff" stroke="#1a1a1a" stroke-width="0.9" stroke-linecap="round" stroke-linejoin="round" />
<line x1="295" y1="163.8" x2="295" y2="169.4" stroke="#1a1a1a" stroke-width="0.9" /><path d="M295 153.6C297.4 157.8 301.6 165.4 295 165.4C288.4 165.4 292.6 157.8 295 153.6Z" fill="#fff" stroke="#1a1a1a" stroke-width="0.9" stroke-linecap="round" stroke-linejoin="round" />
<line x1="139" y1="169" x2="139" y2="175.2" stroke="#1a1a1a" stroke-width="0.9" /><path d="M144.7 164C144.7 165.5 143.9 167.5 143.1 168.7C142.3 169.8 141 170.9 139.9 171.1C138.8 171.3 137.5 170.8 136.4 170.1C135.3 169.3 133.7 168.2 133.4 166.8C133 165.4 133.7 163.1 134.3 161.7C134.8 160.3 135.6 159 136.6 158.3C137.5 157.6 138.8 157.1 139.9 157.3C140.9 157.6 142 158.5 142.8 159.6C143.6 160.8 144.6 162.5 144.7 164Z" fill="#fff" stroke="#1a1a1a" stroke-width="0.9" stroke-linecap="round" stroke-linejoin="round" />
<line x1="225" y1="169.2" x2="225" y2="175" stroke="#1a1a1a" stroke-width="0.9" /><path d="M230.6 165C230.7 166.3 230.1 168 229.3 169.1C228.6 170.2 227.2 171.4 226 171.5C224.9 171.6 223.5 170.6 222.5 169.9C221.5 169.2 220.3 168.3 219.8 167.1C219.3 165.9 219.1 164 219.5 162.7C219.9 161.4 221 159.9 222.1 159.3C223.2 158.7 224.8 158.6 225.9 159C227 159.3 228 160.5 228.7 161.5C229.5 162.5 230.5 163.7 230.6 165Z" fill="#fff" stroke="#1a1a1a" stroke-width="0.9" stroke-linecap="round" stroke-linejoin="round" />
<line x1="127.5" y1="173.4" x2="127.5" y2="179.9" stroke="#1a1a1a" stroke-width="0.9" /><path d="M127.5 158.1C131 164.1 137.4 175.9 127.5 175.9C117.6 175.9 124 164.1 127.5 158.1Z" fill="#fff" stroke="#1a1a1a" stroke-width="0.9" stroke-linecap="round" stroke-linejoin="round" />
<line x1="315" y1="172.1" x2="315" y2="178.1" stroke="#1a1a1a" stroke-width="0.9" /><path d="M319.8 167.5C319.8 168.8 319.2 170 318.6 171.2C318 172.5 317 174.6 316 174.8C315 175.1 313.5 173.6 312.6 172.8C311.6 171.9 310.9 170.8 310.5 169.5C310 168.3 309.5 166.4 309.8 165.2C310.1 163.9 311.4 162.8 312.4 162C313.5 161.2 315 160.1 316 160.4C317.1 160.6 318.2 162.4 318.8 163.5C319.4 164.7 319.9 166.2 319.8 167.5Z" fill="#fff" stroke="#1a1a1a" stroke-width="0.9" stroke-linecap="round" stroke-linejoin="round" />
<line x1="112" y1="175.8" x2="112" y2="181.4" stroke="#1a1a1a" stroke-width="0.9" /><path d="M117.2 172C117.3 173.2 116.7 175 116 175.8C115.2 176.6 113.8 176.6 112.7 176.8C111.7 176.9 110.4 177.3 109.6 176.8C108.7 176.3 108 174.9 107.6 173.8C107.3 172.7 107.2 171.1 107.5 170.1C107.9 169.1 109 168.3 109.9 167.8C110.7 167.2 111.8 167 112.8 167.1C113.7 167.2 114.8 167.8 115.6 168.6C116.3 169.4 117.2 170.8 117.2 172Z" fill="#fff" stroke="#1a1a1a" stroke-width="0.9" stroke-linecap="round" stroke-linejoin="round" />
<line x1="316.8" y1="176.8" x2="316.8" y2="182.7" stroke="#1a1a1a" stroke-width="0.9" /><path d="M322.8 172.4C322.7 173.7 321.5 175 320.7 176.1C319.9 177.3 318.9 179.1 317.9 179.4C316.8 179.6 315.3 178.2 314.2 177.4C313.1 176.6 311.7 175.8 311.3 174.6C311 173.5 311.7 171.8 312.1 170.5C312.5 169.1 312.9 167.2 313.8 166.6C314.7 166 316.4 166.5 317.6 166.8C318.9 167 320.4 167.2 321.2 168.2C322.1 169.1 322.9 171.1 322.8 172.4Z" fill="#fff" stroke="#1a1a1a" stroke-width="0.9" stroke-linecap="round" stroke-linejoin="round" />
<line x1="99.1" y1="178" x2="99.1" y2="184.3" stroke="#1a1a1a" stroke-width="0.9" /><path d="M99.1 164.2C102 169.7 107.1 180.3 99.1 180.3C91.2 180.3 96.3 169.7 99.1 164.2Z" fill="#fff" stroke="#1a1a1a" stroke-width="0.9" stroke-linecap="round" stroke-linejoin="round" />
<line x1="296.1" y1="180.1" x2="296.1" y2="186.8" stroke="#1a1a1a" stroke-width="0.9" /><path d="M301 174C301 175.8 300.5 177.7 299.9 179.2C299.2 180.7 298.1 182.6 297.1 182.9C296.1 183.1 294.8 181.7 293.8 180.8C292.7 179.8 291.3 178.9 290.8 177.2C290.3 175.5 290.3 172.4 290.8 170.7C291.3 169.1 292.7 168.2 293.8 167.2C294.8 166.2 296 164.7 297.1 164.9C298.2 165 299.5 166.8 300.2 168.3C300.8 169.8 301.1 172.1 301 174Z" fill="#fff" stroke="#1a1a1a" stroke-width="0.9" stroke-linecap="round" stroke-linejoin="round" />
<line x1="154" y1="179.5" x2="154" y2="185.8" stroke="#1a1a1a" stroke-width="0.9" /><path d="M160.8 174C161 175.7 160.5 178.4 159.5 179.6C158.6 180.8 156.4 181 155 181.1C153.6 181.2 152.4 180.7 151.1 180C149.8 179.3 147.9 178.3 147.4 176.9C146.9 175.5 147.6 173 148.2 171.4C148.7 169.9 149.7 168.4 150.9 167.5C152 166.5 153.9 165.4 155.2 165.7C156.5 166 157.6 168 158.6 169.4C159.5 170.8 160.7 172.3 160.8 174Z" fill="#fff" stroke="#1a1a1a" stroke-width="0.9" stroke-linecap="round" stroke-linejoin="round" />
<line x1="249" y1="179" x2="249" y2="185.2" stroke="#1a1a1a" stroke-width="0.9" /><path d="M249 165.8C251.9 171.1 257.3 181.2 249 181.2C240.7 181.2 246.1 171.1 249 165.8Z" fill="#fff" stroke="#1a1a1a" stroke-width="0.9" stroke-linecap="round" stroke-linejoin="round" />
<line x1="267.5" y1="179" x2="267.5" y2="185.2" stroke="#1a1a1a" stroke-width="0.9" /><path d="M273.2 174C273.2 175.6 273.2 177.9 272.4 179C271.6 180.1 269.8 180.5 268.5 180.7C267.2 180.9 265.6 181 264.5 180.3C263.5 179.5 262.6 177.8 262.2 176.4C261.8 174.9 261.7 173.1 262.1 171.6C262.4 170 263.1 167.7 264.2 167C265.3 166.4 267.1 167.2 268.4 167.6C269.7 168 271.2 168.4 272 169.4C272.7 170.5 273.1 172.4 273.2 174Z" fill="#fff" stroke="#1a1a1a" stroke-width="0.9" stroke-linecap="round" stroke-linejoin="round" />
<line x1="247.5" y1="179.6" x2="247.5" y2="185.6" stroke="#1a1a1a" stroke-width="0.9" /><path d="M253.1 175C253 176.3 252.2 177.6 251.5 178.7C250.7 179.9 249.7 181.5 248.6 181.7C247.4 182 245.8 181.1 244.8 180.3C243.7 179.5 242.7 178.4 242.3 177.1C241.8 175.9 241.7 174.1 242.1 172.8C242.5 171.5 243.4 169.9 244.4 169.1C245.5 168.2 247.4 167.4 248.6 167.7C249.9 168 251.2 169.6 252 170.8C252.7 172 253.2 173.7 253.1 175Z" fill="#fff" stroke="#1a1a1a" stroke-width="0.9" stroke-linecap="round" stroke-linejoin="round" />
<line x1="200" y1="180.2" x2="200" y2="186" stroke="#1a1a1a" stroke-width="0.9" /><path d="M200 169C202.4 173.6 206.6 182 200 182C193.4 182 197.6 173.6 200 169Z" fill="#fff" stroke="#1a1a1a" stroke-width="0.9" stroke-linecap="round" stroke-linejoin="round" />
<line x1="174" y1="183.6" x2="174" y2="189.6" stroke="#1a1a1a" stroke-width="0.9" /><path d="M174 171.4C176.7 176.4 181.4 185.6 174 185.6C166.6 185.6 171.3 176.4 174 171.4Z" fill="#fff" stroke="#1a1a1a" stroke-width="0.9" stroke-linecap="round" stroke-linejoin="round" />
<line x1="130" y1="184.2" x2="130" y2="190" stroke="#1a1a1a" stroke-width="0.9" /><path d="M135.5 180C135.5 181.4 135.2 183.2 134.4 184.2C133.6 185.1 132.1 185.4 130.9 185.6C129.7 185.8 128.3 185.9 127.2 185.4C126.2 184.8 125 183.5 124.5 182.3C124.1 181 124 178.9 124.5 177.7C125 176.6 126.5 175.9 127.6 175.2C128.6 174.6 129.9 173.7 131 173.9C132.1 174 133.4 175 134.2 176C134.9 177.1 135.5 178.6 135.5 180Z" fill="#fff" stroke="#1a1a1a" stroke-width="0.9" stroke-linecap="round" stroke-linejoin="round" />
<line x1="335" y1="184.2" x2="335" y2="190" stroke="#1a1a1a" stroke-width="0.9" /><path d="M340.4 180C340.6 181.3 340.2 183.1 339.4 184.2C338.7 185.3 337.2 186.2 336 186.5C334.8 186.7 333.1 186.4 332.1 185.7C331.1 184.9 330.6 183.3 330.2 182C329.7 180.7 329.1 178.9 329.5 177.7C329.8 176.5 331.3 175.5 332.4 174.9C333.5 174.3 334.8 174.1 335.9 174.4C336.9 174.6 337.9 175.6 338.7 176.5C339.4 177.5 340.3 178.7 340.4 180Z" fill="#fff" stroke="#1a1a1a" stroke-width="0.9" stroke-linecap="round" stroke-linejoin="round" />
<line x1="300" y1="186.2" x2="300" y2="192" stroke="#1a1a1a" stroke-width="0.9" /><path d="M305.6 182C305.6 183.4 305.1 185 304.3 186.1C303.5 187.2 302.1 188.3 301 188.4C299.9 188.6 298.6 187.6 297.5 186.9C296.4 186.2 294.9 185.5 294.4 184.3C294 183.1 294.5 181.2 294.9 179.9C295.4 178.6 296.2 177.2 297.2 176.5C298.2 175.8 299.8 175.5 301 175.7C302.2 175.9 303.7 176.7 304.5 177.7C305.3 178.8 305.7 180.6 305.6 182Z" fill="#fff" stroke="#1a1a1a" stroke-width="0.9" stroke-linecap="round" stroke-linejoin="round" />
<line x1="237.5" y1="187.5" x2="237.5" y2="193.7" stroke="#1a1a1a" stroke-width="0.9" /><path d="M237.5 174.3C240.4 179.6 245.8 189.7 237.5 189.7C229.2 189.7 234.6 179.6 237.5 174.3Z" fill="#fff" stroke="#1a1a1a" stroke-width="0.9" stroke-linecap="round" stroke-linejoin="round" />
<line x1="160.3" y1="188.8" x2="160.3" y2="194.7" stroke="#1a1a1a" stroke-width="0.9" /><path d="M166.2 184.5C166.3 185.8 166.2 187.5 165.4 188.6C164.7 189.7 163 190.8 161.5 191.1C160 191.4 157.9 191 156.7 190.3C155.5 189.5 154.5 188 154.1 186.6C153.6 185.3 153.4 183.6 153.9 182.3C154.4 181.1 155.8 180 157.1 179.4C158.3 178.7 160.1 178.2 161.4 178.4C162.7 178.7 164 179.9 164.8 181C165.6 182 166.1 183.2 166.2 184.5Z" fill="#fff" stroke="#1a1a1a" stroke-width="0.9" stroke-linecap="round" stroke-linejoin="round" />
<line x1="216" y1="190.6" x2="216" y2="196.6" stroke="#1a1a1a" stroke-width="0.9" /><path d="M221.8 186C221.9 187.4 221.6 189.5 220.8 190.5C220 191.4 218.2 191.5 216.9 191.8C215.6 192 214 192.6 212.9 192C211.9 191.4 211.1 189.6 210.6 188.2C210.2 186.8 209.9 184.9 210.3 183.7C210.8 182.4 212.2 181.4 213.3 180.8C214.4 180.1 215.8 179.5 217 179.8C218.1 180 219.5 181 220.3 182C221.1 183 221.7 184.6 221.8 186Z" fill="#fff" stroke="#1a1a1a" stroke-width="0.9" stroke-linecap="round" stroke-linejoin="round" />
<line x1="121" y1="195.5" x2="121" y2="201.8" stroke="#1a1a1a" stroke-width="0.9" /><path d="M121 181.2C124.2 186.9 130.1 197.8 121 197.8C111.9 197.8 117.8 186.9 121 181.2Z" fill="#fff" stroke="#1a1a1a" stroke-width="0.9" stroke-linecap="round" stroke-linejoin="round" />
<line x1="156" y1="196" x2="156" y2="202.2" stroke="#1a1a1a" stroke-width="0.9" /><path d="M162.5 191C162.4 192.4 160.9 194 160 195.1C159.1 196.2 158.2 197.2 157 197.7C155.8 198.2 153.8 198.6 152.7 198C151.6 197.3 150.5 195.1 150.2 193.6C149.9 192 150.5 190.2 151 188.8C151.5 187.3 152.1 185.9 153.2 185C154.2 184.1 155.9 183 157.1 183.2C158.3 183.5 159.6 185.1 160.5 186.4C161.3 187.7 162.5 189.6 162.5 191Z" fill="#fff" stroke="#1a1a1a" stroke-width="0.9" stroke-linecap="round" stroke-linejoin="round" />
<line x1="350" y1="196.9" x2="350" y2="203.4" stroke="#1a1a1a" stroke-width="0.9" /><path d="M350 181.6C353.5 187.6 359.9 199.4 350 199.4C340.1 199.4 346.5 187.6 350 181.6Z" fill="#fff" stroke="#1a1a1a" stroke-width="0.9" stroke-linecap="round" stroke-linejoin="round" />
<line x1="362.5" y1="196.9" x2="362.5" y2="203.4" stroke="#1a1a1a" stroke-width="0.9" /><path d="M367.7 191C367.7 192.6 367.5 194.8 366.8 196.1C366.1 197.4 364.7 198.3 363.5 198.7C362.2 199.1 360.5 199.5 359.4 198.7C358.3 197.9 357.2 195.8 356.7 194C356.2 192.2 355.9 189.4 356.4 187.8C356.9 186.3 358.7 185.3 359.9 184.5C361 183.7 362.4 182.6 363.5 182.9C364.6 183.2 365.8 184.9 366.5 186.2C367.2 187.6 367.7 189.4 367.7 191Z" fill="#fff" stroke="#1a1a1a" stroke-width="0.9" stroke-linecap="round" stroke-linejoin="round" />
<line x1="321.9" y1="197.1" x2="321.9" y2="203.2" stroke="#1a1a1a" stroke-width="0.9" /><path d="M321.9 183.9C325.3 189.2 331.4 199.2 321.9 199.2C312.5 199.2 318.6 189.2 321.9 183.9Z" fill="#fff" stroke="#1a1a1a" stroke-width="0.9" stroke-linecap="round" stroke-linejoin="round" />
<line x1="311" y1="199.5" x2="311" y2="205.8" stroke="#1a1a1a" stroke-width="0.9" /><path d="M311 185.2C314.2 190.9 320.1 201.8 311 201.8C301.9 201.8 307.8 190.9 311 185.2Z" fill="#fff" stroke="#1a1a1a" stroke-width="0.9" stroke-linecap="round" stroke-linejoin="round" />
<line x1="227.5" y1="200" x2="227.5" y2="206.2" stroke="#1a1a1a" stroke-width="0.9" /><path d="M227.5 186.8C230.7 192.1 236.6 202.2 227.5 202.2C218.4 202.2 224.3 192.1 227.5 186.8Z" fill="#fff" stroke="#1a1a1a" stroke-width="0.9" stroke-linecap="round" stroke-linejoin="round" />
<line x1="170" y1="199.2" x2="170" y2="205" stroke="#1a1a1a" stroke-width="0.9" /><path d="M174.6 195C174.7 196.2 174.3 197.9 173.7 198.9C173.1 200 171.9 201.3 170.9 201.4C169.9 201.6 168.7 200.6 167.8 199.8C166.9 199.1 165.9 198.2 165.5 197.1C165.2 195.9 165.2 194.2 165.5 192.9C165.8 191.6 166.5 189.7 167.4 189.2C168.3 188.7 169.7 189.4 170.7 189.8C171.7 190.2 172.6 190.7 173.2 191.6C173.9 192.4 174.5 193.8 174.6 195Z" fill="#fff" stroke="#1a1a1a" stroke-width="0.9" stroke-linecap="round" stroke-linejoin="round" />
<line x1="141" y1="201.5" x2="141" y2="207.8" stroke="#1a1a1a" stroke-width="0.9" /><path d="M141 187.2C144.2 192.9 150.1 203.8 141 203.8C131.9 203.8 137.8 192.9 141 187.2Z" fill="#fff" stroke="#1a1a1a" stroke-width="0.9" stroke-linecap="round" stroke-linejoin="round" />
<line x1="400" y1="200.6" x2="400" y2="206.6" stroke="#1a1a1a" stroke-width="0.9" /><path d="M405.9 196C405.9 197.5 406 199.4 405.2 200.5C404.4 201.5 402.5 201.9 401.1 202.2C399.6 202.5 397.5 203 396.4 202.3C395.3 201.7 394.9 199.5 394.4 198.1C393.9 196.6 393.1 194.8 393.5 193.6C393.9 192.4 395.7 191.6 397 190.8C398.3 190 399.9 188.6 401.3 188.7C402.7 188.8 404.7 190.2 405.4 191.4C406.2 192.6 405.9 194.5 405.9 196Z" fill="#fff" stroke="#1a1a1a" stroke-width="0.9" stroke-linecap="round" stroke-linejoin="round" />
<line x1="402.5" y1="201.7" x2="402.5" y2="207.5" stroke="#1a1a1a" stroke-width="0.9" /><path d="M402.5 190.5C404.9 195.1 409.1 203.5 402.5 203.5C395.9 203.5 400.1 195.1 402.5 190.5Z" fill="#fff" stroke="#1a1a1a" stroke-width="0.9" stroke-linecap="round" stroke-linejoin="round" />
<line x1="215" y1="204.2" x2="215" y2="210" stroke="#1a1a1a" stroke-width="0.9" /><path d="M220 200C220.1 201.2 219.9 203.1 219.2 204C218.5 204.9 217 205.3 215.9 205.5C214.7 205.7 213.4 205.7 212.4 205.2C211.3 204.6 209.7 203.5 209.4 202.3C209.1 201.1 210 199.4 210.5 198.2C211 197 211.6 195.8 212.5 195C213.4 194.3 214.9 193.6 216 193.8C217 194.1 218 195.5 218.6 196.5C219.3 197.6 219.9 198.8 220 200Z" fill="#fff" stroke="#1a1a1a" stroke-width="0.9" stroke-linecap="round" stroke-linejoin="round" />
<line x1="118" y1="204.2" x2="118" y2="210" stroke="#1a1a1a" stroke-width="0.9" /><path d="M118 193C120.7 197.6 125.4 206 118 206C110.6 206 115.3 197.6 118 193Z" fill="#fff" stroke="#1a1a1a" stroke-width="0.9" stroke-linecap="round" stroke-linejoin="round" />
<line x1="160.8" y1="205" x2="160.8" y2="211" stroke="#1a1a1a" stroke-width="0.9" /><path d="M166.9 200.5C166.9 201.9 167.1 203.8 166.3 204.9C165.5 205.9 163.5 206.5 162 206.8C160.4 207.1 158.2 207.4 157 206.7C155.7 206 155 204.1 154.5 202.6C153.9 201.2 153.1 199.2 153.6 198C154.2 196.8 156.2 196.1 157.6 195.3C159 194.5 160.7 193.1 162.1 193.3C163.5 193.5 165.1 195.2 165.9 196.4C166.7 197.6 166.8 199.1 166.9 200.5Z" fill="#fff" stroke="#1a1a1a" stroke-width="0.9" stroke-linecap="round" stroke-linejoin="round" />
<line x1="191" y1="206" x2="191" y2="212.2" stroke="#1a1a1a" stroke-width="0.9" /><path d="M198.1 201C198.2 202.4 196.9 204.3 195.9 205.6C194.9 206.8 193.6 208.1 192.2 208.5C190.8 208.9 188.6 208.7 187.4 207.9C186.2 207.1 185.3 205.1 184.9 203.5C184.4 201.9 184.1 199.9 184.5 198.4C185 196.9 186.3 195.3 187.6 194.4C188.9 193.6 190.9 192.9 192.2 193.3C193.5 193.7 194.4 195.6 195.4 196.9C196.4 198.2 198 199.6 198.1 201Z" fill="#fff" stroke="#1a1a1a" stroke-width="0.9" stroke-linecap="round" stroke-linejoin="round" />
<line x1="219.3" y1="207.4" x2="219.3" y2="213.7" stroke="#1a1a1a" stroke-width="0.9" /><path d="M224 201.9C224 203.7 224 205.7 223.3 207C222.7 208.3 221.4 209.2 220.2 209.6C219.1 210 217.4 210.3 216.4 209.4C215.5 208.6 214.9 206.2 214.6 204.5C214.3 202.8 214.2 200.9 214.5 199.3C214.9 197.7 215.7 195.9 216.7 195.1C217.6 194.3 219 194.3 220.2 194.5C221.4 194.7 223 195.2 223.7 196.4C224.3 197.7 224.1 200.2 224 201.9Z" fill="#fff" stroke="#1a1a1a" stroke-width="0.9" stroke-linecap="round" stroke-linejoin="round" />
<line x1="267.9" y1="208.8" x2="267.9" y2="215.2" stroke="#1a1a1a" stroke-width="0.9" /><path d="M267.9 194.1C270.9 199.9 276.2 211.2 267.9 211.2C259.7 211.2 265 199.9 267.9 194.1Z" fill="#fff" stroke="#1a1a1a" stroke-width="0.9" stroke-linecap="round" stroke-linejoin="round" />
<line x1="270.6" y1="210.5" x2="270.6" y2="216.4" stroke="#1a1a1a" stroke-width="0.9" /><path d="M277.5 206C277.6 207.3 276.7 209.1 275.8 210.1C274.8 211.2 273.3 212.1 271.8 212.4C270.3 212.7 268.4 212.6 267 212C265.6 211.3 263.9 209.8 263.4 208.5C263 207.2 263.7 205.2 264.3 203.9C265 202.6 266.2 201.5 267.4 200.9C268.7 200.2 270.5 199.7 271.8 199.9C273.1 200.2 274.3 201.3 275.3 202.4C276.2 203.4 277.4 204.7 277.5 206Z" fill="#fff" stroke="#1a1a1a" stroke-width="0.9" stroke-linecap="round" stroke-linejoin="round" />
<line x1="146.8" y1="211.6" x2="146.8" y2="217.9" stroke="#1a1a1a" stroke-width="0.9" /><path d="M146.8 197.3C149.8 203 155.2 213.9 146.8 213.9C138.3 213.9 143.8 203 146.8 197.3Z" fill="#fff" stroke="#1a1a1a" stroke-width="0.9" stroke-linecap="round" stroke-linejoin="round" />
<line x1="179" y1="212.1" x2="179" y2="218.1" stroke="#1a1a1a" stroke-width="0.9" /><path d="M183.9 207.5C183.9 209 183.9 210.7 183.2 211.9C182.6 213.1 181.1 214.6 180 214.7C178.9 214.8 177.6 213.4 176.6 212.6C175.7 211.7 174.5 210.9 174.1 209.7C173.7 208.5 173.8 206.6 174.2 205.3C174.6 204.1 175.5 202.9 176.5 202.1C177.5 201.3 178.8 200.3 180 200.4C181.2 200.5 182.9 201.6 183.5 202.8C184.2 203.9 184 206 183.9 207.5Z" fill="#fff" stroke="#1a1a1a" stroke-width="0.9" stroke-linecap="round" stroke-linejoin="round" />
<line x1="336" y1="213.4" x2="336" y2="219.9" stroke="#1a1a1a" stroke-width="0.9" /><path d="M336 198.1C339.2 204.1 345.1 215.9 336 215.9C326.9 215.9 332.8 204.1 336 198.1Z" fill="#fff" stroke="#1a1a1a" stroke-width="0.9" stroke-linecap="round" stroke-linejoin="round" />
<line x1="160" y1="213.6" x2="160" y2="219.6" stroke="#1a1a1a" stroke-width="0.9" /><path d="M160 201.4C162.9 206.4 168.3 215.6 160 215.6C151.7 215.6 157.1 206.4 160 201.4Z" fill="#fff" stroke="#1a1a1a" stroke-width="0.9" stroke-linecap="round" stroke-linejoin="round" />
<line x1="395" y1="214.2" x2="395" y2="220" stroke="#1a1a1a" stroke-width="0.9" /><path d="M400.4 210C400.5 211.3 400.1 213.2 399.4 214.2C398.6 215.1 397 215.5 395.9 215.6C394.7 215.8 393.5 215.5 392.5 215C391.4 214.4 390.2 213.3 389.8 212.2C389.4 211 389.6 209.1 390 208C390.5 206.8 391.5 205.6 392.4 205C393.4 204.4 394.8 204 395.9 204.2C397 204.5 398.1 205.3 398.9 206.3C399.6 207.3 400.3 208.7 400.4 210Z" fill="#fff" stroke="#1a1a1a" stroke-width="0.9" stroke-linecap="round" stroke-linejoin="round" />
<line x1="181.1" y1="215.3" x2="181.1" y2="221.3" stroke="#1a1a1a" stroke-width="0.9" /><path d="M187.1 210.6C187.1 212.2 187.6 214.4 186.7 215.4C185.9 216.4 183.6 216.6 182.2 216.7C180.7 216.9 179.1 216.9 177.8 216.3C176.5 215.7 174.8 214.4 174.3 213.1C173.9 211.8 174.6 209.8 175.1 208.4C175.7 207.1 176.6 205.5 177.8 204.9C179 204.2 180.7 204.5 182.1 204.6C183.6 204.8 185.9 204.9 186.7 205.9C187.5 206.9 187.1 209 187.1 210.6Z" fill="#fff" stroke="#1a1a1a" stroke-width="0.9" stroke-linecap="round" stroke-linejoin="round" />
<line x1="200" y1="217" x2="200" y2="223.7" stroke="#1a1a1a" stroke-width="0.9" /><path d="M200 200.8C202.8 207.2 207.9 219.7 200 219.7C192.1 219.7 197.2 207.2 200 200.8Z" fill="#fff" stroke="#1a1a1a" stroke-width="0.9" stroke-linecap="round" stroke-linejoin="round" />
<line x1="147" y1="215.8" x2="147" y2="221.4" stroke="#1a1a1a" stroke-width="0.9" /><path d="M151.9 212C151.9 213.1 151.2 214.4 150.5 215.4C149.9 216.4 148.8 217.8 147.9 217.9C147 218 145.9 216.7 144.9 216.1C143.9 215.5 142.5 215.1 142 214.1C141.6 213.1 141.9 211.2 142.3 210.1C142.7 208.9 143.5 207.6 144.5 207C145.4 206.3 146.9 206 147.9 206.3C148.9 206.6 149.7 207.8 150.3 208.8C151 209.7 151.8 210.9 151.9 212Z" fill="#fff" stroke="#1a1a1a" stroke-width="0.9" stroke-linecap="round" stroke-linejoin="round" />
<line x1="240" y1="217.1" x2="240" y2="223.1" stroke="#1a1a1a" stroke-width="0.9" /><path d="M240 204.9C243.8 209.9 250.7 219.1 240 219.1C229.3 219.1 236.2 209.9 240 204.9Z" fill="#fff" stroke="#1a1a1a" stroke-width="0.9" stroke-linecap="round" stroke-linejoin="round" />
<line x1="315" y1="219.5" x2="315" y2="225.8" stroke="#1a1a1a" stroke-width="0.9" /><path d="M315 205.2C317.9 210.9 323.3 221.8 315 221.8C306.7 221.8 312.1 210.9 315 205.2Z" fill="#fff" stroke="#1a1a1a" stroke-width="0.9" stroke-linecap="round" stroke-linejoin="round" />
<line x1="376" y1="220.6" x2="376" y2="226.6" stroke="#1a1a1a" stroke-width="0.9" /><path d="M376 208.4C379.2 213.4 385.1 222.6 376 222.6C366.9 222.6 372.8 213.4 376 208.4Z" fill="#fff" stroke="#1a1a1a" stroke-width="0.9" stroke-linecap="round" stroke-linejoin="round" />
<line x1="244" y1="220.2" x2="244" y2="226" stroke="#1a1a1a" stroke-width="0.9" /><path d="M249.2 216C249.3 217.3 248.6 219 247.8 220.1C247.1 221.2 245.9 222.4 244.9 222.5C243.9 222.6 242.8 221.4 241.9 220.7C241 220 239.8 219.2 239.5 218.1C239.1 217 239.3 215.1 239.6 214C240 212.8 240.9 211.8 241.8 211.1C242.7 210.4 243.9 209.4 244.9 209.6C245.8 209.8 246.7 211.2 247.5 212.3C248.2 213.4 249.2 214.7 249.2 216Z" fill="#fff" stroke="#1a1a1a" stroke-width="0.9" stroke-linecap="round" stroke-linejoin="round" />
<line x1="324" y1="223" x2="324" y2="229.3" stroke="#1a1a1a" stroke-width="0.9" /><path d="M328.8 217.5C328.7 219.2 328.4 220.8 327.7 222.1C327.1 223.4 326 225.1 324.9 225.4C323.9 225.7 322.5 224.8 321.5 224C320.4 223.1 319 222 318.5 220.4C318 218.9 318.2 216.4 318.7 214.6C319.1 212.9 320.1 210.9 321.1 210.1C322.1 209.4 323.7 209.7 324.9 210C326.1 210.3 327.8 210.8 328.4 212.1C329 213.3 328.9 215.8 328.8 217.5Z" fill="#fff" stroke="#1a1a1a" stroke-width="0.9" stroke-linecap="round" stroke-linejoin="round" />
<line x1="311.7" y1="223.1" x2="311.7" y2="229.1" stroke="#1a1a1a" stroke-width="0.9" /><path d="M317.9 218.2C317.9 219.6 317.6 221.6 316.7 222.6C315.8 223.7 314.2 224 312.8 224.4C311.3 224.8 309.2 225.6 308.1 225C307 224.3 306.6 221.9 306.1 220.4C305.7 218.8 305 217.1 305.3 215.7C305.7 214.3 307.1 212.8 308.4 212C309.7 211.2 311.6 210.6 312.9 210.9C314.3 211.2 315.8 212.6 316.6 213.8C317.5 215 317.9 216.7 317.9 218.2Z" fill="#fff" stroke="#1a1a1a" stroke-width="0.9" stroke-linecap="round" stroke-linejoin="round" />
<line x1="410" y1="224.2" x2="410" y2="230" stroke="#1a1a1a" stroke-width="0.9" /><path d="M410 213C413.2 217.6 419.1 226 410 226C400.9 226 406.8 217.6 410 213Z" fill="#fff" stroke="#1a1a1a" stroke-width="0.9" stroke-linecap="round" stroke-linejoin="round" />
<line x1="411" y1="225.2" x2="411" y2="231" stroke="#1a1a1a" stroke-width="0.9" /><path d="M411 214C413.9 218.6 419.3 227 411 227C402.7 227 408.1 218.6 411 214Z" fill="#fff" stroke="#1a1a1a" stroke-width="0.9" stroke-linecap="round" stroke-linejoin="round" />
<line x1="475" y1="224.8" x2="475" y2="230.4" stroke="#1a1a1a" stroke-width="0.9" /><path d="M475 214.6C477.4 218.8 481.6 226.4 475 226.4C468.4 226.4 472.6 218.8 475 214.6Z" fill="#fff" stroke="#1a1a1a" stroke-width="0.9" stroke-linecap="round" stroke-linejoin="round" />
<line x1="430.9" y1="226.8" x2="430.9" y2="232.9" stroke="#1a1a1a" stroke-width="0.9" /><path d="M437.4 221.9C437.3 223.3 436.3 224.9 435.4 226C434.5 227 433.2 227.8 431.9 228.1C430.7 228.4 429.2 228.3 427.9 227.7C426.6 227.1 425 225.9 424.4 224.5C423.8 223.1 423.7 220.7 424.3 219.3C424.9 217.9 426.6 216.8 427.9 216.2C429.2 215.5 430.7 215 432 215.2C433.4 215.4 434.9 216.4 435.8 217.5C436.7 218.7 437.4 220.5 437.4 221.9Z" fill="#fff" stroke="#1a1a1a" stroke-width="0.9" stroke-linecap="round" stroke-linejoin="round" />
<line x1="452.5" y1="229.5" x2="452.5" y2="235.8" stroke="#1a1a1a" stroke-width="0.9" /><path d="M457.7 224C457.6 225.6 456.8 227.1 456.1 228.4C455.4 229.8 454.5 231.8 453.5 232.2C452.4 232.6 450.8 232 449.7 231C448.7 230.1 447.7 228.4 447.3 226.8C446.9 225.2 447.1 223 447.5 221.4C447.9 219.7 448.7 217.9 449.7 217C450.7 216 452.3 215.3 453.5 215.6C454.7 215.9 456.1 217.3 456.8 218.7C457.5 220.1 457.8 222.4 457.7 224Z" fill="#fff" stroke="#1a1a1a" stroke-width="0.9" stroke-linecap="round" stroke-linejoin="round" />
<line x1="297.5" y1="229.2" x2="297.5" y2="235" stroke="#1a1a1a" stroke-width="0.9" /><path d="M297.5 218C300.2 222.6 304.9 231 297.5 231C290.1 231 294.8 222.6 297.5 218Z" fill="#fff" stroke="#1a1a1a" stroke-width="0.9" stroke-linecap="round" stroke-linejoin="round" />
<line x1="419.3" y1="232.4" x2="419.3" y2="239" stroke="#1a1a1a" stroke-width="0.9" /><path d="M425.2 226.5C425.1 228.3 424.5 230.1 423.7 231.6C422.9 233.1 421.6 235.3 420.4 235.5C419.2 235.8 417.6 234.2 416.4 233.1C415.3 232.1 414 231 413.4 229.4C412.9 227.8 412.9 225.3 413.3 223.6C413.8 221.8 414.9 219.7 416.1 219C417.2 218.2 418.9 218.6 420.2 218.9C421.6 219.2 423.4 219.6 424.2 220.9C425 222.2 425.3 224.7 425.2 226.5Z" fill="#fff" stroke="#1a1a1a" stroke-width="0.9" stroke-linecap="round" stroke-linejoin="round" />
<line x1="355" y1="232.2" x2="355" y2="238" stroke="#1a1a1a" stroke-width="0.9" /><path d="M359.8 228C359.8 229.4 360.1 231.2 359.5 232.3C358.9 233.3 357.1 234.1 356 234.2C354.8 234.4 353.5 233.6 352.5 232.9C351.5 232.2 350.4 231.1 350.1 230C349.8 228.9 350.2 227.3 350.6 226.2C351 225.1 351.7 224 352.6 223.3C353.5 222.5 354.8 221.8 356 221.9C357.1 222 358.7 222.9 359.3 223.9C360 224.9 359.7 226.6 359.8 228Z" fill="#fff" stroke="#1a1a1a" stroke-width="0.9" stroke-linecap="round" stroke-linejoin="round" />
<line x1="390.6" y1="233.5" x2="390.6" y2="239.6" stroke="#1a1a1a" stroke-width="0.9" /><path d="M390.6 220.5C394 225.8 400.1 235.6 390.6 235.6C381.2 235.6 387.3 225.8 390.6 220.5Z" fill="#fff" stroke="#1a1a1a" stroke-width="0.9" stroke-linecap="round" stroke-linejoin="round" />
<line x1="415.4" y1="234" x2="415.4" y2="240" stroke="#1a1a1a" stroke-width="0.9" /><path d="M415.4 221.4C418.4 226.5 423.6 236 415.4 236C407.2 236 412.5 226.5 415.4 221.4Z" fill="#fff" stroke="#1a1a1a" stroke-width="0.9" stroke-linecap="round" stroke-linejoin="round" />
<line x1="460" y1="234.6" x2="460" y2="240.6" stroke="#1a1a1a" stroke-width="0.9" /><path d="M465.2 230C465.2 231.5 464.9 233.3 464.1 234.3C463.4 235.4 462.1 236 460.9 236.3C459.7 236.6 458 236.9 457.1 236.2C456.2 235.5 455.8 233.5 455.4 232.1C455.1 230.7 454.8 229.1 455.1 227.8C455.4 226.4 456.2 224.6 457.2 223.9C458.1 223.2 459.7 223.1 460.9 223.3C462.2 223.6 463.8 224.2 464.5 225.3C465.2 226.4 465.3 228.5 465.2 230Z" fill="#fff" stroke="#1a1a1a" stroke-width="0.9" stroke-linecap="round" stroke-linejoin="round" />
<line x1="299.2" y1="237" x2="299.2" y2="242.9" stroke="#1a1a1a" stroke-width="0.9" /><path d="M299.2 225.6C302.6 230.3 308.6 238.9 299.2 238.9C289.8 238.9 295.9 230.3 299.2 225.6Z" fill="#fff" stroke="#1a1a1a" stroke-width="0.9" stroke-linecap="round" stroke-linejoin="round" />
<line x1="327" y1="237.8" x2="327" y2="243.7" stroke="#1a1a1a" stroke-width="0.9" /><path d="M334.6 233.4C334.6 234.6 332.9 236 331.8 237C330.8 238 329.5 239.2 328.2 239.4C326.9 239.6 325.3 238.9 323.9 238.2C322.6 237.6 320.7 236.8 320.2 235.7C319.8 234.5 320.4 232.7 321 231.5C321.6 230.2 322.5 229.1 323.7 228.3C324.9 227.5 327 226.5 328.4 226.8C329.7 227 330.7 228.7 331.8 229.9C332.8 231 334.6 232.2 334.6 233.4Z" fill="#fff" stroke="#1a1a1a" stroke-width="0.9" stroke-linecap="round" stroke-linejoin="round" />
<line x1="424" y1="241.9" x2="424" y2="248.4" stroke="#1a1a1a" stroke-width="0.9" /><path d="M431.2 236C431 237.7 429.4 239.6 428.4 240.8C427.4 242 426.3 242.7 425 243.2C423.6 243.8 421.5 244.9 420.4 244.2C419.2 243.4 418.5 240.5 418.2 238.7C417.8 236.9 417.9 235 418.4 233.3C418.8 231.7 419.6 229.7 420.8 228.7C421.9 227.8 423.7 227.4 425.1 227.6C426.6 227.9 428.3 228.9 429.3 230.3C430.3 231.7 431.3 234.3 431.2 236Z" fill="#fff" stroke="#1a1a1a" stroke-width="0.9" stroke-linecap="round" stroke-linejoin="round" />
<line x1="424" y1="244.9" x2="424" y2="251.4" stroke="#1a1a1a" stroke-width="0.9" /><path d="M424 229.6C427.5 235.6 433.9 247.4 424 247.4C414.1 247.4 420.5 235.6 424 229.6Z" fill="#fff" stroke="#1a1a1a" stroke-width="0.9" stroke-linecap="round" stroke-linejoin="round" />
<line x1="277.5" y1="244.5" x2="277.5" y2="250.8" stroke="#1a1a1a" stroke-width="0.9" /><path d="M284.8 239C284.8 240.8 285.3 243.2 284.4 244.4C283.4 245.7 280.6 246.2 278.9 246.3C277.1 246.4 275.3 245.8 273.9 244.9C272.5 244.1 271.3 242.8 270.6 241.4C269.9 239.9 269.3 237.9 269.7 236.3C270.2 234.8 271.7 233 273.2 232C274.8 231.1 277.2 230.4 279 230.7C280.9 231 283.4 232.2 284.3 233.6C285.3 235 284.8 237.2 284.8 239Z" fill="#fff" stroke="#1a1a1a" stroke-width="0.9" stroke-linecap="round" stroke-linejoin="round" />
<line x1="445" y1="244.2" x2="445" y2="250" stroke="#1a1a1a" stroke-width="0.9" /><path d="M445 233C447.7 237.6 452.4 246 445 246C437.6 246 442.3 237.6 445 233Z" fill="#fff" stroke="#1a1a1a" stroke-width="0.9" stroke-linecap="round" stroke-linejoin="round" />
<line x1="347.5" y1="247.5" x2="347.5" y2="253.3" stroke="#1a1a1a" stroke-width="0.9" /><path d="M347.5 236.2C349.9 240.8 354.3 249.3 347.5 249.3C340.7 249.3 345 240.8 347.5 236.2Z" fill="#fff" stroke="#1a1a1a" stroke-width="0.9" stroke-linecap="round" stroke-linejoin="round" />
<line x1="486.8" y1="248.3" x2="486.8" y2="254.1" stroke="#1a1a1a" stroke-width="0.9" /><path d="M486.8 236.7C489.2 241.4 493.5 250.1 486.8 250.1C480.1 250.1 484.4 241.4 486.8 236.7Z" fill="#fff" stroke="#1a1a1a" stroke-width="0.9" stroke-linecap="round" stroke-linejoin="round" />
<line x1="310.9" y1="248.7" x2="310.9" y2="254.6" stroke="#1a1a1a" stroke-width="0.9" /><path d="M310.9 236.6C313.6 241.5 318.5 250.6 310.9 250.6C303.4 250.6 308.2 241.5 310.9 236.6Z" fill="#fff" stroke="#1a1a1a" stroke-width="0.9" stroke-linecap="round" stroke-linejoin="round" />
<line x1="502.3" y1="250.5" x2="502.3" y2="256.7" stroke="#1a1a1a" stroke-width="0.9" /><path d="M502.3 236.9C504.7 242.4 509.1 252.7 502.3 252.7C495.5 252.7 499.9 242.4 502.3 236.9Z" fill="#fff" stroke="#1a1a1a" stroke-width="0.9" stroke-linecap="round" stroke-linejoin="round" />
<line x1="372.5" y1="251.8" x2="372.5" y2="258.3" stroke="#1a1a1a" stroke-width="0.9" /><path d="M372.5 236.5C375.9 242.5 382 254.3 372.5 254.3C363 254.3 369.1 242.5 372.5 236.5Z" fill="#fff" stroke="#1a1a1a" stroke-width="0.9" stroke-linecap="round" stroke-linejoin="round" />
<line x1="385" y1="253" x2="385" y2="259.3" stroke="#1a1a1a" stroke-width="0.9" /><path d="M391.5 247.5C391.6 249.1 391 251.4 390.1 252.6C389.2 253.8 387.4 254.7 386.1 254.9C384.8 255.1 383.2 254.4 382.1 253.6C380.9 252.8 379.6 251.5 379.1 250.1C378.7 248.6 378.9 246.5 379.4 245.1C379.9 243.6 381 242.1 382.1 241.4C383.2 240.6 384.8 240.2 386 240.5C387.3 240.8 388.5 241.9 389.4 243.1C390.3 244.2 391.4 245.9 391.5 247.5Z" fill="#fff" stroke="#1a1a1a" stroke-width="0.9" stroke-linecap="round" stroke-linejoin="round" />
<line x1="291.9" y1="254.3" x2="291.9" y2="260.8" stroke="#1a1a1a" stroke-width="0.9" /><path d="M296.4 248.3C296.3 250.2 296.1 252.1 295.5 253.5C294.9 254.8 293.7 256.3 292.8 256.5C291.8 256.8 290.7 255.7 289.8 254.8C288.9 253.9 287.8 252.8 287.3 251.2C286.8 249.6 286.4 246.7 286.8 245C287.2 243.4 288.5 242 289.5 241C290.5 240.1 291.8 239 292.9 239.2C294 239.4 295.5 240.7 296.1 242.2C296.7 243.7 296.5 246.4 296.4 248.3Z" fill="#fff" stroke="#1a1a1a" stroke-width="0.9" stroke-linecap="round" stroke-linejoin="round" />
<line x1="512.5" y1="258.2" x2="512.5" y2="264" stroke="#1a1a1a" stroke-width="0.9" /><path d="M519.6 254C519.8 255.3 519.6 257.3 518.6 258.3C517.6 259.3 515.4 259.7 513.7 260C512.1 260.2 509.8 260.4 508.6 259.8C507.4 259.1 506.9 257.2 506.5 255.9C506 254.6 505.4 253 505.9 252C506.3 250.9 508 249.8 509.3 249.3C510.6 248.7 512.2 248.6 513.6 248.8C514.9 249 516.4 249.7 517.4 250.5C518.4 251.4 519.4 252.7 519.6 254Z" fill="#fff" stroke="#1a1a1a" stroke-width="0.9" stroke-linecap="round" stroke-linejoin="round" />
<line x1="307.5" y1="259.6" x2="307.5" y2="265.7" stroke="#1a1a1a" stroke-width="0.9" /><path d="M307.5 246.4C310.8 251.7 316.7 261.7 307.5 261.7C298.4 261.7 304.3 251.7 307.5 246.4Z" fill="#fff" stroke="#1a1a1a" stroke-width="0.9" stroke-linecap="round" stroke-linejoin="round" />
<line x1="459" y1="260" x2="459" y2="266.2" stroke="#1a1a1a" stroke-width="0.9" /><path d="M459 246.8C461.9 252.1 467.3 262.2 459 262.2C450.7 262.2 456.1 252.1 459 246.8Z" fill="#fff" stroke="#1a1a1a" stroke-width="0.9" stroke-linecap="round" stroke-linejoin="round" />
<line x1="310.1" y1="261.9" x2="310.1" y2="268.2" stroke="#1a1a1a" stroke-width="0.9" /><path d="M310.1 248C313.4 253.6 319.3 264.2 310.1 264.2C300.9 264.2 306.9 253.6 310.1 248Z" fill="#fff" stroke="#1a1a1a" stroke-width="0.9" stroke-linecap="round" stroke-linejoin="round" />
<line x1="510.6" y1="261.2" x2="510.6" y2="267.1" stroke="#1a1a1a" stroke-width="0.9" /><path d="M510.6 249.7C513.7 254.4 519.2 263.1 510.6 263.1C502.1 263.1 507.6 254.4 510.6 249.7Z" fill="#fff" stroke="#1a1a1a" stroke-width="0.9" stroke-linecap="round" stroke-linejoin="round" />
<line x1="419" y1="263" x2="419" y2="269.3" stroke="#1a1a1a" stroke-width="0.9" /><path d="M419 248.7C422.8 254.4 429.7 265.3 419 265.3C408.3 265.3 415.2 254.4 419 248.7Z" fill="#fff" stroke="#1a1a1a" stroke-width="0.9" stroke-linecap="round" stroke-linejoin="round" />
<line x1="311.6" y1="263" x2="311.6" y2="268.8" stroke="#1a1a1a" stroke-width="0.9" /><path d="M317.6 258.7C317.7 260.1 318 262 317.2 263.1C316.4 264.2 314.4 265.2 312.9 265.3C311.4 265.5 309.7 264.7 308.4 263.9C307.1 263.2 305.7 262.1 305.3 260.9C304.9 259.7 305.4 258 306 256.8C306.5 255.6 307.5 254.4 308.6 253.8C309.7 253.2 311.3 252.9 312.7 253C314.1 253.2 316 253.7 316.9 254.6C317.7 255.6 317.6 257.3 317.6 258.7Z" fill="#fff" stroke="#1a1a1a" stroke-width="0.9" stroke-linecap="round" stroke-linejoin="round" />
<line x1="403" y1="262.8" x2="403" y2="268.4" stroke="#1a1a1a" stroke-width="0.9" /><path d="M403 252.6C405.7 256.8 410.4 264.4 403 264.4C395.6 264.4 400.3 256.8 403 252.6Z" fill="#fff" stroke="#1a1a1a" stroke-width="0.9" stroke-linecap="round" stroke-linejoin="round" />
<line x1="530" y1="265.2" x2="530" y2="271" stroke="#1a1a1a" stroke-width="0.9" /><path d="M536.4 261C536.4 262.4 536.1 264 535.2 265.1C534.4 266.1 532.6 267.1 531.2 267.3C529.8 267.4 528.1 266.6 527 265.8C525.9 265.1 525.1 264 524.5 262.8C524 261.7 523.3 260 523.7 258.9C524.2 257.8 525.8 256.9 527.1 256.3C528.3 255.7 529.7 255.2 531.1 255.3C532.5 255.3 534.6 255.8 535.5 256.8C536.3 257.7 536.5 259.6 536.4 261Z" fill="#fff" stroke="#1a1a1a" stroke-width="0.9" stroke-linecap="round" stroke-linejoin="round" />
<line x1="328" y1="266.6" x2="328" y2="272.6" stroke="#1a1a1a" stroke-width="0.9" /><path d="M334.4 262C334.4 263.5 333.7 265.5 332.8 266.5C331.9 267.5 330.2 267.9 329 268.1C327.7 268.2 326.3 268.1 325.2 267.5C324 266.9 322.7 265.7 322.2 264.4C321.6 263.1 321.5 260.8 322 259.6C322.6 258.3 324.3 257.6 325.4 257C326.6 256.4 327.7 256 328.9 256C330.2 256.1 332 256.3 333 257.3C333.9 258.3 334.5 260.5 334.4 262Z" fill="#fff" stroke="#1a1a1a" stroke-width="0.9" stroke-linecap="round" stroke-linejoin="round" />
<line x1="370" y1="265.8" x2="370" y2="271.4" stroke="#1a1a1a" stroke-width="0.9" /><path d="M375.7 262C375.7 263.2 375.6 264.7 374.8 265.7C374.1 266.7 372.4 267.8 371.1 267.9C369.9 268 368.4 267.1 367.2 266.5C366 265.8 364.5 265 364.1 264C363.7 262.9 364.1 261.3 364.7 260.2C365.2 259.2 366.2 258.3 367.3 257.7C368.3 257.2 369.7 256.8 371 256.9C372.2 257 374 257.5 374.8 258.3C375.6 259.2 375.7 260.8 375.7 262Z" fill="#fff" stroke="#1a1a1a" stroke-width="0.9" stroke-linecap="round" stroke-linejoin="round" />
<line x1="483" y1="265.8" x2="483" y2="271.4" stroke="#1a1a1a" stroke-width="0.9" /><path d="M488.8 262C488.7 263.2 487.4 264.1 486.6 265.1C485.8 266 485.1 267.6 484 267.9C482.9 268.2 481 267.8 480.1 267.1C479.2 266.3 479 264.8 478.6 263.6C478.1 262.5 477.4 261.1 477.6 260C477.9 258.9 479.1 257.5 480.1 257C481.2 256.5 482.6 256.9 483.9 257.1C485.1 257.3 486.7 257.3 487.5 258.1C488.4 258.9 489 260.8 488.8 262Z" fill="#fff" stroke="#1a1a1a" stroke-width="0.9" stroke-linecap="round" stroke-linejoin="round" />
<line x1="400.4" y1="268.3" x2="400.4" y2="275" stroke="#1a1a1a" stroke-width="0.9" /><path d="M400.4 252.3C403 258.6 407.6 271 400.4 271C393.3 271 397.9 258.6 400.4 252.3Z" fill="#fff" stroke="#1a1a1a" stroke-width="0.9" stroke-linecap="round" stroke-linejoin="round" />
<line x1="539" y1="269.8" x2="539" y2="275.4" stroke="#1a1a1a" stroke-width="0.9" /><path d="M539 259.6C541.4 263.8 545.6 271.4 539 271.4C532.4 271.4 536.6 263.8 539 259.6Z" fill="#fff" stroke="#1a1a1a" stroke-width="0.9" stroke-linecap="round" stroke-linejoin="round" />
<line x1="404.2" y1="272.1" x2="404.2" y2="278.3" stroke="#1a1a1a" stroke-width="0.9" /><path d="M404.2 258.5C407.2 263.9 412.6 274.3 404.2 274.3C395.8 274.3 401.2 263.9 404.2 258.5Z" fill="#fff" stroke="#1a1a1a" stroke-width="0.9" stroke-linecap="round" stroke-linejoin="round" />
<line x1="448.2" y1="273.5" x2="448.2" y2="280.2" stroke="#1a1a1a" stroke-width="0.9" /><path d="M454.7 267.4C454.8 269.3 454.6 272.1 453.7 273.5C452.8 274.8 450.8 275.2 449.3 275.5C447.8 275.7 446.1 275.8 444.9 275C443.7 274.1 442.8 272 442.3 270.2C441.8 268.4 441.4 265.9 441.9 264.3C442.4 262.7 444 261.5 445.2 260.5C446.5 259.6 448 258.6 449.4 258.9C450.7 259.1 452.2 260.5 453.1 262C454 263.4 454.6 265.4 454.7 267.4Z" fill="#fff" stroke="#1a1a1a" stroke-width="0.9" stroke-linecap="round" stroke-linejoin="round" />
<line x1="379.9" y1="276.2" x2="379.9" y2="282.6" stroke="#1a1a1a" stroke-width="0.9" /><path d="M385.5 270.6C385.6 272.4 385.8 275 385 276.3C384.3 277.7 382.3 278.3 381 278.5C379.6 278.7 378.1 278.2 377 277.4C375.9 276.5 374.5 275 374.1 273.4C373.7 271.9 374.2 269.6 374.8 268.1C375.3 266.6 376.1 265.1 377.2 264.2C378.2 263.4 379.8 262.6 380.9 262.9C382.1 263.2 383.5 264.5 384.2 265.8C385 267.1 385.4 268.9 385.5 270.6Z" fill="#fff" stroke="#1a1a1a" stroke-width="0.9" stroke-linecap="round" stroke-linejoin="round" />
<line x1="490" y1="275.2" x2="490" y2="281" stroke="#1a1a1a" stroke-width="0.9" /><path d="M497.4 271C497.4 272.3 496.6 273.9 495.6 275C494.6 276 492.9 276.9 491.3 277.2C489.7 277.5 487.5 277.4 486.1 276.7C484.7 276 483.3 274.4 482.9 273.2C482.6 271.9 483.3 270.3 483.9 269.1C484.5 268 485.5 266.8 486.7 266.2C487.9 265.5 489.8 265 491.2 265.2C492.6 265.3 494.2 266.3 495.3 267.2C496.3 268.2 497.3 269.7 497.4 271Z" fill="#fff" stroke="#1a1a1a" stroke-width="0.9" stroke-linecap="round" stroke-linejoin="round" />
<line x1="323.3" y1="277.5" x2="323.3" y2="283.6" stroke="#1a1a1a" stroke-width="0.9" /><path d="M323.3 264.6C325.9 269.8 330.5 279.6 323.3 279.6C316.1 279.6 320.7 269.8 323.3 264.6Z" fill="#fff" stroke="#1a1a1a" stroke-width="0.9" stroke-linecap="round" stroke-linejoin="round" />
<line x1="429.4" y1="280.4" x2="429.4" y2="286.6" stroke="#1a1a1a" stroke-width="0.9" /><path d="M429.4 266.8C431.9 272.2 436.3 282.6 429.4 282.6C422.5 282.6 426.9 272.2 429.4 266.8Z" fill="#fff" stroke="#1a1a1a" stroke-width="0.9" stroke-linecap="round" stroke-linejoin="round" />
<line x1="487.4" y1="282.9" x2="487.4" y2="289.5" stroke="#1a1a1a" stroke-width="0.9" /><path d="M492.5 276.7C492.4 278.6 491.9 280.5 491.2 281.8C490.5 283.1 489.4 284 488.3 284.5C487.1 285 485.6 285.5 484.5 284.8C483.4 284 482.3 281.9 481.8 280C481.3 278.1 481.2 275.2 481.6 273.4C482.1 271.5 483.4 269.7 484.5 268.8C485.7 267.9 487.2 267.5 488.4 267.8C489.6 268.2 491.1 269.4 491.8 270.8C492.5 272.3 492.6 274.9 492.5 276.7Z" fill="#fff" stroke="#1a1a1a" stroke-width="0.9" stroke-linecap="round" stroke-linejoin="round" />
<line x1="444.1" y1="303.8" x2="444.1" y2="310.5" stroke="#1a1a1a" stroke-width="0.9" /><path d="M450.8 297.5C450.9 299.4 450.3 302.3 449.4 303.6C448.5 304.9 446.6 304.9 445.1 305.3C443.7 305.6 442 306.3 440.8 305.6C439.5 304.8 438.1 302.6 437.7 300.7C437.2 298.9 437.5 296.3 438.1 294.4C438.6 292.6 439.7 290.6 440.9 289.7C442.1 288.8 443.8 288.8 445.2 289.2C446.5 289.5 448.1 290.4 449 291.8C449.9 293.2 450.7 295.5 450.8 297.5Z" fill="#fff" stroke="#1a1a1a" stroke-width="0.9" stroke-linecap="round" stroke-linejoin="round" />
<line x1="474.4" y1="304.4" x2="474.4" y2="311" stroke="#1a1a1a" stroke-width="0.9" /><path d="M474.4 288.4C477.6 294.7 483.5 307 474.4 307C465.3 307 471.2 294.7 474.4 288.4Z" fill="#fff" stroke="#1a1a1a" stroke-width="0.9" stroke-linecap="round" stroke-linejoin="round" />
<path d="M208 143l0.7 -3.8l0.7 3.8l1.2 -4.8l1.2 4.8l1.1 -3.7l1.1 3.7l1.2 -4.1l1.2 4.1l0.7 -3.8l0.7 3.8l0.6 -5.7l0.6 5.7l1.3 -3.3l1.3 3.3l0.8 -5.1l0.8 5.1" fill="none" stroke="#1a1a1a" stroke-width="0.75" stroke-linecap="round" stroke-linejoin="round" />
<path d="M247 226l1 -2.8l1 2.8l1.3 -5.7l1.3 5.7l1 -4.7l1 4.7l0.8 -2.9l0.8 2.9l0.8 -4.8l0.8 4.8l0.8 -5.9l0.8 5.9l0.7 -2.8l0.7 2.8l0.7 -5.1l0.7 5.1l0.9 -3.9l0.9 3.9l0.8 -4.5l0.8 4.5" fill="none" stroke="#1a1a1a" stroke-width="0.75" stroke-linecap="round" stroke-linejoin="round" />
<path d="M255 232l0.7 -4.5l0.7 4.5l0.7 -4.9l0.7 4.9l1.1 -3.5l1.1 3.5l1.1 -4.3l1.1 4.3l0.6 -4.1l0.6 4.1l1.1 -4.1l1.1 4.1l1.3 -4.9l1.3 4.9l0.9 -2.9l0.9 2.9" fill="none" stroke="#1a1a1a" stroke-width="0.75" stroke-linecap="round" stroke-linejoin="round" />
<path d="M283 232l1.3 -3.8l1.3 3.8l1.1 -4.9l1.1 4.9l0.8 -2.3l0.8 2.3l1.1 -2.5l1.1 2.5l0.9 -5.6l0.9 5.6l1.3 -2.5l1.3 2.5l0.7 -2.9l0.7 2.9" fill="none" stroke="#1a1a1a" stroke-width="0.75" stroke-linecap="round" stroke-linejoin="round" />
<path d="M340 196l1.3 -5.5l1.3 5.5l1.1 -2.9l1.1 2.9l0.8 -4.9l0.8 4.9l1.2 -2.1l1.2 2.1l0.7 -5.6l0.7 5.6" fill="none" stroke="#1a1a1a" stroke-width="0.75" stroke-linecap="round" stroke-linejoin="round" />
<path d="M374 205l1.3 -3.4l1.3 3.4l1.2 -5.8l1.2 5.8l0.8 -5.1l0.8 5.1l0.9 -2.7l0.9 2.7l0.9 -5l0.9 5l0.7 -4.6l0.7 4.6l0.9 -2.7l0.9 2.7" fill="none" stroke="#1a1a1a" stroke-width="0.75" stroke-linecap="round" stroke-linejoin="round" />
<path d="M459 258l1.1 -5.6l1.1 5.6l0.6 -5.8l0.6 5.8l1.2 -2.2l1.2 2.2l1.2 -5.2l1.2 5.2l0.7 -5.9l0.7 5.9l0.9 -3.8l0.9 3.8l1.1 -4.8l1.1 4.8l1.2 -3.1l1.2 3.1l1 -2.5l1 2.5l0.8 -4l0.8 4" fill="none" stroke="#1a1a1a" stroke-width="0.75" stroke-linecap="round" stroke-linejoin="round" />
<path d="M515 274l0.8 -4.3l0.8 4.3l1.3 -4.6l1.3 4.6l1 -3.2l1 3.2l0.7 -6l0.7 6l1.2 -3l1.2 3l1 -4.8l1 4.8" fill="none" stroke="#1a1a1a" stroke-width="0.75" stroke-linecap="round" stroke-linejoin="round" />
<path d="M295 238l0.7 -5.3l0.7 5.3l1.3 -3.5l1.3 3.5l0.8 -2.8l0.8 2.8l0.7 -2.9l0.7 2.9l0.8 -5.4l0.8 5.4l0.7 -2.8l0.7 2.8l1.3 -5.7l1.3 5.7" fill="none" stroke="#1a1a1a" stroke-width="0.75" stroke-linecap="round" stroke-linejoin="round" />
<path d="M126 157l0.8 -3.8l0.8 3.8l1 -2.4l1 2.4l1 -5.8l1 5.8l1 -4.1l1 4.1l1.2 -3.8l1.2 3.8" fill="none" stroke="#1a1a1a" stroke-width="0.75" stroke-linecap="round" stroke-linejoin="round" />
<path d="M228 200l1.3 -3.6l1.3 3.6l1.2 -3l1.2 3l1 -3.1l1 3.1l1 -2.3l1 2.3l0.9 -3.3l0.9 3.3" fill="none" stroke="#1a1a1a" stroke-width="0.75" stroke-linecap="round" stroke-linejoin="round" />
<path d="M146 203l1.2 -2.9l1.2 2.9l1.3 -4l1.3 4l0.9 -4.5l0.9 4.5l0.7 -2.8l0.7 2.8" fill="none" stroke="#1a1a1a" stroke-width="0.75" stroke-linecap="round" stroke-linejoin="round" />
<path d="M420 275l1 -4.7l1 4.7l1.1 -4.8l1.1 4.8l1.3 -5l1.3 5l0.7 -2.9l0.7 2.9l0.9 -3.6l0.9 3.6l1.3 -4.9l1.3 4.9" fill="none" stroke="#1a1a1a" stroke-width="0.75" stroke-linecap="round" stroke-linejoin="round" /></g></g>
<polygon points="210,601 253.8,587.5 276,598.8 231,614" fill="url(#hatch)" stroke="#d98a92" stroke-width="0.5" stroke-linejoin="round" />
<polygon points="226,646 240,630 258,624 287,611 326,598.5 343,608 362,626 330,636 300,648 270,663 250,660" fill="url(#hatch)" stroke="#d98a92" stroke-width="0.5" stroke-linejoin="round" />
<polygon points="262,668 274,663 300,655 359.8,634.4 382,645 432,648 380,668 340,682 292,700" fill="url(#hatch)" stroke="#d98a92" stroke-width="0.5" stroke-linejoin="round" />
<polygon points="361.7,677 400,660 412,653 440,655 497,702.3 438,747" fill="url(#hatch)" stroke="#d98a92" stroke-width="0.5" stroke-linejoin="round" />
<clipPath id="pinkclip"><polygon points="210,601 253.8,587.5 276,598.8 231,614"/><polygon points="226,646 240,630 258,624 287,611 326,598.5 343,608 362,626 330,636 300,648 270,663 250,660"/><polygon points="262,668 274,663 300,655 359.8,634.4 382,645 432,648 380,668 340,682 292,700"/><polygon points="361.7,677 400,660 412,653 440,655 497,702.3 438,747"/></clipPath>
<g clip-path="url(#pinkclip)"><path d="M235.4 595l7.4 -2.9l4 3l-7.4 2.9ZM258.8 608.7l9.6 -3.8l4 3l-9.6 3.8ZM252.2 603.6l6.5 -2.6l3.2 2.4l-6.5 2.6ZM252 607.5l9.8 -3.9l5.7 4.3l-9.8 3.9ZM257.2 593.5l7.5 -3l5.9 4.4l-7.5 3ZM289.6 629.5l5.3 -2.1l5.8 4.4l-5.3 2.1ZM297.4 629.9l8.8 -3.5l3.6 2.7l-8.8 3.5ZM281.6 625.7l9.6 -3.8l5.4 4.1l-9.6 3.8ZM279.4 628.8l6.4 -2.5l4.3 3.3l-6.4 2.5ZM304.7 626.4l5.1 -2.1l3.4 2.6l-5.1 2.1ZM292.2 619.5l8.2 -3.3l5.7 4.2l-8.2 3.3ZM271.5 639.6l5.7 -2.3l2.9 2.2l-5.7 2.3ZM250.2 646.7l6.5 -2.6l2.7 2l-6.5 2.6ZM278.4 634.9l8.6 -3.5l2.5 1.9l-8.6 3.5ZM248 640.8l9.2 -3.7l4.1 3l-9.2 3.7ZM332.2 662.8l7.1 -2.8l5.8 4.3l-7.1 2.8ZM319.3 652l7.5 -3l3.9 2.9l-7.5 3ZM312.8 654.1l9.3 -3.7l3 2.2l-9.3 3.7ZM319 648.8l7.9 -3.2l4.7 3.6l-7.9 3.2ZM322.4 655.6l4.8 -1.9l4.5 3.4l-4.8 1.9ZM315.1 657.9l8.3 -3.3l5.7 4.3l-8.3 3.3ZM333.3 656.8l9.2 -3.7l3.1 2.3l-9.2 3.7ZM336.4 662.6l9.1 -3.6l3.5 2.7l-9.1 3.6ZM343.8 661.5l4.1 -1.6l5.6 4.2l-4.1 1.6ZM347.4 667.2l5.9 -2.4l3.7 2.7l-5.9 2.4ZM342.9 661.9l8.1 -3.2l5.7 4.3l-8.1 3.2ZM355.9 666.7l4.7 -1.9l5 3.8l-4.7 1.9ZM311.8 677.8l8.5 -3.4l5.9 4.4l-8.5 3.4ZM305.9 679.8l6 -2.4l5.5 4.1l-6 2.4ZM296.8 685.5l8.3 -3.3l5.8 4.3l-8.3 3.3ZM310.5 676.6l4.9 -1.9l3.5 2.6l-4.9 1.9ZM406.3 684.4l4.2 -1.7l5.2 3.9l-4.2 1.7ZM407.4 691.8l5.1 -2.1l5.8 4.3l-5.1 2.1ZM424.2 684.7l7.7 -3.1l3.8 2.8l-7.7 3.1ZM415.4 694.7l5.6 -2.3l3.9 2.9l-5.6 2.3ZM412.1 690.3l4 -1.6l4.3 3.2l-4 1.6ZM423.3 685l8 -3.2l3.9 2.9l-8 3.2ZM463.4 713l6.8 -2.7l3.7 2.7l-6.8 2.7ZM444.6 718.3l6.1 -2.4l5.5 4.2l-6.1 2.4ZM439.7 717.1l4.8 -1.9l5.3 4l-4.8 1.9ZM434.3 712.7l9.8 -3.9l4.7 3.5l-9.8 3.9ZM464.7 715l8.6 -3.5l3.6 2.7l-8.6 3.5ZM455.7 713.2l8.4 -3.4l3 2.2l-8.4 3.4ZM449.3 721.5l4.5 -1.8l3.1 2.3l-4.5 1.8ZM443.4 728.8l7.7 -3.1l4.4 3.3l-7.7 3.1ZM435.6 722.1l9 -3.6l5.4 4.1l-9 3.6ZM445.4 737.2l7.4 -3l3.3 2.4l-7.4 3ZM438.5 735.3l7.4 -3l2.5 1.9l-7.4 3ZM438.8 727.2l7 -2.8l2.6 1.9l-7 2.8ZM459.7 695.3l6.7 -2.7l5.9 4.4l-6.7 2.7ZM457.6 695.2l8.2 -3.3l2.7 2l-8.2 3.3ZM453.1 705.3l5.9 -2.4l6 4.5l-5.9 2.4ZM467.9 705.4l5.4 -2.2l4.7 3.5l-5.4 2.2ZM398.3 678.7l5.2 -2.1l2.6 2l-5.2 2.1ZM410.8 675.6l5.8 -2.3l4.8 3.6l-5.8 2.3ZM381.3 670.6l9.1 -3.6l3.3 2.5l-9.1 3.6ZM409.4 676.6l5.1 -2l5.5 4.1l-5.1 2ZM412.7 704l8.1 -3.2l3.5 2.6l-8.1 3.2ZM398.1 717l7.7 -3.1l2.8 2.1l-7.7 3.1ZM398.6 715.5l8.2 -3.3l3.2 2.4l-8.2 3.3ZM410.4 717.6l7.3 -2.9l2.7 2l-7.3 2.9ZM407 712l8.2 -3.3l5 3.7l-8.2 3.3Z" fill="none" stroke="#c0808a" stroke-width="0.5" stroke-linecap="round" stroke-linejoin="round" /></g>
<path d="M195 675C188.7 669.8 197.5 667.3 202 666C206.5 664.7 215 665.7 222 667C229 668.3 236.3 670.5 244 674C251.7 677.5 261.2 683 268 688C274.8 693 280.7 698.9 285 704C289.3 709.1 295.5 716.8 294 718.5C292.5 720.2 285 717.6 276 714C267 710.4 253.5 703.5 240 697C226.5 690.5 201.3 680.2 195 675Z" fill="#f6a21d" stroke="#b8700c" stroke-width="0.6" stroke-linecap="round" stroke-linejoin="round" />
<polygon points="228,562 283,560 283,567 262,572 240,577 232,575" fill="#fff" stroke="none" stroke-width="1" stroke-linejoin="round" />
<polygon points="257,572 300,590 324,597 352,597 417,610 414,613.5 352,629 342,618 326,614 300,602 276,592" fill="#fff" stroke="none" stroke-width="1" stroke-linejoin="round" />
<polygon points="380,630 440,650 472,663 476,676 525,699 520,714 470,692 430,668 384,642" fill="#fff" stroke="none" stroke-width="1" stroke-linejoin="round" />
<polygon points="237.5,573.8 257.5,570 276,580 256,582.8" fill="#f6a21d" stroke="#b8700c" stroke-width="0.6" stroke-linejoin="round" />
<polygon points="341.5,617.5 365,609.7 401.5,620 380.6,638.3 370,634.4 359.8,625.3 344,623" fill="#f6a21d" stroke="#b8700c" stroke-width="0.6" stroke-linejoin="round" />
<path d="M171 690C175.8 686.3 191.8 674.2 200 668C208.2 661.8 214.6 658.4 220 652.5C225.4 646.6 229.2 637.2 232.5 632.5C235.8 627.8 235.1 626.6 240 624C244.9 621.4 252 620 262 617C272 614 289.3 609.2 300 606C310.7 602.8 321.7 599.3 326 598" fill="none" stroke="#b8700c" stroke-width="3.5" stroke-linecap="round" stroke-linejoin="round" /><path d="M171 690C175.8 686.3 191.8 674.2 200 668C208.2 661.8 214.6 658.4 220 652.5C225.4 646.6 229.2 637.2 232.5 632.5C235.8 627.8 235.1 626.6 240 624C244.9 621.4 252 620 262 617C272 614 289.3 609.2 300 606C310.7 602.8 321.7 599.3 326 598" fill="none" stroke="#f6a21d" stroke-width="2.5" stroke-linecap="round" stroke-linejoin="round" />
<path d="M201 689.5C210.8 685.6 243.5 673 260 666C276.5 659 284.7 654.3 300 647.5C315.3 640.7 341.2 629.2 352 625C362.8 620.8 355.9 625.3 365 622.5C374.1 619.7 399.8 610.8 406.7 608.4" fill="none" stroke="#b8700c" stroke-width="3.5" stroke-linecap="round" stroke-linejoin="round" /><path d="M201 689.5C210.8 685.6 243.5 673 260 666C276.5 659 284.7 654.3 300 647.5C315.3 640.7 341.2 629.2 352 625C362.8 620.8 355.9 625.3 365 622.5C374.1 619.7 399.8 610.8 406.7 608.4" fill="none" stroke="#f6a21d" stroke-width="2.5" stroke-linecap="round" stroke-linejoin="round" />
<path d="M246 719C253.3 715.4 274.4 704.1 290 697.5C305.6 690.9 323 685 339.5 679.5C356 674 374.2 669.8 389 664.6C403.8 659.4 419 652.4 428.5 648.5C438 644.6 443.1 642.2 446 641" fill="none" stroke="#b8700c" stroke-width="3.5" stroke-linecap="round" stroke-linejoin="round" /><path d="M246 719C253.3 715.4 274.4 704.1 290 697.5C305.6 690.9 323 685 339.5 679.5C356 674 374.2 669.8 389 664.6C403.8 659.4 419 652.4 428.5 648.5C438 644.6 443.1 642.2 446 641" fill="none" stroke="#f6a21d" stroke-width="2.5" stroke-linecap="round" stroke-linejoin="round" />
<path d="M302.4 760C310.7 755.5 335.9 741.8 352 732.7C368.1 723.6 384.3 714.1 399 705.5C413.7 696.9 427.3 688.6 440 681C452.7 673.4 469.2 663.5 475 660" fill="none" stroke="#b8700c" stroke-width="3.5" stroke-linecap="round" stroke-linejoin="round" /><path d="M302.4 760C310.7 755.5 335.9 741.8 352 732.7C368.1 723.6 384.3 714.1 399 705.5C413.7 696.9 427.3 688.6 440 681C452.7 673.4 469.2 663.5 475 660" fill="none" stroke="#f6a21d" stroke-width="2.5" stroke-linecap="round" stroke-linejoin="round" />
<path d="M170.4 687.2L168.6 691.8L173.6 691.3" fill="none" stroke="#333" stroke-width="1.1" stroke-linecap="round" stroke-linejoin="round" />
<path d="M201.2 686.6L198.2 690.6L203.1 691.5" fill="none" stroke="#333" stroke-width="1.1" stroke-linecap="round" stroke-linejoin="round" />
<path d="M246 716.1L243.3 720.3L248.3 720.8" fill="none" stroke="#333" stroke-width="1.1" stroke-linecap="round" stroke-linejoin="round" />
<path d="M302.2 757.1L299.8 761.4L304.8 761.7" fill="none" stroke="#333" stroke-width="1.1" stroke-linecap="round" stroke-linejoin="round" />
<path d="M227.3 560V569.7M232.2 559.4V572.5M236.3 558.8V568.5M240.8 558.2V571.7M245.1 557.6V571M250.2 557V566.8M254.1 556.6V568.3M257.9 556.2V571.2M261.4 555.8V564.9M266.7 555.4V566.8M269.5 555V566M274.1 556.7V571.4M278.2 558.3V568.6M283.1 560V572.3" fill="none" stroke="#1a1a1a" stroke-width="0.6" stroke-linecap="round" stroke-linejoin="round" />
<path d="M256.4 570V582.7M259.7 572.7V590.9M263 575.3V592.1M265.4 578V593.1M270.8 579.7V594.8M275.3 581.3V599.4M278.8 583V594M283.6 584.1V596.1M286.7 585.2V602M292.1 586.3V604M296.5 587.4V600M299.4 588.5V600.5M302.6 591.8V603.6M303.3 595V606.2M307 595V606.3M311.4 595V607.3M315.2 595V613.4M318.9 595V612.5M323.7 595V610.5M325.4 597.6V614.8M327.3 600.2V613M331.1 600.9V613.8M335.5 601.5V620.4M339.7 602.1V613.7M344 602.8V620.3M346.6 600.2V616.8M348.7 597.6V609.1M352.2 595V606.4M355.6 594.8V608.9M359.3 594.6V605.9M363 594.4V613M367.9 594.1V612.7M371.5 593.9V612.6M375.9 593.7V609.6M379.8 595.4V610.5M383.7 597.2V611.2M388.7 598.9V611.5M393.5 599.2V614.3M397.7 599.5V617.1M402.3 599.9V612M406.3 600.2V611.2M409.4 602.8V621.4M413.7 605.4V624.2M417.4 608V621.5" fill="none" stroke="#1a1a1a" stroke-width="0.6" stroke-linecap="round" stroke-linejoin="round" />
<path d="M380.7 626V643.1M383.7 628V642.2M386 630V649.1M389.9 631.3V644.8M393 632.7V649.6M396.3 634V653.7M399.8 635.3V650.9M403.9 636.7V653.8M406.4 638V652.5M409.3 640.5V652.9M412.2 643V660.9M415.9 643.4V662.2M420.6 643.8V660.2M424.3 644.2V657.1M427.3 644.6V664.4M431.7 645V658.7M436.6 645.4V663.4M439.4 645.8V660.4M442.6 648.1V662.3M445.3 650.4V666.6M448.7 652.7V667.9M451.5 655V667.9M454.9 656.2V675.2M459.6 657.4V673.9M462.2 658.6V671.8M465.8 659.8V674.3M469.3 661V675.2M470.7 665.1V678.6M472.4 669.2V684.9M473.3 673.3V688.2M477.2 674V692.3M480.7 674.7V687.2M484.8 675.3V690.4M489.1 676V688.9M493 676.7V688.8M496.4 677.4V692.9M499.5 679.3V698.4M503.5 681.3V694.6M506.6 683.2V700.1M509.4 685.1V697.8M513.7 687.1V704.9M516.9 689V704.4M519.7 691.3V705.4M522.9 693.7V713.4M525 696V708.2" fill="none" stroke="#1a1a1a" stroke-width="0.6" stroke-linecap="round" stroke-linejoin="round" />
<polygon points="203,646 218,641 231,632 241,622 265,612.5 290,605.5 310,601 310,609.5 290,614 265,621 241,630.5 231,640.5 218,649.5 203,654.5" fill="#fff" stroke="none" stroke-width="1" stroke-linejoin="round" />
<polygon points="243,651 266,644 292,636.3 318,627 339,621 339,629.5 318,635.5 292,644.8 266,652.5 243,659.5" fill="#fff" stroke="none" stroke-width="1" stroke-linejoin="round" />
<polygon points="260,661 276,656 292,650.6 326,639 362.4,628.5 362.4,637 326,647.5 292,659.1 276,664.5 260,669.5" fill="#fff" stroke="none" stroke-width="1" stroke-linejoin="round" />
<polygon points="287.5,687 312,683 325,680.5 358,670 379,662 400,653.4 416.7,649 416.7,657.5 400,661.9 379,670.5 358,678.5 325,689 312,691.5 287.5,695.5" fill="#fff" stroke="none" stroke-width="1" stroke-linejoin="round" />
<polygon points="328,728 345,725 364,718 384,708 401,695 401,703.5 384,716.5 364,726.5 345,733.5 328,736.5" fill="#fff" stroke="none" stroke-width="1" stroke-linejoin="round" />
<path d="M171 690C175.8 686.3 191.8 674.2 200 668C208.2 661.8 214.6 658.4 220 652.5C225.4 646.6 229.2 637.2 232.5 632.5C235.8 627.8 235.1 626.6 240 624C244.9 621.4 252 620 262 617C272 614 289.3 609.2 300 606C310.7 602.8 321.7 599.3 326 598" fill="none" stroke="#b8700c" stroke-width="3.5" stroke-linecap="round" stroke-linejoin="round" /><path d="M171 690C175.8 686.3 191.8 674.2 200 668C208.2 661.8 214.6 658.4 220 652.5C225.4 646.6 229.2 637.2 232.5 632.5C235.8 627.8 235.1 626.6 240 624C244.9 621.4 252 620 262 617C272 614 289.3 609.2 300 606C310.7 602.8 321.7 599.3 326 598" fill="none" stroke="#f6a21d" stroke-width="2.5" stroke-linecap="round" stroke-linejoin="round" />
<path d="M201 689.5C210.8 685.6 243.5 673 260 666C276.5 659 284.7 654.3 300 647.5C315.3 640.7 341.2 629.2 352 625C362.8 620.8 355.9 625.3 365 622.5C374.1 619.7 399.8 610.8 406.7 608.4" fill="none" stroke="#b8700c" stroke-width="3.5" stroke-linecap="round" stroke-linejoin="round" /><path d="M201 689.5C210.8 685.6 243.5 673 260 666C276.5 659 284.7 654.3 300 647.5C315.3 640.7 341.2 629.2 352 625C362.8 620.8 355.9 625.3 365 622.5C374.1 619.7 399.8 610.8 406.7 608.4" fill="none" stroke="#f6a21d" stroke-width="2.5" stroke-linecap="round" stroke-linejoin="round" />
<path d="M246 719C253.3 715.4 274.4 704.1 290 697.5C305.6 690.9 323 685 339.5 679.5C356 674 374.2 669.8 389 664.6C403.8 659.4 419 652.4 428.5 648.5C438 644.6 443.1 642.2 446 641" fill="none" stroke="#b8700c" stroke-width="3.5" stroke-linecap="round" stroke-linejoin="round" /><path d="M246 719C253.3 715.4 274.4 704.1 290 697.5C305.6 690.9 323 685 339.5 679.5C356 674 374.2 669.8 389 664.6C403.8 659.4 419 652.4 428.5 648.5C438 644.6 443.1 642.2 446 641" fill="none" stroke="#f6a21d" stroke-width="2.5" stroke-linecap="round" stroke-linejoin="round" />
<path d="M302.4 760C310.7 755.5 335.9 741.8 352 732.7C368.1 723.6 384.3 714.1 399 705.5C413.7 696.9 427.3 688.6 440 681C452.7 673.4 469.2 663.5 475 660" fill="none" stroke="#b8700c" stroke-width="3.5" stroke-linecap="round" stroke-linejoin="round" /><path d="M302.4 760C310.7 755.5 335.9 741.8 352 732.7C368.1 723.6 384.3 714.1 399 705.5C413.7 696.9 427.3 688.6 440 681C452.7 673.4 469.2 663.5 475 660" fill="none" stroke="#f6a21d" stroke-width="2.5" stroke-linecap="round" stroke-linejoin="round" />
<path d="M203 645V654.6M208.2 643.3V652.8M213 641.7V655.5M217.4 640V649.9M222.6 637V645.5M226.1 634V647M231.7 631V640.9M233.9 627.7V641.5M237.4 624.3V636M241.2 621V632.8M246.4 619.1V632.9M250.9 617.2V630.1M255.8 615.3V627.2M260.1 613.4V622.8M264.6 611.5V625.1M270.3 610.1V618.7M275.6 608.7V618.3M280.3 607.3V618.1M284.7 605.9V615.2M290.1 604.5V615M295.2 603.4V615.6M300.5 602.2V615.4M305.2 601.1V614.9M310 600V613.3" fill="none" stroke="#1a1a1a" stroke-width="0.55" stroke-linecap="round" stroke-linejoin="round" />
<path d="M242.6 650V661M247.1 648.6V661.5M251.8 647.2V658.5M257.4 645.8V656.2M262.1 644.4V656.8M266.1 643V654.8M271.3 641.5V651.6M277.1 639.9V650.3M282.3 638.4V651.5M286.1 636.8V646.4M292 635.3V648.2M295.8 633.8V645.4M300.5 632.2V644.9M305.6 630.6V643.2M308.9 629.1V641.7M313.6 627.5V640.6M318 626V639.4M324 624.5V637.4M329 623V635.9M333.9 621.5V630.5M339.7 620V630.8" fill="none" stroke="#1a1a1a" stroke-width="0.55" stroke-linecap="round" stroke-linejoin="round" />
<path d="M260.7 660V668.3M265.7 658.3V669.2M271.3 656.7V667.1M276.6 655V664M282.1 653.2V663.7M286.2 651.4V661.5M292.2 649.6V657.8M296.7 647.9V656M301.1 646.3V655.3M306.2 644.6V654.3M311.8 643V653.5M316.8 641.3V654.7M321.7 639.7V653.3M326.1 638V650M331.1 636.7V647.9M334.6 635.4V646.5M339.7 634.1V643.1M343.6 632.8V641.9M349 631.4V644.3M353.5 630.1V640.7M357.1 628.8V636.8M362.6 627.5V638.7" fill="none" stroke="#1a1a1a" stroke-width="0.55" stroke-linecap="round" stroke-linejoin="round" />
<path d="M287.7 686V699.3M292.3 685.2V697.5M298 684.4V695.5M302.6 683.6V696M307.6 682.8V691M311.5 682V696M316.7 681.2V690.7M321 680.3V689.3M324.8 679.5V690.1M329.3 678V686.8M334.4 676.5V688.4M338.9 675V687M344.6 673.5V681.8M348.2 672V680.5M353.6 670.5V681M357.9 669V678.5M363.7 667V679.6M368.4 665V677.9M373.3 663V673.1M379.7 661V670.4M382.7 659.3V667.5M387.7 657.6V670.5M390.9 655.8V666.7M395.6 654.1V664.1M399.6 652.4V662.7M405 650.9V664.5M410.7 649.5V660.7M416.9 648V659.9" fill="none" stroke="#1a1a1a" stroke-width="0.55" stroke-linecap="round" stroke-linejoin="round" />
<path d="M328.6 727V735.8M333.8 726V736.9M340 725V735.3M344.9 724V735.5M349.6 722.2V735.7M355.1 720.5V732.8M358.6 718.8V732.7M364.1 717V728.6M369.1 714.5V725.6M374.6 712V721.6M378.5 709.5V723.5M383.6 707V716.7M388.2 703.8V717.1M392.3 700.5V708.6M396.4 697.2V706.6M400.3 694V707.4" fill="none" stroke="#1a1a1a" stroke-width="0.55" stroke-linecap="round" stroke-linejoin="round" />
<path d="M200 640.2C200.1 638.9 201.2 637 202.3 635.6C203.3 634.3 205.1 633.3 206.3 631.9C207.4 630.5 208 628.3 209.3 627.3C210.7 626.3 213.2 627 214.3 626C215.5 625 215.3 622.4 216.4 621.3C217.5 620.2 219.5 620.2 220.8 619.3C222.1 618.5 222.9 617 224.1 616.2C225.4 615.4 227 615.1 228.3 614.4C229.6 613.6 230.6 612.4 231.9 611.5C233.2 610.7 234.5 610.1 235.9 609.3C237.2 608.6 238.4 608 239.9 607.3C241.4 606.5 243 605.5 244.7 604.9C246.3 604.4 248.2 604.5 249.9 604.1C251.6 603.6 253.1 602.7 254.8 602.4C256.6 602.1 258.5 602.6 260.2 602.2C261.9 601.9 263.4 601 265 600.4C266.6 599.7 268.2 599 269.8 598.5C271.4 598 273.1 597.5 274.8 597.3C276.5 597.1 278.2 596.9 279.9 597.1C281.7 597.3 283.5 598.6 285.1 598.3C286.8 597.9 288.2 595.7 289.9 595.3C291.5 594.9 293.3 595.7 295 595.9C296.7 596 298.4 596.5 300.1 596.2C301.8 595.9 303.3 593.7 305.2 594C307 594.3 310.6 596.5 311.3 597.9C312 599.3 310.4 601.4 309.3 602.3C308.2 603.2 306.3 602.6 304.8 603.3C303.3 603.9 301.9 605.8 300.2 606.2C298.5 606.5 296.4 604.9 294.8 605.3C293.1 605.6 291.8 607.7 290.2 608.2C288.5 608.7 286.5 607.9 284.8 608.1C283.1 608.4 281.4 609 279.8 609.6C278.2 610.1 276.6 611.2 275 611.6C273.3 612.1 271.5 612.1 269.8 612.5C268.1 612.8 266.4 613.3 264.8 613.8C263.1 614.4 261.4 614.9 259.9 615.7C258.4 616.5 257.2 618.2 255.6 618.8C254 619.3 251.8 618.6 250.2 619.1C248.5 619.6 247.2 620.9 245.7 621.8C244.2 622.7 242.4 623.3 241.2 624.3C240 625.4 239.6 627.1 238.4 628C237.1 629 235.1 629.2 233.7 630C232.3 630.9 231.5 632 230.2 633C228.9 634.1 227.5 635.1 226.1 636.2C224.8 637.3 223.5 638.6 222.1 639.7C220.7 640.7 219.2 641.6 217.7 642.5C216.2 643.3 214.7 644.1 213.1 644.9C211.5 645.7 209.9 646.9 208.3 647.2C206.7 647.5 204.5 647.5 203.4 646.9C202.2 646.4 202.2 644.8 201.6 643.7C201.1 642.6 199.9 641.6 200 640.2Z" fill="#8ba93e" stroke="#6d8a2a" stroke-width="0.7" stroke-linejoin="round" />
<path d="M237.6 642.9C238 641.8 241.2 642.4 242.8 641.6C244.3 640.9 245.3 638.9 246.9 638.5C248.5 638.1 250.7 639.4 252.4 639.2C254.1 639 255.4 637.7 256.9 637.1C258.5 636.6 260.3 636.7 261.8 635.9C263.2 635.1 264.3 633.3 265.8 632.4C267.3 631.6 269.3 631.3 271 630.7C272.7 630.1 274.3 629.3 276.1 628.8C277.8 628.3 279.6 628.1 281.4 627.6C283.1 627.1 284.7 626 286.4 625.7C288.2 625.3 290.3 626.1 292.1 625.8C293.9 625.5 295.4 624.2 297.1 623.9C298.9 623.6 300.8 624.2 302.6 624C304.3 623.8 306 623.3 307.7 622.8C309.4 622.2 311 621.3 312.7 620.7C314.4 620.1 316.2 619.4 317.9 619.1C319.5 618.9 321.1 619.3 322.7 619.1C324.2 618.9 325.7 617.8 327.3 617.8C328.9 617.7 330.6 619 332.1 618.9C333.7 618.8 335 617.5 336.7 617.2C338.4 616.9 342.1 616.3 342.3 617.1C342.6 618 339.7 621 338.3 622.3C336.9 623.5 335.5 624.2 333.8 624.7C332.1 625.1 330 624.6 328.2 624.9C326.4 625.2 324.6 625.7 322.9 626.3C321.2 626.9 319.4 627.8 317.9 628.6C316.4 629.4 315.3 630.4 313.9 631.2C312.5 631.9 311.1 632.4 309.6 633C308.2 633.5 306.8 634 305.2 634.3C303.7 634.5 301.9 634.2 300.5 634.6C299 635 297.7 636 296.3 636.7C294.9 637.4 293.7 638.1 292.2 638.8C290.6 639.5 288.9 640.6 287.2 641C285.4 641.5 283.5 641.4 281.7 641.8C279.9 642.1 278.2 642.6 276.5 643.2C274.8 643.8 273.2 645 271.5 645.5C269.8 646.1 267.8 646.2 266.2 646.6C264.5 647 263.1 647.5 261.6 647.9C260 648.3 258.4 648.6 256.9 649C255.3 649.4 253.8 649.8 252.2 650.2C250.7 650.6 249 651.1 247.6 651.4C246.1 651.8 244.7 652.7 243.4 652.2C242.2 651.7 241 649.8 240 648.2C239 646.7 237.1 644 237.6 642.9Z" fill="#8ba93e" stroke="#6d8a2a" stroke-width="0.7" stroke-linejoin="round" />
<path d="M255 655.5C255.4 654.7 258.8 654.8 260.6 654.5C262.3 654.2 264 654.4 265.5 653.7C266.9 653 267.9 651.1 269.4 650.4C270.8 649.6 272.5 649.6 274 649.1C275.5 648.6 276.9 647.7 278.4 647.3C279.9 646.9 281.6 647.2 283.2 646.8C284.7 646.5 286.2 645.9 287.6 645.3C289.1 644.8 290.5 644.1 292.1 643.7C293.7 643.4 295.6 643.6 297.2 643.2C298.9 642.7 300.3 641.8 301.9 641C303.4 640.2 304.9 639.2 306.5 638.6C308 638 309.7 637.6 311.3 637.2C313 636.8 314.7 636.7 316.4 636.3C318 636 319.7 635.6 321.3 635C322.9 634.3 324.1 632.7 325.8 632.3C327.5 631.9 329.6 632.8 331.4 632.4C333.1 632 334.6 630.6 336.3 630.1C338 629.7 340 630.2 341.7 629.6C343.4 629 344.7 627.2 346.4 626.5C348.1 625.9 350 626.2 351.7 625.7C353.5 625.2 355.2 623.7 356.8 623.6C358.5 623.4 359.9 624.5 361.5 624.7C363.1 624.9 366.4 623.9 366.6 624.9C366.8 625.9 364.1 629.5 362.7 630.8C361.2 632.1 359.7 632.3 358.1 632.5C356.4 632.8 354.6 632 353 632.2C351.5 632.5 350.1 633.5 348.7 634.1C347.2 634.7 345.8 635.6 344.3 636.1C342.8 636.6 341.1 636.6 339.7 637.1C338.2 637.6 336.9 638.9 335.3 639.2C333.8 639.4 331.8 638.4 330.2 638.6C328.6 638.7 327.2 639.3 325.7 640C324.2 640.6 322.6 641.6 321.1 642.5C319.6 643.3 318.2 644.8 316.6 645.2C314.9 645.6 312.7 644.3 311 644.9C309.4 645.4 308.3 647.4 306.8 648.3C305.3 649.2 303.7 649.9 302.1 650.4C300.4 650.9 298.6 650.7 296.9 651.1C295.3 651.6 293.9 652.5 292.1 652.9C290.3 653.3 288.1 652.8 286.4 653.5C284.6 654.2 283.3 656.1 281.6 657.1C280 658 278.2 658.6 276.4 659.1C274.5 659.5 272.5 659.2 270.7 659.8C268.9 660.4 267.5 662 265.7 662.5C263.9 662.9 261.4 663.1 260.1 662.6C258.8 662.1 258.8 660.7 258 659.5C257.1 658.3 254.6 656.4 255 655.5Z" fill="#8ba93e" stroke="#6d8a2a" stroke-width="0.7" stroke-linejoin="round" />
<path d="M282.5 677.2C283.2 676 286.7 676.7 288.7 676.3C290.6 676 292.5 675.7 294.4 675.3C296.3 674.9 298.2 674.2 300 673.9C301.8 673.6 303.6 673.8 305.4 673.6C307.1 673.3 308.9 672.9 310.7 672.6C312.4 672.4 314.7 672.8 316 672C317.4 671.2 317.8 669.2 318.8 667.8C319.7 666.5 320.8 665.2 321.9 664C323.1 662.8 324.2 661.1 325.7 660.5C327.1 659.9 329.1 660.9 330.5 660.4C332 659.8 332.9 657.8 334.3 657.2C335.7 656.5 337.5 656.1 339.1 656.6C340.6 657.2 342.1 659.1 343.6 660.3C345.1 661.6 346.4 663.9 348 664.1C349.5 664.4 351.2 662.4 352.9 661.8C354.7 661.3 356.6 661.3 358.3 660.9C360.1 660.4 362.2 660.1 363.6 658.9C365.1 657.8 366 655.7 367.1 654.1C368.3 652.5 369.2 650.2 370.6 649.4C371.9 648.6 373.9 649.5 375.4 649.2C376.8 648.9 378.1 648.2 379.4 647.5C380.6 646.8 381.5 645.3 383 644.9C384.4 644.6 386.4 645.3 388.1 645.4C389.7 645.4 391.4 645.3 393.1 645.2C394.8 645.1 396.4 645.4 398.1 645C399.7 644.6 401.3 643.1 402.9 642.7C404.6 642.2 406.5 641.9 408 642.3C409.6 642.6 410.8 644.4 412.3 644.8C413.9 645.2 416.7 643.6 417.5 644.7C418.3 645.8 418.2 649.9 417.2 651.4C416.1 652.8 413.4 653.3 411.4 653.6C409.5 653.9 407.3 652.9 405.4 653.3C403.5 653.7 401.8 655.3 400.2 656.1C398.7 656.8 397.6 657.5 396.1 657.9C394.7 658.3 392.9 658 391.5 658.6C390.1 659.2 389.2 661.1 387.8 661.6C386.4 662.1 384.3 661 382.9 661.6C381.5 662.2 381 664.5 379.4 665C377.8 665.6 375.1 664.2 373.3 664.9C371.6 665.5 370.5 667.9 368.8 668.9C367.2 669.9 365.4 670.3 363.6 670.9C361.8 671.4 359.8 671.8 358 672.1C356.3 672.4 354.7 672.4 353.1 672.8C351.5 673.3 350.1 674.5 348.6 675C347 675.6 345.2 675.4 343.7 676C342.2 676.6 340.9 678.2 339.3 678.6C337.8 679.1 335.7 678.1 334.1 678.6C332.6 679.1 331.5 681.1 329.9 681.7C328.4 682.4 326.6 682.6 325.1 682.7C323.5 682.9 322 682.3 320.5 682.6C319.1 682.8 317.8 683.8 316.4 684.4C315 685 313.8 686 312.2 686.1C310.6 686.3 308.6 685 307 685.2C305.4 685.5 304 687.3 302.4 687.7C300.8 688.1 299 687.5 297.3 687.6C295.7 687.8 294.1 688.4 292.5 688.6C290.8 688.8 288.8 689.9 287.5 689C286.1 688.2 285.2 685.6 284.4 683.6C283.5 681.6 281.8 678.5 282.5 677.2Z" fill="#8ba93e" stroke="#6d8a2a" stroke-width="0.7" stroke-linejoin="round" />
<path d="M322.9 719.4C323.4 718.2 325.2 717.6 326.5 716.5C327.8 715.5 329.1 714.1 330.5 713.1C331.9 712.1 333.5 711.4 335 710.6C336.6 709.9 338.2 708.9 339.8 708.6C341.4 708.2 343.1 708.6 344.7 708.3C346.2 707.9 347.7 707.5 349.1 706.7C350.4 706 351.5 704.4 352.9 703.7C354.3 702.9 355.8 702.7 357.3 702.2C358.8 701.7 360.1 700.9 361.7 700.6C363.2 700.3 365.1 700.8 366.6 700.3C368.1 699.8 369.3 698.4 370.8 697.7C372.2 696.9 373.7 696.3 375.2 695.9C376.7 695.4 378.4 695.5 379.9 694.9C381.4 694.3 382.5 692.7 384.1 692.2C385.6 691.7 387.2 692.4 389 692C390.8 691.7 392.9 690.3 394.8 690C396.7 689.8 399.4 689.4 400.4 690.6C401.5 691.8 401.9 695.6 401.1 697.1C400.4 698.5 397.5 698.2 396 699.3C394.6 700.4 393.9 702.3 392.6 703.7C391.4 705 390.2 706.4 388.6 707.2C387.1 708.1 385 708.2 383.3 708.9C381.6 709.6 380 710.4 378.6 711.6C377.1 712.8 376.3 715.4 374.6 716.2C372.9 717 370.3 715.9 368.4 716.4C366.6 716.9 365.2 718.4 363.6 719.1C362 719.9 360.4 720 358.9 720.7C357.3 721.4 356 722.7 354.4 723.3C352.9 724 351.1 724.2 349.5 724.7C347.9 725.2 346.5 725.8 344.9 726.5C343.2 727.1 341.2 727.8 339.4 728.4C337.6 729.1 335.8 730 333.9 730.2C332 730.4 329.3 730.3 328.2 729.5C327 728.8 327.9 726.8 327 725.8C326.2 724.7 323.8 724.2 323.1 723.2C322.4 722.1 322.3 720.5 322.9 719.4Z" fill="#8ba93e" stroke="#6d8a2a" stroke-width="0.7" stroke-linejoin="round" />
<line x1="215" y1="667" x2="215" y2="675" stroke="#1a1a1a" stroke-width="0.6" />
<path d="M225.4 661C225.4 662.8 223.6 665.4 222.5 666.4C221.3 667.3 219.7 666.5 218.5 666.8C217.2 667 216.2 667.9 215 667.9C213.8 667.9 212.7 667.1 211.5 666.8C210.3 666.5 208.9 667.1 207.8 666.1C206.7 665.1 204.8 662.6 204.9 661C205 659.4 207.2 657.4 208.3 656.4C209.4 655.5 210.5 655.9 211.6 655.5C212.7 655 213.8 653.8 215 653.7C216.2 653.5 217.4 654.4 218.6 654.7C219.9 655 221.3 654.6 222.5 655.6C223.6 656.7 225.4 659.2 225.4 661Z" fill="#8ba93e" stroke="#6d8a2a" stroke-width="0.7" stroke-linejoin="round" />
<line x1="231" y1="674.5" x2="231" y2="682.5" stroke="#1a1a1a" stroke-width="0.6" />
<path d="M240.6 669C240.6 670.6 238.8 673 237.7 673.9C236.6 674.8 235.2 674 234.1 674.3C233 674.6 232 676 231 676C230 675.9 229 674.4 228 673.9C227 673.5 225.9 674.1 225 673.2C224 672.4 222.4 670.5 222.3 669C222.3 667.5 223.7 665.2 224.6 664.4C225.5 663.5 226.9 664.3 227.9 663.9C229 663.5 230 662.2 231 662.1C232 662.1 233.1 663.2 234.1 663.6C235.2 663.9 236.4 663.4 237.5 664.3C238.6 665.2 240.6 667.4 240.6 669Z" fill="#8ba93e" stroke="#6d8a2a" stroke-width="0.7" stroke-linejoin="round" />
<line x1="245" y1="670.5" x2="245" y2="678.5" stroke="#1a1a1a" stroke-width="0.6" />
<path d="M254.1 664C254.2 665.7 252.3 668.2 251.3 669.2C250.3 670.3 249.2 670 248.2 670.3C247.1 670.7 246 671.4 245 671.4C244 671.3 242.9 670.4 242 670C241 669.6 240.1 669.9 239.1 668.9C238.2 667.9 236.3 665.6 236.2 664C236.2 662.4 238 660 239 659C239.9 657.9 240.8 658.1 241.9 657.7C242.9 657.3 244 656.4 245 656.5C246 656.5 247.1 657.6 248 658C249 658.5 249.8 658.2 250.9 659.2C251.9 660.2 254 662.3 254.1 664Z" fill="#8ba93e" stroke="#6d8a2a" stroke-width="0.7" stroke-linejoin="round" />
<line x1="256" y1="687" x2="256" y2="695" stroke="#1a1a1a" stroke-width="0.6" />
<path d="M267.4 680C267.5 680.9 266.7 681.9 266.2 682.8C265.8 683.8 265.4 684.9 264.4 685.6C263.4 686.3 261.7 686.5 260.3 687C258.9 687.5 257.4 688.5 256 688.5C254.6 688.5 253.2 687.4 251.7 687C250.2 686.6 248.3 686.7 247.3 686C246.2 685.4 245.9 684.1 245.3 683.1C244.7 682.1 243.5 681 243.5 680C243.5 679 244.5 677.8 245.2 676.8C245.9 675.9 246.5 675.1 247.6 674.4C248.6 673.7 250.2 673 251.6 672.7C253 672.3 254.6 672.1 256 672.2C257.4 672.2 258.9 672.6 260.3 673C261.7 673.4 263.2 674.1 264.2 674.8C265.1 675.5 265.5 676.4 266.1 677.3C266.6 678.2 267.4 679.1 267.4 680Z" fill="#8ba93e" stroke="#6d8a2a" stroke-width="0.7" stroke-linejoin="round" />
<line x1="270" y1="696.5" x2="270" y2="704.5" stroke="#1a1a1a" stroke-width="0.6" />
<path d="M276.9 692.5C277 693.8 276.4 695.6 275.3 696.5C274.1 697.3 271.7 697.9 270 697.8C268.3 697.7 266.3 697 265 696.1C263.7 695.2 262.3 693.7 262.3 692.5C262.3 691.3 263.8 689.7 265 689C266.3 688.2 268.3 688.1 270 688.1C271.7 688.1 273.9 688.2 275 688.9C276.2 689.6 276.9 691.2 276.9 692.5Z" fill="#8ba93e" stroke="#6d8a2a" stroke-width="0.7" stroke-linejoin="round" />
<line x1="277.5" y1="704.5" x2="277.5" y2="712.5" stroke="#1a1a1a" stroke-width="0.6" />
<path d="M283.1 701C283.1 702.1 282.7 703.5 281.7 704.2C280.8 704.8 278.9 704.8 277.5 704.8C276.1 704.8 274.2 704.8 273.3 704.1C272.4 703.5 272.2 702.1 272.1 701C272.1 699.9 272 698.2 272.9 697.4C273.8 696.7 276 696.5 277.5 696.5C279 696.5 281.1 696.7 282 697.4C283 698.2 283.2 699.9 283.1 701Z" fill="#8ba93e" stroke="#6d8a2a" stroke-width="0.7" stroke-linejoin="round" />
<path d="M208.5 673l1 -2.8l1 2.8l1.3 -4.5l1.3 4.5l1 -5.8l1 5.8l0.7 -5.2l0.7 5.2" fill="none" stroke="#1a1a1a" stroke-width="0.5" stroke-linecap="round" stroke-linejoin="round" />
<path d="M232 682l0.7 -4.3l0.7 4.3l0.9 -5.7l0.9 5.7l1.1 -4.1l1.1 4.1l1.3 -3.1l1.3 3.1l1.2 -3.7l1.2 3.7" fill="none" stroke="#1a1a1a" stroke-width="0.5" stroke-linecap="round" stroke-linejoin="round" />
<path d="M258 696l1 -4.4l1 4.4l0.8 -5.7l0.8 5.7l1.1 -5l1.1 5l0.9 -5.3l0.9 5.3l1.2 -4.4l1.2 4.4" fill="none" stroke="#1a1a1a" stroke-width="0.5" stroke-linecap="round" stroke-linejoin="round" />
<path d="M276.5 709l0.6 -2.3l0.6 2.3l0.9 -2.4l0.9 2.4l1.3 -2.2l1.3 2.2l1 -3.3l1 3.3" fill="none" stroke="#1a1a1a" stroke-width="0.5" stroke-linecap="round" stroke-linejoin="round" />
<path d="M223.7 558.8C223.9 557.5 227 557.6 228.5 556.8C230 556.1 231.1 555.3 232.7 554.4C234.3 553.5 236.2 552.2 238.1 551.5C240 550.7 241.9 550.2 243.9 550C245.8 549.8 247.6 550.9 249.9 550.5C252.1 550.1 254.6 548.2 257.2 547.6C259.8 547.1 263 547.5 265.3 547.2C267.6 546.9 269 546.4 270.9 546C272.8 545.6 274.8 545.3 276.7 544.9C278.7 544.6 280.5 544.5 282.6 544C284.6 543.5 287 543 289 541.9C291 540.8 292.4 538.4 294.5 537.5C296.6 536.6 299.4 537.2 301.6 536.5C303.8 535.8 305.6 533.7 307.9 533.3C310.2 532.9 313 534.6 315.3 534.1C317.6 533.6 319.3 530.5 321.5 530.2C323.7 530 326.2 532.9 328.4 532.8C330.7 532.6 332.9 529.1 335.2 529.3C337.5 529.5 339.8 532.9 342.3 533.7C344.8 534.6 347.7 534.1 350.1 534.4C352.5 534.6 354.5 534.8 356.7 535.5C358.9 536.1 360.9 538 363.2 538C365.4 538 367.8 535.9 370.2 535.6C372.6 535.3 375 535.4 377.4 536.2C379.8 536.9 382.1 539.6 384.6 540C387 540.5 389.7 539.2 392 538.8C394.3 538.5 396.2 537.3 398.2 537.9C400.2 538.5 401.9 541.4 403.8 542.2C405.7 543 407.7 542.9 409.6 542.8C411.6 542.6 413.8 540.9 415.6 541C417.4 541.2 418.7 543.2 420.5 543.8C422.3 544.4 425.3 543.3 426.7 544.6C428 545.9 427.5 549.7 428.6 551.5C429.7 553.3 431.5 554.4 433.3 555.2C435.1 556 437.6 555.5 439.5 556.2C441.4 557 442.8 559.4 444.8 559.8C446.8 560.3 449.8 558.5 451.7 559C453.7 559.4 455.2 561.2 456.5 562.7C457.9 564.2 458.2 566.9 460 568.1C461.7 569.3 464.8 568.9 467 569.6C469.2 570.4 471 571.9 473.1 572.7C475.1 573.5 477.2 574 479.3 574.4C481.4 574.7 483.6 574.7 485.7 574.9C487.8 575.1 490 575.7 492 575.5C494.1 575.3 496 573.6 498.1 573.7C500.1 573.8 502.4 575.6 504.5 576C506.5 576.5 508.5 576.3 510.5 576.6C512.5 576.8 514.4 577.5 516.4 577.6C518.5 577.8 520.6 577.5 522.8 577.4C524.9 577.3 527.1 577 529.1 577.2C531.1 577.5 532.9 578.2 534.7 578.9C536.4 579.6 538.2 580.1 539.5 581.6C540.8 583 540.7 586.7 542.6 587.6C544.4 588.5 548 586.8 550.6 587C553.1 587.2 555.5 588.4 557.7 589C559.9 589.5 561.7 589.9 563.8 590.5C565.8 591 567.8 591.4 569.8 592C571.8 592.7 573.8 594 575.8 594.2C577.9 594.5 580.2 594 582.3 593.7C584.5 593.4 586.8 592 588.9 592.5C591 592.9 592.8 595.8 594.9 596.3C597 596.8 599.2 595.3 601.4 595.3C603.5 595.2 605.5 596.1 607.7 596.1C609.8 596.2 612.1 595.2 614.2 595.5C616.3 595.8 618.1 597.2 620.1 597.9C622.1 598.5 625.1 598.4 626.3 599.3C627.4 600.3 627.1 602 626.9 603.8C626.8 605.5 626.4 608.3 625.2 610C624.1 611.7 620.9 612.4 619.8 613.9C618.7 615.4 619.5 617.7 618.6 619.1C617.7 620.6 616.1 620.6 614.4 622.5C612.8 624.3 610.8 628.4 608.7 630.4C606.6 632.5 604 633.2 601.8 634.7C599.6 636.2 597.6 638.4 595.3 639.5C593.1 640.7 590.5 640.3 588.5 641.5C586.5 642.7 585.1 645.5 583.4 646.6C581.6 647.7 579.4 647.3 577.8 648.1C576.3 649 574.9 650.4 573.9 651.8C572.9 653.1 572.6 654.7 571.8 656.1C571 657.6 570 658.9 569.1 660.6C568.2 662.4 566.5 664.4 566.2 666.5C565.9 668.6 567.5 671 567.1 673C566.7 675.1 564 676.7 563.7 678.9C563.4 681.1 565.9 684.4 565.2 686.1C564.5 687.9 560.6 687.8 559.4 689.3C558.1 690.9 559.2 693.4 557.9 695.4C556.6 697.3 553.7 700.2 551.6 701.1C549.5 702 547.2 700.5 545.2 700.5C543.3 700.6 542.2 701 540.1 701.4C537.9 701.7 534.7 703.2 532.2 702.9C529.7 702.7 526.7 701.2 525 699.8C523.3 698.5 523.3 695.9 521.9 694.7C520.5 693.4 518.4 693.3 516.6 692.5C514.9 691.7 513.1 690.8 511.3 690C509.5 689.2 507.5 688.8 505.7 687.9C503.9 687.1 502.1 686.2 500.6 684.9C499 683.6 498.1 681.2 496.5 680C494.8 678.7 492.8 678.1 490.9 677.5C489 676.9 487.1 676.4 485.1 676.4C483.2 676.4 481.2 677.1 479.1 677.3C476.9 677.5 473.3 678.8 472 677.7C470.6 676.5 471.2 672.7 471 670.3C470.8 667.9 471.9 664.8 470.8 663.2C469.7 661.6 466.5 661.4 464.4 660.7C462.3 660.1 460.3 659.8 458.2 659.5C456 659.2 453.5 660 451.5 658.9C449.5 657.9 448 655 446.1 653.3C444.1 651.6 442.1 649.8 440 648.9C437.8 647.9 435.4 647.7 433.1 647.6C430.7 647.5 428.2 648.8 425.9 648.3C423.6 647.9 421.4 645.6 419.2 644.9C417 644.3 414.9 645 412.7 644.6C410.5 644.1 408.2 643.1 406 642.1C403.8 641.2 401.5 640.4 399.4 639.1C397.3 637.8 395.7 635.2 393.3 634.3C390.9 633.4 387.1 634.8 385.3 633.7C383.5 632.7 382.3 629.2 382.4 627.9C382.5 626.6 384.4 626.4 385.9 625.8C387.4 625.2 389.6 624.9 391.4 624.3C393.2 623.7 395 623.2 396.6 622.1C398.2 621.1 399.4 618.9 401 617.8C402.6 616.7 404.6 616.3 406.3 615.4C408.1 614.6 409.5 613.5 411.4 612.7C413.3 612 417.6 612 417.7 611C417.9 610 414.2 607.6 412.3 606.5C410.4 605.4 408.1 605.5 406.2 604.6C404.2 603.7 402.7 601.5 400.7 601.2C398.8 600.9 396.6 602.4 394.5 602.7C392.4 602.9 390.3 603.4 388.2 602.9C386 602.4 383.9 600.9 381.8 599.5C379.7 598.2 377.8 595.3 375.7 594.8C373.7 594.4 371.5 596.4 369.5 596.8C367.5 597.1 365.6 597 363.7 596.9C361.7 596.7 359.8 596.1 357.8 596C355.7 595.9 353 595.4 351.3 596.3C349.5 597.2 348.5 599.5 347.3 601.2C346.1 602.8 345.6 605.5 344.1 606.1C342.6 606.7 340.3 605.2 338.5 604.6C336.6 604 334.8 602.9 333 602.5C331.3 602.1 329.4 603 327.8 602.2C326.2 601.4 325.3 598.3 323.4 597.7C321.6 597.1 319 598.5 316.8 598.6C314.6 598.7 312.4 598.8 310.3 598.5C308.2 598.3 306 598.4 304.3 597.2C302.6 596 302.1 592.2 300.2 591.3C298.2 590.4 294.8 592.2 292.5 591.5C290.2 590.8 288.4 588.2 286.2 587C284 585.8 281.7 585.2 279.5 584.5C277.3 583.7 275 583.2 272.9 582.4C270.8 581.6 268.5 580.7 266.8 579.6C265.1 578.5 264.2 576.9 262.6 575.8C261 574.7 257 573.5 257.1 573C257.2 572.5 261.3 573.3 263.3 572.7C265.2 572.2 267 570.6 268.9 569.7C270.8 568.8 272.2 568.2 274.4 567.3C276.7 566.4 281.3 565.3 282.6 564.6C283.9 563.8 283 563.7 282 562.6C281.1 561.5 278.8 559.1 276.8 558.1C274.8 557.1 272.3 556.7 270.1 556.7C267.8 556.8 265.6 557.8 263.3 558.2C261.1 558.5 258.8 558.1 256.6 558.7C254.4 559.2 252.3 561.1 250.2 561.5C248.2 561.8 246.3 560.9 244.4 560.8C242.4 560.8 240.5 560.7 238.6 561.1C236.8 561.5 235.1 562.7 233.2 563.3C231.3 563.9 228.7 565.5 227.1 564.7C225.5 564 223.5 560.1 223.7 558.8Z" fill="#8ba93e" stroke="#6d8a2a" stroke-width="0.8" stroke-linejoin="round" />
<path d="M295.9 557C295.8 556.3 298.5 556.3 299.7 555.8C300.9 555.3 301.7 554.4 303 554.1C304.4 553.9 306.1 553.9 307.5 554.1C309 554.3 310.6 554.6 311.8 555.3C313 556.1 314.9 557.7 314.9 558.5C314.8 559.3 312.8 559.7 311.6 559.9C310.5 560.2 309.2 560 308 560C306.7 560.1 305.3 560.5 304 560.5C302.6 560.5 301.3 560.8 299.9 560.2C298.6 559.6 295.9 557.7 295.9 557Z" fill="#fff" stroke="#6d8a2a" stroke-width="0.6" stroke-linejoin="round" />
<path d="M352.7 549.5C352.8 548.9 355.6 548.4 357.2 548C358.7 547.5 360.5 546.8 362 546.7C363.4 546.6 364.6 547.3 366 547.4C367.3 547.5 368.7 547.1 370 547.2C371.4 547.4 372.5 548 374 548.3C375.4 548.6 377.2 548.8 378.9 549C380.6 549.2 384 549 384.2 549.3C384.4 549.6 381.2 550.1 379.8 550.6C378.5 551 377.3 551.8 376 552C374.7 552.2 373.3 551.7 372 551.5C370.7 551.3 369.4 551.1 368 550.9C366.7 550.7 365.2 550.4 364 550.5C362.7 550.6 361.7 551.4 360.5 551.6C359.4 551.8 358.4 552 357.1 551.7C355.8 551.3 352.7 550.1 352.7 549.5Z" fill="#fff" stroke="#6d8a2a" stroke-width="0.6" stroke-linejoin="round" />
<path d="M262 582C268.3 579.3 287.3 570.8 300 566C312.7 561.2 331.7 555.2 338 553" fill="none" stroke="#3b5216" stroke-width="1.1" stroke-linecap="round" stroke-linejoin="round" stroke-dasharray="3.5 2.5"/>
<path d="M328 604C336.7 601 363 592.3 380 586C397 579.7 419.2 570.3 430 566C440.8 561.7 442.5 561 445 560" fill="none" stroke="#3b5216" stroke-width="1.1" stroke-linecap="round" stroke-linejoin="round" stroke-dasharray="3.5 2.5"/>
<path d="M415 608.5C420.8 606.8 437.5 601.1 450 598C462.5 594.9 478.3 592.2 490 590C501.7 587.8 511.7 586.3 520 585C528.3 583.7 536.7 582.5 540 582" fill="none" stroke="#3b5216" stroke-width="1.1" stroke-linecap="round" stroke-linejoin="round" stroke-dasharray="3.5 2.5"/>
<path d="M407 538C409.2 539.2 414 541 420 545C426 549 435.5 554 443 562C450.5 570 461.7 583.3 465 593C468.3 602.7 467.2 612.2 463 620C458.8 627.8 447.2 635.3 440 640C432.8 644.7 423.3 646.7 420 648" fill="none" stroke="#3b5216" stroke-width="1.1" stroke-linecap="round" stroke-linejoin="round" stroke-dasharray="3.5 2.5"/>
<path d="M446 641C450.8 638.8 465.2 631.8 475 628C484.8 624.2 500 619.7 505 618" fill="none" stroke="#3b5216" stroke-width="1.1" stroke-linecap="round" stroke-linejoin="round" stroke-dasharray="3.5 2.5"/>
<path d="M473 656C476.2 653.8 485.2 646.4 492 643C498.8 639.6 505 637.4 513.8 635.6C522.6 633.8 534.6 632.8 545 632C555.4 631.2 567.7 631 576 631C584.3 631 591.8 631.8 595 632" fill="none" stroke="#3b5216" stroke-width="1.1" stroke-linecap="round" stroke-linejoin="round" stroke-dasharray="3.5 2.5"/>
<path d="M345 625C350.8 622.8 374.2 614.2 380 612" fill="none" stroke="#3b5216" stroke-width="1.1" stroke-linecap="round" stroke-linejoin="round" stroke-dasharray="3.5 2.5"/>
<path d="M335.3 556L338 553L334.1 552.3" fill="none" stroke="#3b5216" stroke-width="0.9" stroke-linecap="round" stroke-linejoin="round" />
<path d="M592.9 634.2L597 632.2L593.2 629.8" fill="none" stroke="#3b5216" stroke-width="1" stroke-linecap="round" stroke-linejoin="round" />
<path d="M372 571.1C372.9 570.9 375.7 570.5 377.6 570.1C379.5 569.6 381.3 568.6 383.2 568.4C385.1 568.2 386.9 568.7 388.8 568.8C390.7 568.9 392.5 569 394.4 569C396.3 568.9 399.1 568.7 400 568.7" fill="none" stroke="#55761f" stroke-width="0.9" stroke-linecap="round" stroke-linejoin="round" />
<path d="M505 625C505.9 624.9 508.5 624.4 510.2 623.9C512 623.4 513.8 622.2 515.5 622C517.2 621.8 519 622.8 520.8 622.7C522.5 622.6 524.2 621.7 526 621.3C527.8 620.9 529.5 620.5 531.2 620.4C533 620.3 534.8 620.8 536.5 620.8C538.2 620.8 540 620.5 541.8 620.5C543.5 620.5 546.1 620.9 547 620.9" fill="none" stroke="#55761f" stroke-width="0.9" stroke-linecap="round" stroke-linejoin="round" />
<path d="M525 640.9C525.9 641 528.7 641.9 530.6 641.5C532.5 641.1 534.3 639.1 536.2 638.5C538.1 637.9 539.9 637.8 541.8 637.8C543.7 637.8 545.5 638.2 547.4 638.4C549.3 638.6 552.1 638.8 553 638.9" fill="none" stroke="#55761f" stroke-width="0.9" stroke-linecap="round" stroke-linejoin="round" />
<path d="M420 585.1C420.8 584.8 423.3 583.7 425 583.2C426.7 582.8 428.3 582.7 430 582.5C431.7 582.3 433.3 581.9 435 582.1C436.7 582.3 439.2 583.3 440 583.6" fill="none" stroke="#55761f" stroke-width="0.9" stroke-linecap="round" stroke-linejoin="round" />
<path d="M455 599C455.8 598.8 458 598 459.5 597.9C461 597.8 462.5 598.6 464 598.5C465.5 598.4 467 597.3 468.5 597.2C470 597.2 472.2 598 473 598.1" fill="none" stroke="#55761f" stroke-width="0.9" stroke-linecap="round" stroke-linejoin="round" />
<polygon points="181,644 190,647.5 190,653.5 181,650" fill="#111" stroke="#1a1a1a" stroke-width="0.7" stroke-linejoin="round" /><polygon points="190,647.5 201,644 201,650 190,653.5" fill="#fff" stroke="#1a1a1a" stroke-width="0.7" stroke-linejoin="round" /><polygon points="181,644 190,647.5 201,644 192.5,640" fill="#e5231b" stroke="#1a1a1a" stroke-width="0.7" stroke-linejoin="round" />
<polygon points="201,629 209,632.5 209,638 201,634.5" fill="#111" stroke="#1a1a1a" stroke-width="0.7" stroke-linejoin="round" /><polygon points="209,632.5 217.5,629 217.5,634.5 209,638" fill="#fff" stroke="#1a1a1a" stroke-width="0.7" stroke-linejoin="round" /><polygon points="201,629 209,632.5 217.5,629 210,625" fill="#e5231b" stroke="#1a1a1a" stroke-width="0.7" stroke-linejoin="round" />
<polygon points="301,699.3 314.7,705.5 314.7,710.5 301,704.3" fill="#111" stroke="#1a1a1a" stroke-width="0.7" stroke-linejoin="round" /><polygon points="314.7,705.5 327,699.3 327,704.3 314.7,710.5" fill="#fff" stroke="#1a1a1a" stroke-width="0.7" stroke-linejoin="round" /><polygon points="301,699.3 314.7,705.5 327,699.3 313.5,693" fill="#e5231b" stroke="#1a1a1a" stroke-width="0.7" stroke-linejoin="round" />
<polygon points="329.6,693 347,705.5 347,710 329.6,697.5" fill="#111" stroke="#1a1a1a" stroke-width="0.7" stroke-linejoin="round" /><polygon points="347,705.5 358,699.3 358,703.8 347,710" fill="#fff" stroke="#1a1a1a" stroke-width="0.7" stroke-linejoin="round" /><polygon points="329.6,693 347,705.5 358,699.3 340.7,688" fill="#e5231b" stroke="#1a1a1a" stroke-width="0.7" stroke-linejoin="round" />
<polygon points="354.8,734 389,761 389,766.5 354.8,739.5" fill="#111" stroke="#1a1a1a" stroke-width="0.7" stroke-linejoin="round" /><polygon points="389,761 401.3,755 401.3,760.5 389,766.5" fill="#fff" stroke="#1a1a1a" stroke-width="0.7" stroke-linejoin="round" /><polygon points="354.8,734 389,761 401.3,755 366.7,727.7" fill="#e5231b" stroke="#1a1a1a" stroke-width="0.7" stroke-linejoin="round" />
<polygon points="328.5,705 336.3,709.5 336.3,714.5 328.5,710" fill="#111" stroke="#1a1a1a" stroke-width="0.9" stroke-linejoin="round" /><polygon points="336.3,709.5 349.3,704.3 349.3,709.3 336.3,714.5" fill="#fff" stroke="#1a1a1a" stroke-width="0.9" stroke-linejoin="round" /><polygon points="328.5,705 336.3,709.5 349.3,704.3 341.5,699.8" fill="#fff" stroke="#1a1a1a" stroke-width="0.9" stroke-linejoin="round" />
<polygon points="248,630 255.8,634.5 255.8,638.5 248,634" fill="#111" stroke="#1a1a1a" stroke-width="0.9" stroke-linejoin="round" /><polygon points="255.8,634.5 266,630.4 266,634.4 255.8,638.5" fill="#fff" stroke="#1a1a1a" stroke-width="0.9" stroke-linejoin="round" /><polygon points="248,630 255.8,634.5 266,630.4 258.2,625.9" fill="#fff" stroke="#1a1a1a" stroke-width="0.9" stroke-linejoin="round" />
<ellipse cx="242" cy="634" rx="5" ry="5.5" fill="#fff" stroke="#1a1a1a" stroke-width="0.7" />
<polygon points="539,662.7 546,673 529.6,683.5 526.5,680.4" fill="#6f6040" stroke="#1a1a1a" stroke-width="0.7" stroke-linejoin="round" />
<polygon points="500.4,649.2 539,662.7 526.5,680.4 486.9,664.8" fill="#a3926f" stroke="#1a1a1a" stroke-width="0.8" stroke-linejoin="round" />
<line x1="486.9" y1="664.8" x2="484.8" y2="680.4" stroke="#1a1a1a" stroke-width="1.1" />
<line x1="526.5" y1="680.4" x2="524.4" y2="698" stroke="#1a1a1a" stroke-width="1.1" />
<polygon points="529.6,683.5 543,688.8 540,703.3 524.4,698" fill="#87764f" stroke="#1a1a1a" stroke-width="0.8" stroke-linejoin="round" />
<polygon points="543,688.8 559.8,679.4 553.5,699 540,703.3" fill="#93825c" stroke="#1a1a1a" stroke-width="0.8" stroke-linejoin="round" />
<polygon points="529.6,683.5 545.2,674.2 559.8,679.4 543,688.8" fill="#a3926f" stroke="#1a1a1a" stroke-width="0.8" stroke-linejoin="round" />
<polygon points="492,714.8 474.4,729.4 527.5,758.5 546.3,740.8" fill="none" stroke="#1a1a1a" stroke-width="0.8" stroke-linejoin="round" />
<line x1="480.6" y1="682.5" x2="474.4" y2="729.4" stroke="#1a1a1a" stroke-width="0.8" stroke-dasharray="3 2"/>
<line x1="500" y1="672" x2="492" y2="714.8" stroke="#1a1a1a" stroke-width="0.8" stroke-dasharray="3 2"/>
<line x1="537" y1="703" x2="527.5" y2="758.5" stroke="#1a1a1a" stroke-width="0.8" stroke-dasharray="3 2"/>
<line x1="553.5" y1="700" x2="546.3" y2="740.8" stroke="#1a1a1a" stroke-width="0.8" stroke-dasharray="3 2"/>
<line x1="502.5" y1="704.4" x2="575.4" y2="729.4" stroke="#aaa" stroke-width="0.8" />
<line x1="506" y1="700" x2="580" y2="725" stroke="#aaa" stroke-width="0.8" />
<path d="M400 663.4H462.4V704.2H434.7L433.5 729L423.6 704.2H400Z" fill="#f3b3b1" stroke="#222" stroke-width="0.9" stroke-linejoin="round"/>
<text x="431.2" y="669.3" font-size="3.2" fill="#222" font-weight="bold" font-style="normal" text-anchor="middle" textLength="49" lengthAdjust="spacingAndGlyphs" >COMMUNAUTÉ URBAINE DE BORDEAUX</text>
<text x="431.2" y="686" font-size="17" fill="#111" font-weight="bold" font-style="normal" text-anchor="middle" textLength="50" lengthAdjust="spacingAndGlyphs" stroke="#111" stroke-width="1.5">50 000</text>
<text x="431.2" y="698.2" font-size="13" fill="#111" font-weight="bold" font-style="normal" text-anchor="middle" textLength="50" lengthAdjust="spacingAndGlyphs" stroke="#111" stroke-width="1.0">LOGEMENTS</text>
<text x="431.2" y="702.2" font-size="2.8" fill="#333" font-weight="normal" font-style="normal" text-anchor="middle" textLength="47" lengthAdjust="spacingAndGlyphs" >autour des axes de transports collectifs</text></g>
<g id="boxes"><rect x="110.1" y="403.6" width="185.5" height="62" rx="5" fill="#000" opacity="0.18" filter="url(#blur)"/><rect x="108.6" y="401.6" width="185.5" height="62" rx="5" fill="#fff" stroke="#222" stroke-width="2.0"/>
<text x="189.5" y="411.8" font-size="7.6" fill="#333" font-weight="normal" font-style="italic" text-anchor="start" textLength="78" lengthAdjust="spacingAndGlyphs" >Proximité habitat / nature</text>
<line x1="142.3" y1="424" x2="142.7" y2="458.5" stroke="#1a1a1a" stroke-width="0.6" />
<line x1="146" y1="424" x2="146.4" y2="458.5" stroke="#1a1a1a" stroke-width="0.6" />
<line x1="150" y1="424" x2="150.4" y2="458.5" stroke="#1a1a1a" stroke-width="0.6" />
<line x1="154.5" y1="424" x2="154.9" y2="458.5" stroke="#1a1a1a" stroke-width="0.6" />
<line x1="158.9" y1="424" x2="159.3" y2="458.5" stroke="#1a1a1a" stroke-width="0.6" />
<line x1="162" y1="424" x2="162.4" y2="458.5" stroke="#1a1a1a" stroke-width="0.6" />
<line x1="165.3" y1="424" x2="165.7" y2="458.5" stroke="#1a1a1a" stroke-width="0.6" />
<line x1="170" y1="424" x2="170.4" y2="458.5" stroke="#1a1a1a" stroke-width="0.6" />
<line x1="123" y1="446" x2="123.4" y2="458.5" stroke="#1a1a1a" stroke-width="0.6" />
<path d="M180.9 428C181 429.2 180 430.5 179.1 431.6C178.2 432.8 176.6 434.2 175.5 434.8C174.4 435.4 173.6 435.1 172.7 435.3C171.7 435.5 170.9 435.8 170 436.1C169 436.4 168 436.8 167 437C166 437.1 164.8 437.4 163.9 437.1C163 436.7 162.4 435.3 161.4 434.9C160.5 434.6 159.5 435.5 158.4 435C157.2 434.5 155.2 433.1 154.5 431.9C153.8 430.8 154.2 429.3 154.3 428C154.3 426.7 154 425.3 154.8 424.3C155.6 423.3 157.8 422.4 158.9 421.8C159.9 421.2 160.4 420.8 161.3 420.5C162.1 420.2 163.1 420.2 164 419.9C165 419.7 166 419.2 167 419.2C168 419.2 169.1 419.6 170 419.9C170.9 420.3 171.6 420.9 172.5 421.1C173.4 421.3 174.3 420.8 175.4 421.4C176.5 422 177.9 423.4 178.9 424.5C179.8 425.6 180.9 426.8 180.9 428Z" fill="#5b7a2b" stroke="#3d561a" stroke-width="0.7" stroke-linejoin="round" />
<path d="M175.4 418.5C175.2 419.3 173 419.7 172.3 420.5C171.7 421.2 171.7 422 171.2 422.8C170.7 423.6 170 424.6 169.2 425.1C168.4 425.6 167.2 425.5 166.3 425.8C165.3 426.2 164.7 426.9 163.6 427.2C162.5 427.5 161 427.3 159.6 427.5C158.3 427.6 157 427.4 155.7 427.8C154.4 428.3 153.2 429.8 152 430.2C150.9 430.6 149.8 430.7 148.7 430.4C147.6 430.1 146.6 428.6 145.5 428.4C144.4 428.3 143.3 429.4 142.3 429.4C141.2 429.4 140.3 428.5 139.1 428.6C137.9 428.6 136.3 429.8 135 429.7C133.6 429.6 132.5 428.5 131.3 427.9C130 427.4 128.7 426.8 127.6 426.6C126.4 426.3 125.3 426.9 124.5 426.4C123.6 425.9 123.3 424.2 122.5 423.6C121.8 422.9 120.9 422.9 120 422.6C119.1 422.2 117.7 422.1 117 421.5C116.2 420.8 115.2 419.4 115.4 418.5C115.5 417.6 117.2 416.8 118 416.2C118.8 415.5 119.4 415.2 120.1 414.5C120.7 413.9 121.2 412.9 121.9 412.2C122.7 411.5 123.5 411 124.4 410.6C125.3 410.1 126.3 410.1 127.4 409.7C128.5 409.3 129.8 408.4 131.1 408.1C132.4 407.8 133.7 407.9 135.1 407.8C136.4 407.8 137.8 407.6 139 407.6C140.2 407.6 141.2 407.8 142.3 407.8C143.4 407.7 144.4 407.2 145.5 407.1C146.6 407 147.6 407.1 148.7 407.1C149.8 407.1 150.8 406.9 152 407.1C153.2 407.3 154.6 408.1 155.8 408.4C157.1 408.7 158.5 408.6 159.8 408.7C161.1 408.8 162.9 408.3 163.9 408.8C164.9 409.3 165.1 411.3 165.9 411.9C166.7 412.5 168 412.2 168.9 412.6C169.8 412.9 170.6 413.5 171.4 414C172.2 414.5 173 415 173.7 415.7C174.4 416.5 175.6 417.7 175.4 418.5Z" fill="#8ba93e" stroke="#5e8127" stroke-width="0.7" stroke-linejoin="round" />
<path d="M122 419C132 412 146 411 156 415M150 414C158 410 168 411 172 416" fill="none" stroke="#5e8127" stroke-width="0.6" stroke-linecap="round" stroke-linejoin="round" />
<path d="M133.4 441.5C133.4 442.8 133.3 444.2 132.6 445.3C132 446.4 130.7 447.1 129.5 447.9C128.4 448.7 127.1 449.5 125.7 449.8C124.3 450.2 122.6 450.3 121.3 450C119.9 449.7 118.4 448.8 117.5 447.9C116.5 447 116 445.7 115.5 444.6C115 443.6 114.5 442.6 114.5 441.5C114.4 440.4 114.8 439.3 115.3 438.2C115.8 437.1 116.3 435.6 117.3 434.9C118.3 434.1 120 434 121.4 433.8C122.8 433.5 124.3 433.2 125.7 433.3C127.1 433.5 128.6 434.1 129.7 434.8C130.9 435.5 132 436.6 132.6 437.7C133.2 438.8 133.4 440.2 133.4 441.5Z" fill="#5b7a2b" stroke="#3d561a" stroke-width="0.7" stroke-linejoin="round" />
<path d="M115 458.8l0.7 -2l0.7 2h0.9l0.7 -1.5l0.7 1.5l0.4 -0.2l0.4 0.2l0.5 -2.5l0.5 2.5l0.5 -1.9l0.5 1.9h2.5h1.5h0.9l0.7 -0.4l0.7 0.4h1.4h1.1l1 -1.6l1 1.6l0.5 -0.6l0.5 0.6l1 -0.9l1 0.9h1.9h1.3l1 -1.7l1 1.7h1.7l1.1 -2.9l1.1 2.9l0.5 -2.3l0.5 2.3h1.1h0.9h2.2l1.2 -2.1l1.2 2.1h1.9h1.6h2.5l1 -2.1l1 2.1h2l1.1 -1.2l1.1 1.2l1 -1.4l1 1.4l0.6 -0.2l0.6 0.2l1.1 -0.7l1.1 0.7h1.5l0.5 -1.6l0.5 1.6h2.4l1.2 -1.2l1.2 1.2" fill="none" stroke="#1a1a1a" stroke-width="0.5" stroke-linecap="round" stroke-linejoin="round" />
<polygon points="190.8,442 199.7,442 199.7,448.4 210,448.4 210,458.5 190.8,458.5" fill="#e5231b" stroke="#a0140f" stroke-width="0.5" stroke-linejoin="round" stroke-dasharray="1.2 0.8"/>
<polygon points="225.2,447 234.2,447 234.2,435.6 244.4,435.6 244.4,458.5 225.2,458.5" fill="#e5231b" stroke="#a0140f" stroke-width="0.5" stroke-linejoin="round" stroke-dasharray="1.2 0.8"/>
<polygon points="258.4,436.8 272.5,436.8 272.5,456 265.5,449.5 258.4,456" fill="#e5231b" stroke="#a0140f" stroke-width="0.5" stroke-linejoin="round" stroke-dasharray="1.2 0.8"/>
<line x1="215" y1="453.5" x2="215" y2="458.5" stroke="#1a1a1a" stroke-width="0.6" />
<ellipse cx="215" cy="450.5" rx="3" ry="3.2" fill="#fff" stroke="#1a1a1a" stroke-width="0.7" />
<line x1="249.5" y1="450.2" x2="249.5" y2="458.5" stroke="#1a1a1a" stroke-width="0.6" />
<ellipse cx="249.5" cy="445.8" rx="4.4" ry="4.6" fill="#fff" stroke="#1a1a1a" stroke-width="0.7" />
<line x1="284" y1="450.2" x2="284" y2="458.5" stroke="#1a1a1a" stroke-width="0.6" />
<ellipse cx="284" cy="445.8" rx="4.4" ry="4.6" fill="#fff" stroke="#1a1a1a" stroke-width="0.7" />
<path d="M184 458.8h1.2h1l0.5 -1.5l0.5 1.5h1.2h1.6l0.8 -1.2l0.8 1.2l0.5 -0l0.5 0l0.6 -1.4l0.6 1.4l0.7 -0.4l0.7 0.4l1.3 -0.9l1.3 0.9h1.5h1.4h1.7h2.4l0.5 -1.4l0.5 1.4l0.8 -1.4l0.8 1.4h1.8l1.2 -0.5l1.2 0.5l1.2 -1.1l1.2 1.1h1h2.1h2.3l0.6 -0.8l0.6 0.8l0.9 -1.4l0.9 1.4h1.7l0.6 -0l0.6 0l0.7 -0.6l0.7 0.6h1.5l1.2 -0.6l1.2 0.6h1.1l1.3 -1.1l1.3 1.1l0.7 -1.1l0.7 1.1l0.7 -0.7l0.7 0.7l0.6 -0.7l0.6 0.7h1.6l0.7 -0.1l0.7 0.1h1h1.4h1.7l1.3 -0l1.3 0l0.5 -0.9l0.5 0.9l1.1 -1.4l1.1 1.4h0.8h1.2h0.9h2.2l0.9 -1.5l0.9 1.5l0.8 -0.9l0.8 0.9h1.7l0.5 -0.9l0.5 0.9l0.8 -0.7l0.8 0.7h2.1l0.8 -0.5l0.8 0.5l0.6 -0.7l0.6 0.7h1h2.1l0.4 -0.6l0.4 0.6h1h2.2l1 -0.3l1 0.3h1.7l1 -0.9l1 0.9h2.4h2.5l0.6 -0.8l0.6 0.8l1.3 -1.4l1.3 1.4h2.3" fill="none" stroke="#1a1a1a" stroke-width="0.5" stroke-linecap="round" stroke-linejoin="round" />
<line x1="187" y1="444.5" x2="178" y2="444.5" stroke="#444" stroke-width="0.7" /><path d="M179.8 443.3L178 444.5L179.8 445.7" fill="none" stroke="#444" stroke-width="0.7" stroke-linecap="round" stroke-linejoin="round" />
<line x1="187" y1="453.5" x2="178" y2="453.5" stroke="#444" stroke-width="0.7" /><path d="M179.8 452.3L178 453.5L179.8 454.7" fill="none" stroke="#444" stroke-width="0.7" stroke-linecap="round" stroke-linejoin="round" />
<line x1="222" y1="448.5" x2="206" y2="442" stroke="#444" stroke-width="0.7" /><path d="M208.1 441.5L206 442L207.2 443.8" fill="none" stroke="#444" stroke-width="0.7" stroke-linecap="round" stroke-linejoin="round" />
<line x1="240" y1="443.5" x2="212" y2="434" stroke="#444" stroke-width="0.7" /><path d="M214.1 433.4L212 434L213.3 435.8" fill="none" stroke="#444" stroke-width="0.7" stroke-linecap="round" stroke-linejoin="round" />
<line x1="276" y1="440.5" x2="287" y2="440.5" stroke="#444" stroke-width="0.7" /><path d="M285.2 441.7L287 440.5L285.2 439.3" fill="none" stroke="#444" stroke-width="0.7" stroke-linecap="round" stroke-linejoin="round" />
<rect x="185.9" y="494.1" width="55" height="50.8" rx="4.5" fill="#000" opacity="0.18" filter="url(#blur)"/><rect x="184.4" y="492.1" width="55" height="50.8" rx="4.5" fill="#fff" stroke="#222" stroke-width="2.0"/>
<text x="178.5" y="487.5" font-size="7.6" fill="#555" font-weight="normal" font-style="italic" text-anchor="start" textLength="66" lengthAdjust="spacingAndGlyphs" >Activité pédagogique</text>
<path d="M203.9 498.9H234.3V517.5H203.9Z" fill="none" stroke="#1a1a1a" stroke-width="0.6" stroke-linecap="round" stroke-linejoin="round" />
<line x1="203.9" y1="498" x2="203.9" y2="519" stroke="#1a1a1a" stroke-width="0.8" />
<line x1="234.3" y1="498" x2="234.3" y2="519" stroke="#1a1a1a" stroke-width="0.8" />
<circle cx="209.5" cy="504.5" r="1.5" fill="#7a8a2a"/><circle cx="212" cy="504.8" r="1.5" fill="#7a8a2a"/><circle cx="209.8" cy="507" r="1.4" fill="#5b6a1a"/><circle cx="212.1" cy="507.2" r="1.4" fill="#7a8a2a"/>
<line x1="210.8" y1="508" x2="210.8" y2="516.5" stroke="#5b6a1a" stroke-width="0.7" />
<circle cx="222.5" cy="511" r="1.3" fill="#1a1a1a"/><path d="M222.5 512L220.5 524L224.5 524Z" fill="#fff" stroke="#1a1a1a" stroke-width="0.7" stroke-linecap="round" stroke-linejoin="round" />
<line x1="222" y1="512.5" x2="217.5" y2="511" stroke="#1a1a1a" stroke-width="0.6" />
<circle cx="189.8" cy="526.3" r="1.1" fill="#1a1a1a"/><path d="M189.8 527.3L188.1 537.8L191.6 537.8Z" fill="#fff" stroke="#1a1a1a" stroke-width="0.6" stroke-linecap="round" stroke-linejoin="round" />
<circle cx="195.7" cy="527.8" r="1" fill="#1a1a1a"/><path d="M195.7 528.8L194.2 537.8L197.2 537.8Z" fill="#fff" stroke="#1a1a1a" stroke-width="0.6" stroke-linecap="round" stroke-linejoin="round" />
<circle cx="201.6" cy="526.3" r="1.1" fill="#1a1a1a"/><path d="M201.6 527.3L199.9 537.8L203.4 537.8Z" fill="#fff" stroke="#1a1a1a" stroke-width="0.6" stroke-linecap="round" stroke-linejoin="round" />
<circle cx="207.5" cy="527.8" r="1" fill="#1a1a1a"/><path d="M207.5 528.8L206 537.8L209 537.8Z" fill="#fff" stroke="#1a1a1a" stroke-width="0.6" stroke-linecap="round" stroke-linejoin="round" />
<circle cx="213.4" cy="526.3" r="1.1" fill="#1a1a1a"/><path d="M213.4 527.3L211.7 537.8L215.2 537.8Z" fill="#fff" stroke="#1a1a1a" stroke-width="0.6" stroke-linecap="round" stroke-linejoin="round" />
<circle cx="219.3" cy="527.8" r="1" fill="#1a1a1a"/><path d="M219.3 528.8L217.8 537.8L220.8 537.8Z" fill="#fff" stroke="#1a1a1a" stroke-width="0.6" stroke-linecap="round" stroke-linejoin="round" />
<circle cx="225.2" cy="526.3" r="1.1" fill="#1a1a1a"/><path d="M225.2 527.3L223.5 537.8L227 537.8Z" fill="#fff" stroke="#1a1a1a" stroke-width="0.6" stroke-linecap="round" stroke-linejoin="round" />
<rect x="42.4" y="529.8" width="65.2" height="39.7" rx="4.5" fill="#000" opacity="0.18" filter="url(#blur)"/><rect x="40.9" y="527.8" width="65.2" height="39.7" rx="4.5" fill="#fff" stroke="#222" stroke-width="2.0"/>
<text x="31.6" y="523.5" font-size="7.6" fill="#555" font-weight="normal" font-style="italic" text-anchor="start" textLength="87" lengthAdjust="spacingAndGlyphs" >Diversification des espèces</text>
<path d="M96.5 538C96.5 538.8 96 539.6 95.2 540.3C94.4 541 93.2 541.8 91.8 542.2C90.3 542.7 88 542.9 86.7 543.1C85.4 543.4 84.9 543.5 84 543.5C83.1 543.5 82.6 543.2 81.3 543.2C79.9 543.2 77.3 543.8 75.8 543.4C74.4 543 73.2 541.5 72.5 540.6C71.9 539.7 72 538.8 72 538C72 537.2 72 536.2 72.7 535.6C73.4 534.9 74.9 534.6 76.3 533.9C77.7 533.2 79.8 531.8 81.1 531.5C82.4 531.2 83 532.1 84 532.1C85 532.1 85.6 531.5 86.9 531.7C88.2 532 90.5 532.8 91.9 533.4C93.3 534 94.6 534.7 95.4 535.5C96.1 536.3 96.5 537.2 96.5 538Z" fill="#8ba93e" stroke="#4a661c" stroke-width="0.9" stroke-linejoin="round" />
<path d="M98.3 553C98.2 553.8 98 554.5 97.7 555.3C97.3 556 96.9 556.9 96.3 557.6C95.6 558.2 94.6 558.7 93.6 559C92.6 559.3 91.3 559.7 90.3 559.4C89.4 559.2 88.7 558 87.9 557.3C87.2 556.7 86.2 556.3 85.8 555.5C85.5 554.8 85.6 553.9 85.6 553C85.6 552.1 85.3 551.1 85.7 550.4C86.1 549.7 87.2 549.4 88 548.8C88.8 548.3 89.5 547.2 90.4 547C91.3 546.8 92.5 547.5 93.4 547.8C94.4 548.1 95.2 548.3 96 548.8C96.8 549.2 97.9 549.7 98.2 550.4C98.6 551.1 98.4 552.2 98.3 553Z" fill="#4a6622" stroke="#2f4412" stroke-width="0.8" stroke-linejoin="round" />
<path d="M50 562.5L50.5 557L49.5 556L51 552.5L52.5 549L54 548.2L55.5 551L54.6 553L56.6 556L55.6 558L57.2 562.5" fill="none" stroke="#1a1a1a" stroke-width="0.8" stroke-linecap="round" stroke-linejoin="round" />
<path d="M44.3 562.8l0.8 -0.2l0.8 0.2l1.2 -0.8l1.2 0.8l1.2 -0.8l1.2 0.8l1 -0.6l1 0.6h2.1l1.1 -0.4l1.1 0.4h1h2.5l1.1 -1.1l1.1 1.1l0.5 -1l0.5 1l1.1 -0.1l1.1 0.1" fill="none" stroke="#1a1a1a" stroke-width="0.7" stroke-linecap="round" stroke-linejoin="round" />
<path d="M81.5 562.8l0.9 -1.7l0.9 1.7h1.2h2.3h1.1l0.7 -2.9l0.7 2.9l1.3 -2.6l1.3 2.6l0.9 -0.9l0.9 0.9h2h2" fill="none" stroke="#1a1a1a" stroke-width="0.7" stroke-linecap="round" stroke-linejoin="round" />
<line x1="68" y1="554.9" x2="77.3" y2="554.9" stroke="#333" stroke-width="0.8" /><path d="M75.5 556.1L77.3 554.9L75.5 553.7" fill="none" stroke="#333" stroke-width="0.8" stroke-linecap="round" stroke-linejoin="round" />
<rect x="326" y="469.2" width="72.9" height="46.8" rx="4.5" fill="#000" opacity="0.18" filter="url(#blur)"/><rect x="324.5" y="467.2" width="72.9" height="46.8" rx="4.5" fill="#fff" stroke="#222" stroke-width="2.0"/>
<polygon points="327.1,503.6 346,498.4 385,497.1 394.8,499 368,510.1 335.5,506.9" fill="#f6a21d" stroke="#c98210" stroke-width="0.5" stroke-linejoin="round" />
<path d="M338.1 469.8H348.6V482.1H338.1ZM341 473.2H346.6V480H341Z" fill="#fff" stroke="#1a1a1a" stroke-width="0.6" stroke-linecap="round" stroke-linejoin="round" />
<path d="M342 481L343 486H348L349.2 481Z" fill="#333" stroke="#1a1a1a" stroke-width="0.5" stroke-linecap="round" stroke-linejoin="round" />
<line x1="342.7" y1="484.7" x2="340.7" y2="500.4" stroke="#1a1a1a" stroke-width="0.7" />
<circle cx="364.8" cy="490.9" r="1.6" fill="#111"/>
<path d="M355.7 493.5V498.5M355.7 498.5L354.2 502M355.7 498.5L357.4 501.6M353.5 494.5L355.7 496L358.4 494M375.2 494V499M375.2 499L373.5 502.4M375.2 499L377.2 502M372.4 497.4L375.2 496L377.8 493.2" fill="none" stroke="#1a1a1a" stroke-width="0.9" stroke-linecap="round" stroke-linejoin="round" />
<circle cx="355.7" cy="492.6" r="0.9" fill="#111"/><circle cx="375.4" cy="493" r="0.9" fill="#111"/>
<text x="351.2" y="476.9" font-size="7.6" fill="#555" font-weight="normal" font-style="italic" text-anchor="start" textLength="41.6" lengthAdjust="spacingAndGlyphs" >Équipements</text>
<text x="360.9" y="486.7" font-size="7.6" fill="#555" font-weight="normal" font-style="italic" text-anchor="start" textLength="22.8" lengthAdjust="spacingAndGlyphs" >publics</text>
<rect x="386.8" y="403.5" width="133.1" height="62.3" rx="5" fill="#000" opacity="0.18" filter="url(#blur)"/><rect x="385.3" y="401.5" width="133.1" height="62.3" rx="5" fill="#fff" stroke="#222" stroke-width="2.0"/>
<clipPath id="c5"><rect x="386.2" y="402.4" width="131.3" height="60.5" rx="4"/></clipPath><g clip-path="url(#c5)">
<path d="M398 415V442.7M402.1 415V449.7M406.7 413.9V428.5M411.3 415.6V443.9M413.3 413V437.3M416.6 412.1V438.7M418.9 415.7V435.8M423 415.2V432.7M425 412.5V440.1M426.6 412.8V446M428.9 415.5V451.1M431.4 414.2V449.3M435.2 415.8V434.3M439 415.6V450.8M441.6 412.7V434.6M443.6 413.2V428.6M447.2 414.7V428.8M449.8 415.3V436.1M453 413.9V434.9M456.8 415.9V431.2M458.5 415.4V445.9M460.2 413.5V444.8M463.6 412.2V426.4M465.8 412.8V447.8M469.8 415.8V450.2M472.5 414.1V435.9M476.6 415V431.4M480.7 412.1V445.1M485.4 413.4V429.4M488.9 413.4V447.6M493.5 413.2V439.2M496.1 412.3V430.2M498.2 416V445.1M500.3 415.9V431M503.6 412.9V435.9M507.1 413.8V446M510 415.7V430.9M511.8 415.4V440.2M513.8 415.8V445.9" fill="none" stroke="#8c8c8c" stroke-width="0.8" stroke-linecap="round" stroke-linejoin="round" />
<polygon points="390.3,455.9 404.4,452.1 507.5,424 515,427.4 436.3,450.3 402.5,460.6 392.2,459.6" fill="#8e7f61" stroke="#6a5d44" stroke-width="0.5" stroke-linejoin="round" />
<path d="M398 456.5L500 428.5" fill="none" stroke="#6a5d44" stroke-width="0.5" stroke-linecap="round" stroke-linejoin="round" stroke-dasharray="4 3"/>
<path d="M430.1 411.5C430.1 412.6 428.1 413.8 427.5 414.8C426.9 415.9 427 417.2 426.3 417.9C425.6 418.6 424.6 419 423.4 419C422.3 419.1 420.6 418.2 419.4 418.3C418.1 418.5 417.2 419.4 416 419.9C414.7 420.4 413.3 421 412 421.2C410.7 421.3 409.2 421.1 408 420.6C406.7 420.2 405.8 418.8 404.6 418.5C403.4 418.2 401.9 418.8 400.7 418.7C399.6 418.6 398.4 418.6 397.7 417.9C397 417.3 397.3 415.9 396.5 414.8C395.8 413.7 393.2 412.7 393.1 411.5C393 410.3 395.2 408.7 396 407.8C396.9 406.9 397.7 406.8 398.4 406.3C399.2 405.7 399.7 404.6 400.7 404.4C401.8 404.1 403.5 405.1 404.6 404.7C405.8 404.3 406.7 402.2 407.9 402C409.1 401.7 410.6 403 412 403C413.4 403 414.9 401.5 416.1 401.8C417.3 402.1 418.1 404.4 419.4 404.7C420.6 405 422.5 403.4 423.5 403.7C424.6 403.9 425 405.3 425.7 406.1C426.4 406.8 426.9 407.2 427.6 408.1C428.3 409 430.1 410.4 430.1 411.5Z" fill="#4a6622" stroke="#33470f" stroke-width="0.7" stroke-linejoin="round" />
<path d="M430 408C430.1 409 429.3 410.7 428.5 411.4C427.8 412 426.5 411.6 425.6 412C424.7 412.4 424.4 413.6 423.4 414C422.4 414.3 420.9 414.2 419.6 414.2C418.4 414.2 417.2 413.6 415.9 413.9C414.7 414.1 413.3 415.4 412 415.7C410.7 415.9 409.2 415.5 408 415.2C406.7 414.9 405.7 414 404.5 413.8C403.2 413.6 401.6 414.4 400.5 414.3C399.5 414.1 398.7 413.5 398 412.9C397.3 412.3 396.7 411.4 396.2 410.6C395.7 409.8 395.1 409 395 408C394.8 407 395 405.5 395.5 404.7C396 403.9 397.1 403.4 398 403.2C398.9 403 400 403.7 401.1 403.4C402.1 403.2 403.2 401.9 404.3 401.5C405.5 401.2 406.7 401.4 408 401.4C409.3 401.4 410.7 401.4 412 401.4C413.3 401.4 414.7 401.2 416 401.4C417.2 401.7 418.3 402.3 419.5 402.7C420.6 403 421.9 403.2 422.9 403.4C424 403.6 424.7 403.8 425.6 404.1C426.4 404.4 427 404.8 427.8 405.4C428.5 406.1 429.9 407 430 408Z" fill="#8ba93e" stroke="none" stroke-width="0.7" stroke-linejoin="round" />
<path d="M462.3 410.5C462.5 411.8 461.5 413.8 460.8 414.8C460.2 415.8 459.3 416.3 458.4 416.6C457.5 416.9 456.3 416.4 455.2 416.6C454.2 416.9 453.2 417.9 452.1 418.2C451.1 418.6 449.9 418.7 448.7 418.8C447.5 419 446.3 419 445 419.1C443.7 419.3 442.4 419.8 441.2 419.6C440 419.3 439.1 418.2 437.9 417.9C436.8 417.5 435.4 417.8 434.5 417.4C433.6 417 433.2 415.9 432.4 415.4C431.7 414.9 430.6 415 430 414.2C429.4 413.4 428.9 411.8 428.8 410.5C428.7 409.2 429.1 407.5 429.6 406.5C430 405.5 430.8 405 431.6 404.3C432.3 403.7 433 402.9 434.1 402.7C435.1 402.5 436.8 403.4 437.9 403.1C439.1 402.8 439.9 401.1 441.1 400.9C442.3 400.8 443.7 401.9 445 402.1C446.3 402.3 447.5 402.1 448.7 402C450 401.9 451.4 401.2 452.5 401.6C453.5 401.9 454.3 403.7 455.3 404.1C456.4 404.5 457.9 403.6 458.6 404.1C459.3 404.6 459 406.1 459.6 407.1C460.2 408.2 462.1 409.2 462.3 410.5Z" fill="#4a6622" stroke="#33470f" stroke-width="0.7" stroke-linejoin="round" />
<path d="M462.5 407C462.5 408 461 409.2 460.3 410C459.6 410.8 459.1 411.6 458.3 411.9C457.4 412.2 456.4 411.6 455.4 411.9C454.4 412.2 453.4 413.4 452.3 413.7C451.2 414 450 413.8 448.8 413.7C447.6 413.6 446.3 412.9 445 413C443.7 413 442.4 414.2 441.2 414C440 413.9 439.1 412.6 438 412.2C436.9 411.9 435.5 412.2 434.5 412C433.6 411.9 432.9 411.5 432.1 411.2C431.3 410.8 430.5 410.6 429.9 409.9C429.2 409.2 428.2 408 428.2 407C428.1 406 428.8 404.3 429.5 403.8C430.2 403.2 431.7 404 432.5 403.6C433.3 403.2 433.4 401.6 434.3 401.3C435.3 401 436.8 401.9 438 401.8C439.2 401.7 440.1 401.3 441.3 400.9C442.5 400.4 443.7 399.4 445 399.2C446.3 399 447.6 399.4 448.8 399.7C450 400 451.1 400.4 452.2 400.8C453.3 401.2 454.4 401.9 455.4 402.1C456.4 402.4 457.5 401.8 458.3 402.2C459 402.5 459.4 403.3 460.1 404.1C460.9 404.9 462.5 406 462.5 407Z" fill="#8ba93e" stroke="none" stroke-width="0.7" stroke-linejoin="round" />
<path d="M491.7 412C491.7 413.7 491.9 416 491.4 417.1C490.9 418.3 489.4 418.2 488.5 418.8C487.7 419.4 487.3 420.5 486.3 420.8C485.3 421.1 483.7 420.5 482.6 420.7C481.5 420.9 480.6 421.7 479.5 421.8C478.4 421.9 477.2 421.1 476 421.3C474.8 421.5 473.4 423.2 472.3 423.2C471.2 423.2 470.3 421.7 469.2 421.4C468 421.1 466.5 421.6 465.5 421.2C464.5 420.8 464 419.7 463.4 418.9C462.7 418.1 462.3 417.7 461.6 416.5C460.8 415.4 459 413.6 458.9 412C458.8 410.4 460.1 408.1 461 407.1C461.8 406.1 463.2 406.4 464 405.9C464.9 405.4 465.2 404.5 466.1 403.9C466.9 403.3 468 402.5 469 402.1C470.1 401.8 471.3 401.9 472.5 402C473.6 402 474.8 402.7 476 402.5C477.2 402.3 478.6 400.4 479.7 400.6C480.8 400.8 481.5 402.9 482.5 403.5C483.6 404.1 484.8 403.9 485.8 404.2C486.7 404.5 487.5 404.9 488.4 405.3C489.3 405.8 490.6 405.9 491.1 407C491.7 408.1 491.6 410.3 491.7 412Z" fill="#4a6622" stroke="#33470f" stroke-width="0.7" stroke-linejoin="round" />
<path d="M491 408.5C491.3 409.7 491.6 411.9 491.1 412.7C490.6 413.5 488.8 412.9 487.9 413.3C487.1 413.7 486.9 414.9 486 415.2C485.1 415.5 483.6 414.8 482.5 415.1C481.5 415.4 480.7 416.8 479.6 417C478.5 417.1 477.2 415.9 476 415.9C474.8 416 473.4 417.6 472.4 417.5C471.3 417.3 470.5 415.4 469.5 415C468.4 414.6 467 415.4 466 415.3C465 415.2 464.2 414.7 463.5 414.2C462.7 413.7 461.9 413.3 461.3 412.4C460.8 411.4 460.3 409.9 460.3 408.5C460.2 407.1 460.3 405.2 460.8 404.3C461.4 403.4 462.9 403.7 463.7 403.1C464.5 402.6 464.8 401.4 465.6 401C466.5 400.5 467.9 400.4 469 400.2C470.1 400 471.2 399.6 472.4 399.6C473.5 399.5 474.8 399.6 476 399.7C477.2 399.7 478.5 399.4 479.6 399.8C480.7 400.1 481.6 401.3 482.6 401.6C483.7 401.9 485.2 401.3 486 401.7C486.9 402.1 487.2 403.3 487.8 403.9C488.4 404.5 489.2 404.5 489.8 405.3C490.3 406 490.8 407.3 491 408.5Z" fill="#8ba93e" stroke="none" stroke-width="0.7" stroke-linejoin="round" />
<path d="M519.1 409.5C519.1 410.5 516.7 411.5 515.9 412.4C515 413.3 514.9 414.3 514.1 414.8C513.3 415.3 512.3 415.3 511.3 415.4C510.2 415.6 508.8 415.6 507.5 415.7C506.3 415.8 505.2 415.9 503.9 416.1C502.7 416.3 501.3 416.8 500 416.9C498.7 417 497.3 416.8 496 416.8C494.7 416.9 493.4 417.4 492.2 417.2C490.9 417 489.7 416 488.7 415.5C487.7 415 486.9 414.9 486.1 414.3C485.4 413.8 485.1 413 484.4 412.2C483.7 411.4 482.1 410.4 482.1 409.5C482.1 408.6 483.5 407.4 484.2 406.7C484.9 405.9 485.5 405.4 486.2 404.8C486.9 404.2 487.5 403.1 488.5 402.9C489.6 402.7 491.3 403.7 492.6 403.7C493.8 403.7 494.8 403.3 496.1 403C497.3 402.6 498.7 402.2 500 401.9C501.3 401.6 502.8 401 504.1 401.2C505.4 401.4 506.4 402.5 507.6 402.9C508.8 403.3 510.3 403.2 511.2 403.6C512.2 404.1 512.6 405.1 513.4 405.5C514.2 406 515.1 405.7 516 406.4C517 407.1 519.1 408.5 519.1 409.5Z" fill="#4a6622" stroke="#33470f" stroke-width="0.7" stroke-linejoin="round" />
<path d="M517.8 406C517.7 406.7 516.4 407.2 515.7 407.8C515.1 408.3 514.5 409.1 513.8 409.4C513 409.8 512.2 409.8 511.1 409.9C510.1 410 508.7 409.7 507.5 410C506.3 410.2 505.3 411.2 504 411.3C502.8 411.5 501.3 411 500 410.9C498.7 410.8 497.3 411 496 410.9C494.8 410.8 493.7 410.1 492.5 410.1C491.2 410.2 489.6 411.2 488.6 411.2C487.5 411.2 486.7 410.6 486 410C485.3 409.4 485 408.3 484.4 407.6C483.8 406.9 482.6 406.7 482.5 406C482.3 405.3 482.8 403.7 483.5 403.2C484.1 402.8 485.6 403.5 486.5 403.1C487.3 402.7 487.6 401.4 488.6 401.1C489.6 400.7 491.1 401 492.3 400.9C493.6 400.8 494.7 400.7 496 400.5C497.3 400.4 498.7 400.2 500 400.1C501.3 400 502.8 399.7 504.1 399.9C505.3 400.1 506.4 400.8 507.6 401.2C508.8 401.5 510.1 401.8 511.2 402C512.2 402.2 513 402 513.9 402.3C514.7 402.6 515.4 403.3 516 403.9C516.7 404.5 517.8 405.3 517.8 406Z" fill="#8ba93e" stroke="none" stroke-width="0.7" stroke-linejoin="round" />
</g>
<circle cx="443.8" cy="431.8" r="1.1" fill="#444"/><path d="M443.8 432.8L442.1 442.8L445.5 442.8Z" fill="#fff" stroke="#444" stroke-width="0.6" stroke-linecap="round" stroke-linejoin="round" />
<circle cx="448.5" cy="437" r="0.8" fill="#444"/><path d="M448.5 438L447.5 443L449.5 443Z" fill="#fff" stroke="#444" stroke-width="0.5" stroke-linecap="round" stroke-linejoin="round" />
<circle cx="457.8" cy="437.8" r="1.6" fill="none" stroke="#333" stroke-width="0.6"/><circle cx="462" cy="436.6" r="1.6" fill="none" stroke="#333" stroke-width="0.6"/>
<path d="M458 437.5L460 433.5L462 436.5M460 433.5L459.4 431.6" fill="none" stroke="#333" stroke-width="0.7" stroke-linecap="round" stroke-linejoin="round" />
<circle cx="459.6" cy="431" r="0.8" fill="#333"/>
<text x="445.6" y="459.3" font-size="7.6" fill="#555" font-weight="normal" font-style="italic" text-anchor="start" textLength="66.6" lengthAdjust="spacingAndGlyphs" >Promenade de la CUB</text>
<rect x="533.5" y="457.4" width="170.7" height="62.9" rx="5" fill="#000" opacity="0.18" filter="url(#blur)"/><rect x="532" y="455.4" width="170.7" height="62.9" rx="5" fill="#fff" stroke="#222" stroke-width="2.0"/>
<text x="550" y="464.4" font-size="7.6" fill="#333" font-weight="normal" font-style="italic" text-anchor="start" textLength="77.8" lengthAdjust="spacingAndGlyphs" >Diversification de la forêt</text>
<line x1="548.5" y1="488" x2="547.9" y2="508.4" stroke="#1a1a1a" stroke-width="0.55" />
<line x1="552.5" y1="488" x2="551.9" y2="508.4" stroke="#1a1a1a" stroke-width="0.55" />
<line x1="557.4" y1="488" x2="556.8" y2="508.4" stroke="#1a1a1a" stroke-width="0.55" />
<line x1="561" y1="488" x2="560.4" y2="508.4" stroke="#1a1a1a" stroke-width="0.55" />
<line x1="565" y1="488" x2="564.4" y2="508.4" stroke="#1a1a1a" stroke-width="0.55" />
<line x1="569" y1="488" x2="568.4" y2="508.4" stroke="#1a1a1a" stroke-width="0.55" />
<line x1="574" y1="488" x2="573.4" y2="508.4" stroke="#1a1a1a" stroke-width="0.55" />
<line x1="578.5" y1="488" x2="577.9" y2="508.4" stroke="#1a1a1a" stroke-width="0.55" />
<line x1="583" y1="488" x2="582.4" y2="508.4" stroke="#1a1a1a" stroke-width="0.55" />
<line x1="587" y1="488" x2="586.4" y2="508.4" stroke="#1a1a1a" stroke-width="0.55" />
<line x1="590.4" y1="488" x2="589.8" y2="508.4" stroke="#1a1a1a" stroke-width="0.55" />
<line x1="595" y1="488" x2="594.4" y2="508.4" stroke="#1a1a1a" stroke-width="0.55" />
<line x1="599.4" y1="488" x2="598.8" y2="508.4" stroke="#1a1a1a" stroke-width="0.55" />
<line x1="603" y1="488" x2="602.4" y2="508.4" stroke="#1a1a1a" stroke-width="0.55" />
<line x1="606.9" y1="488" x2="606.3" y2="508.4" stroke="#1a1a1a" stroke-width="0.55" />
<path d="M618.8 484.5C618.8 485.2 618.1 486 617 486.5C615.8 487 613.3 487.2 611.9 487.7C610.5 488.2 609.6 489 608.4 489.4C607.2 489.8 605.7 490 604.5 490.2C603.4 490.3 602.3 490.1 601.3 490.4C600.2 490.6 599.2 491.5 598.1 491.6C597 491.8 595.9 491.4 594.7 491.3C593.5 491.2 592.2 491.3 591 491.2C589.7 491.2 588.5 490.8 587.2 491.1C586 491.3 584.8 492.6 583.6 492.8C582.3 493 580.9 492.4 579.6 492.4C578.3 492.4 577 493 575.8 492.8C574.5 492.6 573.1 491.5 571.9 491.2C570.6 491 569.4 491.1 568.2 491.3C566.9 491.5 565.6 492.7 564.3 492.5C563.1 492.4 561.9 490.7 560.8 490.3C559.6 489.8 558.6 489.9 557.5 489.9C556.4 489.9 555.3 490.2 554.2 490.2C553.1 490.2 552.1 489.9 550.9 489.9C549.7 489.9 548.2 490.2 546.9 490.1C545.5 490 544.3 490.2 542.9 489.6C541.5 489 539.6 487.4 538.4 486.6C537.2 485.7 535.8 485.3 535.7 484.5C535.7 483.7 536.8 482.6 538 481.8C539.2 481 541.6 480.4 543 479.9C544.5 479.4 545.5 478.8 546.8 478.6C548.1 478.4 549.6 478.8 550.8 478.8C552.1 478.7 553 478.3 554.1 478.3C555.2 478.3 556.4 478.9 557.5 478.8C558.6 478.7 559.5 477.9 560.7 477.7C561.8 477.5 563.2 477.9 564.4 477.8C565.7 477.7 566.9 477.3 568.1 477.3C569.4 477.2 570.6 477.5 571.9 477.4C573.1 477.4 574.5 477.1 575.8 477C577.1 476.8 578.4 476.4 579.6 476.6C580.9 476.8 582.2 477.9 583.5 478.2C584.8 478.5 586 478.4 587.2 478.4C588.5 478.4 589.7 478.3 591 478.2C592.2 478.2 593.5 478.2 594.7 478.1C595.9 478 596.9 477.7 598.1 477.7C599.2 477.6 600.3 477.7 601.3 477.9C602.4 478 603.4 478.2 604.6 478.4C605.8 478.5 607.3 478.3 608.6 478.7C609.8 479.2 610.6 480.4 612 481C613.4 481.6 616 481.6 617.2 482.2C618.3 482.8 618.8 483.8 618.8 484.5Z" fill="#8ba93e" stroke="#5e8127" stroke-width="0.7" stroke-linejoin="round" />
<path d="M538 488C548 493 560 492 572 493S600 493 616 488" fill="none" stroke="#5e8127" stroke-width="0.7" stroke-linecap="round" stroke-linejoin="round" />
<path d="M538 508.6h1.7l1 -0l1 0l0.7 -1l0.7 1h2h1.8l0.5 -0.2l0.5 0.2l1.2 -1l1.2 1h0.9l0.7 -1l0.7 1l0.4 -1.1l0.4 1.1l0.9 -1.2l0.9 1.2l1.3 -0.5l1.3 0.5l0.5 -0.7l0.5 0.7h1.1l0.4 -1l0.4 1l0.8 -0.7l0.8 0.7l0.8 -0l0.8 0h2.1h2.6l0.7 -0.8l0.7 0.8l1 -0.3l1 0.3h1.5h2.3h0.9h1.6l0.6 -0.5l0.6 0.5l1.1 -0.7l1.1 0.7h1.1l0.4 -0.4l0.4 0.4l1 -0.6l1 0.6l0.6 -0.6l0.6 0.6h2.5l1.3 -1.1l1.3 1.1l0.7 -0.9l0.7 0.9l1.2 -0.3l1.2 0.3l1.1 -0.3l1.1 0.3l0.4 -0.7l0.4 0.7h2.6l0.9 -0.4l0.9 0.4h2.2l1 -0.6l1 0.6h1.7h1.3" fill="none" stroke="#1a1a1a" stroke-width="0.5" stroke-linecap="round" stroke-linejoin="round" />
<line x1="614.3" y1="503.9" x2="623.3" y2="503.9" stroke="#333" stroke-width="0.8" /><path d="M621.5 505.1L623.3 503.9L621.5 502.7" fill="none" stroke="#333" stroke-width="0.8" stroke-linecap="round" stroke-linejoin="round" />
<line x1="651" y1="486" x2="651.4" y2="509.5" stroke="#1a1a1a" stroke-width="0.55" />
<line x1="656" y1="486" x2="656.4" y2="509.5" stroke="#1a1a1a" stroke-width="0.55" />
<line x1="663" y1="486" x2="663.4" y2="509.5" stroke="#1a1a1a" stroke-width="0.55" />
<line x1="669" y1="486" x2="669.4" y2="509.5" stroke="#1a1a1a" stroke-width="0.55" />
<line x1="676" y1="486" x2="676.4" y2="509.5" stroke="#1a1a1a" stroke-width="0.55" />
<line x1="684" y1="486" x2="684.4" y2="509.5" stroke="#1a1a1a" stroke-width="0.55" />
<line x1="690" y1="486" x2="690.4" y2="509.5" stroke="#1a1a1a" stroke-width="0.55" />
<line x1="695" y1="486" x2="695.4" y2="509.5" stroke="#1a1a1a" stroke-width="0.55" />
<path d="M667.5 482.5C667.5 483.3 666.3 484.1 665.3 484.9C664.3 485.7 662.5 486.7 661.3 487.1C660.1 487.5 659.2 487.1 658.2 487.5C657.2 487.9 656.5 489.2 655.4 489.6C654.3 490 652.9 489.7 651.7 489.8C650.4 489.9 649.2 490.2 648 490.2C646.8 490.2 645.5 490.1 644.3 489.8C643.1 489.5 641.9 488.6 640.8 488.5C639.7 488.4 638.5 489.1 637.5 488.9C636.4 488.7 635.8 487.9 634.6 487.4C633.4 486.8 631.1 486.4 630.1 485.6C629.1 484.8 628.5 483.5 628.6 482.5C628.6 481.5 629.3 480.4 630.4 479.7C631.4 479 633.6 478.6 634.8 478.2C636.1 477.7 636.7 477.5 637.7 477C638.7 476.5 639.5 475.4 640.6 475.1C641.7 474.8 643.1 475.4 644.3 475.3C645.6 475.3 646.8 474.6 648 474.8C649.2 475 650.4 476.2 651.6 476.5C652.8 476.8 654.1 476.5 655.2 476.6C656.3 476.8 657.2 477.1 658.2 477.4C659.2 477.6 660 477.7 661.2 478.2C662.4 478.6 664.2 479.5 665.2 480.2C666.3 480.9 667.5 481.7 667.5 482.5Z" fill="#8ba93e" stroke="#5e8127" stroke-width="0.7" stroke-linejoin="round" />
<path d="M704.3 483.5C704.3 484.3 702.9 485.1 702 485.9C701.1 486.7 699.8 487.8 698.8 488.2C697.8 488.6 697 488 696.2 488.4C695.4 488.7 694.9 490 694 490.4C693.2 490.8 692 490.8 691 490.7C690 490.7 689 490.2 688 490C687 489.9 686.1 489.9 685.1 489.9C684.1 490 682.9 490.5 682 490.4C681.1 490.2 680.5 489.1 679.7 488.9C678.8 488.6 677.9 489.1 676.9 488.6C676 488.1 675 486.7 674.1 485.8C673.2 484.9 671.9 484.4 671.7 483.5C671.6 482.6 672.3 481.2 673.3 480.4C674.2 479.7 676.4 479.8 677.4 479.3C678.4 478.8 678.7 478 679.5 477.5C680.2 477.1 681 476.6 682 476.6C682.9 476.5 684.1 477.3 685.1 477.4C686.1 477.4 687 477 688 476.8C689 476.5 690 476 691 476.1C692 476.1 693 476.8 693.9 477.1C694.8 477.5 695.5 478 696.4 478.1C697.2 478.2 698.3 477.5 699.3 478C700.2 478.4 701.3 480.1 702.1 481C702.9 482 704.3 482.7 704.3 483.5Z" fill="#8ba93e" stroke="#5e8127" stroke-width="0.7" stroke-linejoin="round" />
<path d="M686.7 475C686.8 476 688.5 477.1 688.4 478C688.4 478.9 686.7 479.4 686.2 480.3C685.8 481.2 686.5 482.6 686 483.3C685.5 484 683.6 483.6 683 484.4C682.4 485.1 683 487.2 682.3 487.7C681.7 488.2 680 487.3 679.1 487.5C678.2 487.6 677.6 488.2 676.8 488.4C676 488.6 675.1 488.7 674.3 488.5C673.5 488.4 672.9 487.6 672 487.7C671.1 487.7 669.8 489 668.9 488.9C668 488.8 667.3 487.7 666.7 487.1C666.1 486.4 665.8 485.5 665.1 484.8C664.5 484.2 663.5 483.8 662.8 483.1C662.2 482.4 661.7 481.6 661.3 480.7C660.9 479.8 660.6 478.8 660.7 477.9C660.7 476.9 661.4 475.9 661.7 475C661.9 474.1 662.1 473.3 662.2 472.4C662.3 471.5 662.4 470.7 662.5 469.7C662.6 468.8 662.2 467.5 662.7 466.8C663.2 466.1 664.8 466.1 665.5 465.5C666.2 464.9 666.4 464 667 463.3C667.5 462.5 668.1 461.5 668.9 461.1C669.7 460.7 670.8 461.2 671.7 461C672.6 460.9 673.4 460.6 674.3 460.4C675.2 460.3 676.2 459.9 677.1 460.2C677.9 460.4 678.6 461.4 679.4 461.8C680.2 462.3 681.1 462.5 681.9 463C682.6 463.5 683.3 464.1 683.7 464.9C684.2 465.7 684 466.9 684.4 467.7C684.9 468.5 685.9 468.9 686.4 469.6C687 470.4 687.5 471.3 687.5 472.2C687.5 473.1 686.5 474 686.7 475Z" fill="#5b7a2b" stroke="#3d561a" stroke-width="0.7" stroke-linejoin="round" />
<path d="M669.4 492C669.4 493.2 669 494.4 668.4 495.5C667.8 496.5 667.1 497.6 666.1 498.4C665.2 499.1 663.9 499.6 662.7 499.9C661.5 500.2 660.1 500.3 658.9 500C657.7 499.6 656.7 498.7 655.7 498C654.7 497.3 653.4 496.7 652.8 495.7C652.3 494.7 652.7 493.3 652.6 492C652.6 490.7 652 489.2 652.4 488.1C652.9 487 654.3 486.2 655.3 485.5C656.4 484.8 657.6 484.2 658.9 483.9C660.1 483.6 661.7 483.2 662.8 483.6C664 483.9 664.8 485.3 665.8 486.1C666.8 486.9 668.1 487.4 668.7 488.4C669.3 489.4 669.5 490.8 669.4 492Z" fill="#4a6622" stroke="#33470f" stroke-width="0.7" stroke-linejoin="round" />
<path d="M681 494C680.9 494.8 680.5 495.6 680.2 496.2C679.8 496.9 679.3 497.3 678.8 497.9C678.3 498.4 677.8 499.4 677.2 499.6C676.5 499.8 675.7 499.3 675 499.1C674.3 498.8 673.6 498.6 673 498.1C672.5 497.7 672.1 497 671.7 496.3C671.3 495.6 670.6 494.8 670.5 494C670.4 493.2 670.6 492.1 671 491.4C671.4 490.7 672.1 490 672.8 489.6C673.5 489.2 674.2 489.1 675 488.9C675.7 488.7 676.5 488.2 677.2 488.3C677.9 488.5 678.5 489.2 679.1 489.7C679.7 490.2 680.4 490.8 680.7 491.5C681 492.2 681.1 493.2 681 494Z" fill="#4a6622" stroke="#33470f" stroke-width="0.7" stroke-linejoin="round" />
<path d="M628 510h1.1l0.7 -1.6l0.7 1.6h1.7l0.8 -0.8l0.8 0.8l1 -2.2l1 2.2h2.2l1.2 -0.8l1.2 0.8h2.1h1.2h2.4l0.6 -0l0.6 0l1.3 -2.3l1.3 2.3h1.8h1.7l0.9 -0.4l0.9 0.4h1.7h1.1l1 -0.7l1 0.7l1 -1.3l1 1.3l0.8 -2.3l0.8 2.3h1.9h1.4h2.3l0.5 -0.5l0.5 0.5h0.9l0.9 -2.9l0.9 2.9h1.9h2.3h1.7h1h2.4l1.1 -1.3l1.1 1.3l0.6 -2.2l0.6 2.2l0.5 -2.7l0.5 2.7l0.7 -3.2l0.7 3.2l0.9 -1.8l0.9 1.8l0.5 -2.4l0.5 2.4l1 -1.6l1 1.6h1.8h1l1.1 -1.3l1.1 1.3h1.9h1.5l1.2 -0.6l1.2 0.6" fill="none" stroke="#1a1a1a" stroke-width="0.5" stroke-linecap="round" stroke-linejoin="round" />
<path d="M636 508C637 504 640 503 641.5 505.5C643 502.5 646.5 502.5 647.5 506C649 504 651 505 651 508" fill="none" stroke="#1a1a1a" stroke-width="0.6" stroke-linecap="round" stroke-linejoin="round" />
<rect x="581.3" y="657.3" width="101.6" height="48.7" rx="4.5" fill="#000" opacity="0.18" filter="url(#blur)"/><rect x="579.8" y="655.3" width="101.6" height="48.7" rx="4.5" fill="#fff" stroke="#222" stroke-width="2.0"/>
<text x="598.6" y="651.3" font-size="7.6" fill="#555" font-weight="normal" font-style="italic" text-anchor="start" textLength="79.6" lengthAdjust="spacingAndGlyphs" >Développement de filière</text>
<line x1="608.7" y1="674" x2="608.7" y2="698" stroke="#aaa" stroke-width="0.7" />
<line x1="622" y1="689" x2="622" y2="695.5" stroke="#1a1a1a" stroke-width="0.7" />
<line x1="595" y1="691" x2="595" y2="695.5" stroke="#1a1a1a" stroke-width="0.7" />
<path d="M603.7 683.5C603.6 684.9 602.7 686.2 602.1 687.4C601.5 688.5 600.8 689.7 600 690.5C599.1 691.4 598 692.1 596.8 692.5C595.7 692.9 594.2 693.3 593.1 692.9C592 692.5 591 691.3 590.2 690.3C589.4 689.4 588.6 688.4 588.1 687.3C587.5 686.2 586.9 684.8 586.8 683.5C586.7 682.2 587.2 680.8 587.6 679.5C588.1 678.3 588.7 677 589.6 676C590.5 675 591.8 674 593 673.8C594.2 673.5 595.7 673.9 596.9 674.3C598 674.8 599 675.6 600 676.4C601 677.2 602.4 678.1 603 679.2C603.6 680.4 603.9 682.1 603.7 683.5Z" fill="#5b7a2b" stroke="#3d561a" stroke-width="0.7" stroke-linejoin="round" />
<path d="M630.5 680C630.7 681.5 631.2 683.2 630.9 684.6C630.6 686.1 629.7 687.8 628.6 688.5C627.6 689.3 625.9 688.9 624.6 689.2C623.3 689.5 622.2 690.6 621 690.4C619.8 690.3 618.3 689.4 617.5 688.4C616.6 687.4 616.3 685.7 615.8 684.3C615.4 682.9 614.5 681.4 614.6 680C614.6 678.6 615.7 677.2 616.2 675.8C616.7 674.4 616.7 672.6 617.6 671.7C618.4 670.9 620.2 671.1 621.4 670.8C622.6 670.4 623.8 669.5 624.9 669.8C626 670 627.2 671.1 628 672.1C628.8 673.1 629.3 674.5 629.7 675.8C630.2 677.1 630.3 678.5 630.5 680Z" fill="#5b7a2b" stroke="#3d561a" stroke-width="0.7" stroke-linejoin="round" />
<path d="M622.8 666C622.7 667 622.6 668 621.8 668.9C620.9 669.8 618.8 670.9 617.6 671.4C616.4 672 615.4 671.6 614.4 672.1C613.4 672.5 612.7 673.8 611.5 674.1C610.4 674.4 609 673.8 607.7 673.7C606.5 673.7 605.2 673.6 604 673.6C602.8 673.5 601.6 673.3 600.3 673.3C599.1 673.3 597.7 673.5 596.6 673.5C595.4 673.5 594.3 673.6 593.2 673.3C592.1 673.1 591.2 672.8 590.1 672C589 671.2 587.7 669.6 586.6 668.6C585.6 667.6 583.9 667 583.8 666C583.6 665 584.6 663.5 585.8 662.6C586.9 661.7 589.3 661.4 590.6 660.9C591.8 660.3 592.4 659.7 593.3 659.1C594.3 658.6 595.3 658.1 596.4 657.8C597.6 657.6 599 657.6 600.2 657.7C601.5 657.8 602.7 658.4 604 658.4C605.3 658.4 606.5 657.8 607.8 657.7C609 657.7 610.4 657.9 611.5 658.2C612.6 658.5 613.6 659 614.6 659.5C615.6 659.9 616.3 660.1 617.5 660.6C618.8 661.2 621.2 661.9 622 662.8C622.9 663.7 622.8 665 622.8 666Z" fill="#8ba93e" stroke="#5e8127" stroke-width="0.7" stroke-linejoin="round" />
<path d="M586 664C594 658 612 657 619 665C621 668 622 671 622.5 674" fill="none" stroke="#5e8127" stroke-width="0.7" stroke-linecap="round" stroke-linejoin="round" />
<line x1="586.8" y1="695.5" x2="628.3" y2="695.5" stroke="#666" stroke-width="0.6" />
<line x1="633.7" y1="691.6" x2="643.1" y2="691.6" stroke="#444" stroke-width="0.9" /><path d="M641.1 693L643.1 691.6L641.1 690.2" fill="none" stroke="#444" stroke-width="0.9" stroke-linecap="round" stroke-linejoin="round" />
<polygon points="653.7,699.2 659.7,689.2 665.5,687.7 676.7,694.6 673.7,697.7 660.7,700.2" fill="#5a4836" stroke="#3a2e22" stroke-width="0.5" stroke-linejoin="round" /><circle cx="654.9" cy="698.2" r="1.5" fill="#e8e2d8" stroke="#3a2e22" stroke-width="0.5"/><circle cx="658.3" cy="698.6" r="1.5" fill="#e8e2d8" stroke="#3a2e22" stroke-width="0.5"/><circle cx="661.7" cy="699" r="1.5" fill="#e8e2d8" stroke="#3a2e22" stroke-width="0.5"/><circle cx="656.7" cy="695.2" r="1.5" fill="#e8e2d8" stroke="#3a2e22" stroke-width="0.5"/><circle cx="660.1" cy="695.6" r="1.5" fill="#e8e2d8" stroke="#3a2e22" stroke-width="0.5"/><circle cx="658.5" cy="692.2" r="1.5" fill="#e8e2d8" stroke="#3a2e22" stroke-width="0.5"/><line x1="660.7" y1="690.7" x2="673.7" y2="693.3" stroke="#8a7458" stroke-width="0.5" /><line x1="662.2" y1="692.9" x2="673.2" y2="695.3" stroke="#8a7458" stroke-width="0.5" /><line x1="663.7" y1="695.1" x2="672.7" y2="697.3" stroke="#8a7458" stroke-width="0.5" />
<rect x="74.6" y="708" width="128.3" height="66.8" rx="5" fill="#000" opacity="0.18" filter="url(#blur)"/><rect x="73.1" y="706" width="128.3" height="66.8" rx="5" fill="#fff" stroke="#222" stroke-width="2.0"/>
<text x="76.9" y="719.7" font-size="7.8" fill="#222" font-weight="normal" font-style="italic" text-anchor="start" textLength="61.3" lengthAdjust="spacingAndGlyphs" >Nature structurante</text>
<path d="M140.2 712.5L141.2 715L143.4 710.5M147 717L147.7 718.6L148.8 716.8" fill="none" stroke="#333" stroke-width="0.7" stroke-linecap="round" stroke-linejoin="round" />
<polygon points="83.3,740.3 107.6,740.3 107.6,747.8 116.3,747.8 116.3,765.6 83.3,765.6" fill="#7d6a46" stroke="#4a3e28" stroke-width="0.5" stroke-linejoin="round" /><polygon points="81,740.8 95,732.8 109.9,740.8" fill="#7d6a46" stroke="none" stroke-width="0" stroke-linejoin="round" /><path d="M81 741.1L95 732.8L109.9 741.1" fill="none" stroke="#2a2318" stroke-width="1.2" stroke-linecap="round" stroke-linejoin="round" />
<polygon points="167.8,747 192,747 192,764.7 167.8,764.7" fill="#7d6a46" stroke="#4a3e28" stroke-width="0.5" stroke-linejoin="round" /><polygon points="165.8,747.5 179.4,739.4 194,747.5" fill="#7d6a46" stroke="none" stroke-width="0" stroke-linejoin="round" /><path d="M165.8 747.8L179.4 739.4L194 747.8" fill="none" stroke="#2a2318" stroke-width="1.2" stroke-linecap="round" stroke-linejoin="round" />
<line x1="152.3" y1="736" x2="152.3" y2="764" stroke="#1a1a1a" stroke-width="0.6" />
<line x1="153.6" y1="736" x2="153.6" y2="764" stroke="#1a1a1a" stroke-width="0.5" />
<line x1="132.6" y1="748" x2="132.6" y2="765" stroke="#1a1a1a" stroke-width="0.6" />
<path d="M164.8 729C164.8 730 164.4 730.9 163.6 731.8C162.8 732.7 160.9 733.7 159.9 734.5C158.9 735.3 158.4 736.2 157.5 736.6C156.6 736.9 155.5 736.6 154.4 736.7C153.3 736.8 152.1 737.2 151 737.3C149.8 737.4 148.7 737.4 147.5 737.5C146.3 737.5 145.2 737.8 144 737.8C142.8 737.7 141.6 737.6 140.5 737.3C139.5 737 138.7 736.3 137.7 736C136.7 735.7 135.7 736 134.6 735.4C133.4 734.8 131.8 733.4 130.8 732.3C129.8 731.2 128.8 730.2 128.7 729C128.7 727.8 129.3 726.3 130.4 725.3C131.4 724.4 133.7 723.8 134.9 723.3C136.1 722.7 136.7 722.3 137.7 721.9C138.6 721.6 139.5 721.3 140.6 721.2C141.7 721 142.9 721.3 144.1 721.2C145.2 721 146.3 720.5 147.5 720.3C148.7 720.1 149.9 719.9 151 720.1C152.1 720.3 153.3 721.2 154.3 721.6C155.3 721.9 156.3 721.9 157.3 722.2C158.2 722.5 159 722.6 160.1 723.2C161.2 723.8 163.2 724.9 164 725.9C164.8 726.8 164.9 728 164.8 729Z" fill="#8ba93e" stroke="#3f5a17" stroke-width="0.9" stroke-linejoin="round" />
<path d="M140.7 743C140.7 743.8 140.1 744.6 139.5 745.5C138.8 746.4 138.1 748 136.8 748.5C135.5 749 133.5 748.4 131.8 748.6C130.1 748.9 128.3 749.9 126.6 749.8C125 749.6 123.5 748.5 122.1 747.9C120.7 747.3 119 747 118.3 746.2C117.6 745.4 118 744.1 118 743C118 741.9 117.7 740.7 118.4 739.9C119.1 739.1 120.7 738.7 122.1 738.2C123.5 737.7 125.1 737.2 126.7 737C128.4 736.8 130.2 736.9 131.9 737C133.5 737.2 135.4 737.3 136.6 737.8C137.9 738.4 138.8 739.7 139.5 740.5C140.1 741.4 140.7 742.2 140.7 743Z" fill="#8ba93e" stroke="#3f5a17" stroke-width="0.9" stroke-linejoin="round" />
<path d="M77 765.8h1.5l1.2 -0.9l1.2 0.9l1 -1l1 1l0.6 -0.4l0.6 0.4l0.9 -0.7l0.9 0.7h2.3h2.2l1.1 -0.4l1.1 0.4l0.8 -1l0.8 1l1 -0.6l1 0.6l0.8 -0.2l0.8 0.2l0.8 -0.6l0.8 0.6l0.9 -0.9l0.9 0.9l0.4 -0.8l0.4 0.8l0.6 -0.6l0.6 0.6h1.6h1.7h0.9l0.7 -0.4l0.7 0.4h2.3h1.6h1.2l0.7 -0.1l0.7 0.1h1h2.4l0.6 -1l0.6 1l0.7 -0.6l0.7 0.6h1.9l0.8 -0.5l0.8 0.5h1.6l0.8 -1l0.8 1h1h1.6h2.1l0.9 -0l0.9 0l1.1 -0.1l1.1 0.1h2.3h0.9h1.1h1.3l1 -0.4l1 0.4h2.5l0.5 -0.3l0.5 0.3h1l1 -0.6l1 0.6h2.4l0.6 -0.9l0.6 0.9l0.7 -0.8l0.7 0.8h1.3l1 -0.5l1 0.5h1.3l0.7 -0.9l0.7 0.9l0.6 -0.5l0.6 0.5l0.4 -0.7l0.4 0.7l1.3 -0.5l1.3 0.5h0.9h1.4l0.7 -0.9l0.7 0.9l1.1 -0.1l1.1 0.1l0.4 -0.1l0.4 0.1h1.8h1h2l1.2 -0.9l1.2 0.9h2.6h0.9l1.3 -0.9l1.3 0.9l1.1 -0.7l1.1 0.7h2.2h0.9l0.5 -0.9l0.5 0.9l0.8 -0.4l0.8 0.4l1 -0.9l1 0.9l1 -0.4l1 0.4" fill="none" stroke="#1a1a1a" stroke-width="0.5" stroke-linecap="round" stroke-linejoin="round" />
<path d="M118 765.6l1.1 -0.9l1.1 0.9l0.9 -3.5l0.9 3.5l1.1 -3.1l1.1 3.1h1.7h2.5h1.5h2.2h0.9l0.6 -2.7l0.6 2.7h2.3h1.5h0.9h1.3l0.5 -0l0.5 0h1.9h2.3h1.6h1.2h1.3l0.7 -2.3l0.7 2.3l0.5 -2.5l0.5 2.5l1 -1.8l1 1.8h1.5l1.3 -2.4l1.3 2.4h1h2.5l0.9 -0.4l0.9 0.4l0.6 -0.6l0.6 0.6l1.3 -4.1l1.3 4.1" fill="none" stroke="#1a1a1a" stroke-width="0.5" stroke-linecap="round" stroke-linejoin="round" />
<line x1="109.5" y1="744" x2="113.5" y2="744" stroke="#333" stroke-width="0.7" /><path d="M112 745L113.5 744L112 743" fill="none" stroke="#333" stroke-width="0.7" stroke-linecap="round" stroke-linejoin="round" />
<line x1="117.5" y1="755" x2="121.5" y2="755" stroke="#333" stroke-width="0.7" /><path d="M120 756L121.5 755L120 754" fill="none" stroke="#333" stroke-width="0.7" stroke-linecap="round" stroke-linejoin="round" />
<line x1="166" y1="750.5" x2="162" y2="750.5" stroke="#333" stroke-width="0.7" /><path d="M163.5 749.5L162 750.5L163.5 751.5" fill="none" stroke="#333" stroke-width="0.7" stroke-linecap="round" stroke-linejoin="round" />
<line x1="166" y1="759.5" x2="162" y2="759.5" stroke="#333" stroke-width="0.7" /><path d="M163.5 758.5L162 759.5L163.5 760.5" fill="none" stroke="#333" stroke-width="0.7" stroke-linecap="round" stroke-linejoin="round" />
<rect x="225.3" y="773" width="112.1" height="71" rx="5" fill="#000" opacity="0.18" filter="url(#blur)"/><rect x="223.8" y="771" width="112.1" height="71" rx="5" fill="#fff" stroke="#222" stroke-width="2.0"/>
<text x="240.2" y="851.6" font-size="7.6" fill="#555" font-weight="normal" font-style="italic" text-anchor="start" textLength="79.3" lengthAdjust="spacingAndGlyphs" >Renfort de la biodiversité</text>
<line x1="272" y1="800" x2="264" y2="832" stroke="#ddd" stroke-width="0.6" />
<line x1="276.5" y1="800" x2="268.5" y2="832" stroke="#ddd" stroke-width="0.6" />
<line x1="281" y1="800" x2="273" y2="832" stroke="#ddd" stroke-width="0.6" />
<line x1="285.5" y1="800" x2="277.5" y2="832" stroke="#ddd" stroke-width="0.6" />
<line x1="290" y1="800" x2="282" y2="832" stroke="#ddd" stroke-width="0.6" />
<line x1="294.5" y1="800" x2="286.5" y2="832" stroke="#ddd" stroke-width="0.6" />
<line x1="299" y1="800" x2="291" y2="832" stroke="#ddd" stroke-width="0.6" />
<line x1="263.4" y1="798" x2="263.4" y2="835" stroke="#555" stroke-width="0.7" />
<line x1="304.4" y1="797" x2="304.4" y2="836" stroke="#555" stroke-width="0.7" />
<line x1="247.7" y1="826" x2="247.7" y2="835" stroke="#1a1a1a" stroke-width="0.6" />
<line x1="309" y1="827" x2="309" y2="836" stroke="#1a1a1a" stroke-width="0.6" />
<path d="M257.5 816C257.6 817.6 257.1 819.5 256.4 821C255.7 822.5 254.6 823.8 253.4 824.7C252.3 825.6 250.9 826 249.6 826.4C248.3 826.9 246.9 827.5 245.5 827.3C244.2 827 242.7 826.1 241.7 825C240.6 824 239.6 822.4 239.2 820.9C238.8 819.4 239.1 817.7 239.1 816C239.1 814.3 238.5 812.4 239.1 811C239.6 809.6 241.2 808.6 242.4 807.7C243.5 806.8 244.5 806 245.8 805.5C247 805 248.6 804.4 249.9 804.7C251.1 805 252.3 806.4 253.3 807.4C254.3 808.5 255.2 809.8 255.9 811.2C256.6 812.6 257.4 814.4 257.5 816Z" fill="#5b7a2b" stroke="#3d561a" stroke-width="0.7" stroke-linejoin="round" />
<path d="M309 802.5C316 808 320.5 818 318 825C315 829.5 304 829.5 300.5 825C298 818 303 808 309 802.5Z" fill="#5b7a2b" stroke="#3d561a" stroke-width="0.7" stroke-linecap="round" stroke-linejoin="round" />
<path d="M324.4 789.5C324.2 790.7 323.4 792 322.8 792.8C322.1 793.5 321.1 793.3 320.5 793.9C319.8 794.5 319.7 795.9 318.8 796.3C318 796.8 316.4 796.6 315.2 796.8C314.1 796.9 313.1 797.2 311.8 797.4C310.6 797.6 309.1 797.5 307.8 797.9C306.5 798.4 305.3 799.8 303.9 800C302.5 800.2 301 799.2 299.5 799C298 798.9 296.6 799.2 295.2 799.1C293.8 799.1 292.4 799.1 291.1 798.7C289.8 798.4 288.4 797.5 287.2 797.3C286 797 284.8 797.2 283.7 797C282.5 796.8 281.1 796.6 280.3 796C279.5 795.5 279.4 794.2 278.7 793.7C278 793.2 277 793.5 276.2 792.8C275.5 792.1 274.2 790.7 274.1 789.5C274 788.3 275 786.7 275.7 785.9C276.4 785 277.5 785.2 278.2 784.6C278.9 784 279 782.7 280 782.3C280.9 781.9 282.6 782.3 283.7 782.2C284.9 782 285.9 781.6 287.1 781.3C288.3 781 289.7 780.3 291.1 780.1C292.4 779.9 293.8 780.3 295.2 780.3C296.6 780.4 298.1 780.6 299.5 780.5C300.9 780.4 302.4 779.7 303.8 779.8C305.2 779.8 306.5 780.5 307.9 780.6C309.3 780.7 310.9 780 312.2 780.1C313.5 780.2 314.6 780.5 315.6 781.1C316.6 781.8 317.3 783.4 318.2 783.9C319.1 784.5 320.2 783.9 321.1 784.2C321.9 784.5 322.9 784.9 323.5 785.7C324 786.6 324.5 788.3 324.4 789.5Z" fill="#8ba93e" stroke="#5e8127" stroke-width="0.7" stroke-linejoin="round" />
<path d="M284.3 789C284.4 790.4 283.1 792.4 282.4 793.4C281.6 794.5 280.8 794.8 279.8 795.2C278.9 795.7 277.9 795.5 276.9 796C275.9 796.5 274.9 797.6 273.8 798.1C272.6 798.6 271.2 798.5 270.1 799C269.1 799.4 268.4 800.4 267.5 800.7C266.6 800.9 265.5 800.4 264.5 800.3C263.5 800.2 262.5 800.1 261.5 800.1C260.6 800.2 259.5 800.8 258.5 800.8C257.5 800.7 256.5 800 255.5 799.9C254.5 799.8 253.5 799.9 252.5 800.1C251.5 800.2 250.5 800.5 249.5 800.6C248.5 800.7 247.4 801.1 246.5 800.9C245.5 800.6 245 799.3 243.9 798.9C242.8 798.6 241.2 799 240 798.8C238.7 798.5 237.1 798.3 236.2 797.6C235.4 796.9 235.3 795.4 234.7 794.5C234.1 793.7 233.3 793.7 232.7 792.7C232.1 791.8 231.1 790.2 231.2 789C231.2 787.8 232.4 786.5 232.9 785.4C233.3 784.3 233.5 783.4 234 782.6C234.6 781.8 235.3 781.1 236.3 780.5C237.3 780 238.7 779.4 240 779.2C241.2 779.1 242.9 779.8 244 779.5C245.1 779.2 245.6 777.8 246.5 777.4C247.4 776.9 248.4 777.2 249.4 777C250.4 776.8 251.3 776.3 252.3 776.2C253.3 776.1 254.4 776.3 255.5 776.3C256.5 776.3 257.5 776.2 258.5 776.3C259.6 776.4 260.6 776.8 261.6 776.9C262.6 777 263.6 776.8 264.6 777C265.6 777.1 266.5 777.4 267.4 777.8C268.3 778.2 268.9 779.2 270 779.4C271.1 779.7 272.8 778.9 274 779.3C275.2 779.7 276.1 781.1 277 781.8C277.9 782.5 278.5 782.9 279.3 783.5C280.1 784 280.9 784 281.8 785C282.6 785.9 284.2 787.6 284.3 789Z" fill="#8ba93e" stroke="#5e8127" stroke-width="0.7" stroke-linejoin="round" />
<path d="M231 786C236 779 256 775.5 274 781C279 783 282 786 283.5 790" fill="none" stroke="#5e8127" stroke-width="0.6" stroke-linecap="round" stroke-linejoin="round" />
<path d="M227 837.5h1.8h2.3l1.2 -0.9l1.2 0.9l0.8 -0.1l0.8 0.1l0.9 -0.3l0.9 0.3h1.9l1.1 -0.1l1.1 0.1h1.3h2.3h2.5l1 -0.3l1 0.3h1.2h1.9l0.8 -0.2l0.8 0.2h2.3h2.1l0.7 -0.3l0.7 0.3h2.4h1.5h1.4h1l1.3 -0.5l1.3 0.5l0.5 -0.2l0.5 0.2l0.7 -0.3l0.7 0.3h1l0.8 -0.9l0.8 0.9h1.4h2.4h2.5l1.2 -0.7l1.2 0.7l0.7 -0.8l0.7 0.8l1.1 -0.4l1.1 0.4h1.3l1 -0.5l1 0.5l0.5 -0.5l0.5 0.5h2.6h1.8h1.3l1.3 -0.9l1.3 0.9l1.3 -0.8l1.3 0.8l1.3 -0.5l1.3 0.5h1.9h1.3h2.1h2.1h1.9l0.8 -0.5l0.8 0.5l0.8 -0.1l0.8 0.1h1.5h1.4h2.3h1.2l1.3 -0.7l1.3 0.7h2.2l0.5 -0.7l0.5 0.7h1.9h1.3h2.2l1.2 -0.5l1.2 0.5" fill="none" stroke="#1a1a1a" stroke-width="0.5" stroke-linecap="round" stroke-linejoin="round" />
<path d="M228 836L234 832L238 834L242 830.5L246 834L251 831L256 836ZM312 836L316 830L319 833L322 829L326 832L329 829.5L332 836Z" fill="#4a6622" stroke="none" stroke-width="0" stroke-linecap="round" stroke-linejoin="round" />
<circle cx="281" cy="832" r="0.8" fill="#333"/><path d="M281 833L280.3 836L281.7 836Z" fill="#fff" stroke="#333" stroke-width="0.5" stroke-linecap="round" stroke-linejoin="round" />
<circle cx="284.5" cy="833" r="0.8" fill="#333"/><path d="M284.5 834L283.9 836L285.1 836Z" fill="#fff" stroke="#333" stroke-width="0.5" stroke-linecap="round" stroke-linejoin="round" />
<circle cx="287" cy="833.6" r="0.8" fill="#333"/><path d="M287 834.6L286.5 836L287.5 836Z" fill="#fff" stroke="#333" stroke-width="0.5" stroke-linecap="round" stroke-linejoin="round" />
<rect x="191.1" y="797.5" width="25.9" height="42.5" rx="4" fill="#000" opacity="0.18" filter="url(#blur)"/><rect x="189.6" y="795.5" width="25.9" height="42.5" rx="4" fill="#fff" stroke="#222" stroke-width="2.0"/>
<path d="M201.5 805.5C198 803 195.8 806 197.2 810C195.5 813 197.5 817.5 201.5 815.5C202 817.5 203.6 817.5 204 815.5C208 817.5 210 813 208.2 810C209.8 806 207 803 204 805.5C203.4 804.2 202 804.2 201.5 805.5ZM201 804L199 800.5M204.5 804L206.6 800.5" fill="none" stroke="#1a1a1a" stroke-width="0.8" stroke-linecap="round" stroke-linejoin="round" />
<path d="M197 826.5C199 824.6 201 824.4 203.4 825.6L206 826.8L208 826M198 828.5L196.6 831M200.5 828.5L200 831.4M203 828.5L203.8 831.4M205.6 828L207.4 830.6M198 825L196.5 823.4M201 824.4L200.6 822.5" fill="none" stroke="#1a1a1a" stroke-width="0.9" stroke-linecap="round" stroke-linejoin="round" />
<ellipse cx="201.5" cy="826.8" rx="3.4" ry="1.6" fill="#222"/>
<line x1="215.5" y1="817" x2="223.8" y2="817" stroke="#1a1a1a" stroke-width="1.2" />
<rect x="340.1" y="772.4" width="38.8" height="42.9" rx="4" fill="#000" opacity="0.18" filter="url(#blur)"/><rect x="338.6" y="770.4" width="38.8" height="42.9" rx="4" fill="#fff" stroke="#222" stroke-width="2.0"/>
<path d="M348.2 788V803M357.7 777L361 803.8M370 777L366.6 803.8" fill="none" stroke="#444" stroke-width="0.6" stroke-linecap="round" stroke-linejoin="round" />
<path d="M348 806.5C345 803 343.4 799 342.8 794.5C346 797 348 801 348 806.5C349 801 351.6 797 355 794.5C354.4 799 352.4 803.4 348 806.5ZM364 806.5C361.6 802 360.6 798 360.4 793C363.2 796.6 364.2 800.6 364 806.5C365.4 801 367 797.6 370.4 794.6C370 799.6 368 803.6 364 806.5Z" fill="#5f8a2b" stroke="#3d561a" stroke-width="0.5" stroke-linecap="round" stroke-linejoin="round" />
<path d="M342.6 783.8L348 785.8L354 783.4L352.6 788L348 786.8L344 788.4Z" fill="#e8c91e" stroke="#7a6a10" stroke-width="0.6" stroke-linecap="round" stroke-linejoin="round" />
<circle cx="359.8" cy="775.5" r="1.15" fill="#e2637c"/>
<circle cx="358.3" cy="777.5" r="1.15" fill="#e2637c"/>
<circle cx="356" cy="776.7" r="1.15" fill="#e2637c"/>
<circle cx="356" cy="774.3" r="1.15" fill="#e2637c"/>
<circle cx="358.3" cy="773.5" r="1.15" fill="#e2637c"/>
<circle cx="372.1" cy="775.5" r="1.15" fill="#e2637c"/>
<circle cx="370.6" cy="777.5" r="1.15" fill="#e2637c"/>
<circle cx="368.3" cy="776.7" r="1.15" fill="#e2637c"/>
<circle cx="368.3" cy="774.3" r="1.15" fill="#e2637c"/>
<circle cx="370.6" cy="773.5" r="1.15" fill="#e2637c"/>
<rect x="427.4" y="771.9" width="75.5" height="34.5" rx="4.5" fill="#000" opacity="0.18" filter="url(#blur)"/><rect x="425.9" y="769.9" width="75.5" height="34.5" rx="4.5" fill="#fff" stroke="#222" stroke-width="2.0"/>
<polygon points="433.8,781.3 451.4,781.3 451.4,793.9 433.8,793.9" fill="#84703f" stroke="#4a3e28" stroke-width="0.5" stroke-linejoin="round" /><polygon points="431.2,781.8 443.4,773.4 454,781.8" fill="#84703f" stroke="none" stroke-width="0" stroke-linejoin="round" /><path d="M431.2 782.1L443.4 773.4L454 782.1" fill="none" stroke="#2a2318" stroke-width="1.2" stroke-linecap="round" stroke-linejoin="round" />
<line x1="466.9" y1="792.7" x2="458.7" y2="792.7" stroke="#555" stroke-width="0.9" /><path d="M460.7 791.3L458.7 792.7L460.7 794.1" fill="none" stroke="#555" stroke-width="0.9" stroke-linecap="round" stroke-linejoin="round" />
<polygon points="473.6,798.9 479.6,789.9 484.8,788.4 495.6,794.7 492.6,797.6 480.6,799.9" fill="#5a4836" stroke="#3a2e22" stroke-width="0.5" stroke-linejoin="round" /><circle cx="474.8" cy="797.9" r="1.5" fill="#e8e2d8" stroke="#3a2e22" stroke-width="0.5"/><circle cx="478.2" cy="798.3" r="1.5" fill="#e8e2d8" stroke="#3a2e22" stroke-width="0.5"/><circle cx="481.6" cy="798.7" r="1.5" fill="#e8e2d8" stroke="#3a2e22" stroke-width="0.5"/><circle cx="476.6" cy="794.9" r="1.5" fill="#e8e2d8" stroke="#3a2e22" stroke-width="0.5"/><circle cx="480" cy="795.3" r="1.5" fill="#e8e2d8" stroke="#3a2e22" stroke-width="0.5"/><circle cx="478.4" cy="791.9" r="1.5" fill="#e8e2d8" stroke="#3a2e22" stroke-width="0.5"/><line x1="480.6" y1="791.4" x2="492.6" y2="793.6" stroke="#8a7458" stroke-width="0.5" /><line x1="482.1" y1="793.6" x2="492.1" y2="795.6" stroke="#8a7458" stroke-width="0.5" /><line x1="483.6" y1="795.8" x2="491.6" y2="797.6" stroke="#8a7458" stroke-width="0.5" />
<text x="465.6" y="817.9" font-size="7.6" fill="#555" font-weight="normal" font-style="italic" text-anchor="middle" textLength="37.8" lengthAdjust="spacingAndGlyphs" >Mobilisation</text>
<text x="465.4" y="827.9" font-size="7.6" fill="#555" font-weight="normal" font-style="italic" text-anchor="middle" textLength="48.6" lengthAdjust="spacingAndGlyphs" >des ressources</text>
<text x="465.5" y="838.4" font-size="7.6" fill="#555" font-weight="normal" font-style="italic" text-anchor="middle" textLength="22.3" lengthAdjust="spacingAndGlyphs" >locales</text></g>
<g id="icons"><circle cx="79.9" cy="431.5" r="20.7" fill="#fff" stroke="#c9c9c9" stroke-width="1.25"/>
<path d="M65 430.8H76.6M70.8 425V436.6" fill="none" stroke="#888" stroke-width="1.4" stroke-linecap="round" stroke-linejoin="round" />
<circle cx="85.2" cy="423" r="1.45" fill="#777"/>
<rect x="81.5" y="425" width="7" height="7.8" rx="0.8" fill="#777"/>
<rect x="82.7" y="432" width="4.6" height="8" fill="#777"/>
<circle cx="92.9" cy="423" r="1.45" fill="#777"/>
<rect x="89.2" y="425" width="7" height="7.8" rx="0.8" fill="#777"/>
<rect x="90.4" y="432" width="4.6" height="8" fill="#777"/>
<circle cx="464.9" cy="525.3" r="20.7" fill="#fff" stroke="#c9c9c9" stroke-width="1.25"/>
<rect x="458.7" y="511.2" width="16" height="18.4" rx="2.6" fill="#666"/>
<rect x="460.5" y="514.6" width="12.3" height="5.3" rx="0.8" fill="#fff"/>
<rect x="462.6" y="512.3" width="8" height="1.3" fill="#ddd"/>
<circle cx="461.2" cy="525" r="1.2" fill="#fff"/><circle cx="472.2" cy="525" r="1.2" fill="#fff"/>
<rect x="459.8" y="529" width="2.6" height="2.6" fill="#666"/><rect x="471.2" y="529" width="2.6" height="2.6" fill="#666"/>
<line x1="448" y1="532" x2="479" y2="532" stroke="#666" stroke-width="1.1" />
<circle cx="477.4" cy="521.7" r="1.8" fill="#666"/>
<line x1="474.7" y1="521.7" x2="477" y2="521.7" stroke="#666" stroke-width="0.8" />
<circle cx="454.6" cy="517.6" r="1.1" fill="#666"/><rect x="452.9" y="519" width="3.5" height="12.6" rx="0.8" fill="#666"/>
<circle cx="450" cy="523.3" r="0.9" fill="#666"/><rect x="448.6" y="524.5" width="2.9" height="7.2" rx="0.6" fill="#666"/>
<circle cx="583.7" cy="560.9" r="20.7" fill="#fff" stroke="#c9c9c9" stroke-width="1.25"/>
<rect x="568" y="554.7" width="31.3" height="9.8" rx="1.2" fill="#5d5d5d"/>
<rect x="569.4" y="555.9" width="2.6" height="3.8" fill="#fff"/>
<rect x="573.7" y="555.9" width="2.6" height="3.8" fill="#fff"/>
<rect x="578" y="555.9" width="2.6" height="3.8" fill="#fff"/>
<rect x="582.3" y="555.9" width="2.6" height="3.8" fill="#fff"/>
<rect x="586.6" y="555.9" width="2.6" height="3.8" fill="#fff"/>
<rect x="590.9" y="555.9" width="2.6" height="3.8" fill="#fff"/>
<rect x="595.2" y="555.9" width="2.6" height="3.8" fill="#fff"/>
<rect x="571" y="564.4" width="7" height="1.6" fill="#5d5d5d"/><rect x="589" y="564.4" width="7" height="1.6" fill="#5d5d5d"/>
<line x1="564.3" y1="566.5" x2="603.3" y2="566.5" stroke="#5d5d5d" stroke-width="0.9" />
<path d="M574.7 550.8L579.4 548L584 550.8L579.4 553.9Z" fill="none" stroke="#5d5d5d" stroke-width="0.9" stroke-linecap="round" stroke-linejoin="round" />
<circle cx="729.6" cy="485.3" r="20.7" fill="#fff" stroke="#c9c9c9" stroke-width="1.25"/>
<g transform="translate(421.6,-391.2)"><path d="M322.6 864.2C313 863.5 302 866.5 298.5 874.5C297 878 297.5 881.5 299.2 883.8C305 885.5 312 883 316.5 877.5C320 873.5 321.8 868.5 322.6 864.2Z" fill="#777"/><path d="M300.8 882C305 876 311 870.5 318 866.5" fill="none" stroke="#fff" stroke-width="0.9" stroke-linecap="round"/><path d="M300 883L295.8 889.6" fill="none" stroke="#777" stroke-width="1.8" stroke-linecap="round"/></g>
<circle cx="308" cy="876.5" r="20.7" fill="#fff" stroke="#c9c9c9" stroke-width="1.25"/>
<g transform="translate(0,0)"><path d="M322.6 864.2C313 863.5 302 866.5 298.5 874.5C297 878 297.5 881.5 299.2 883.8C305 885.5 312 883 316.5 877.5C320 873.5 321.8 868.5 322.6 864.2Z" fill="#777"/><path d="M300.8 882C305 876 311 870.5 318 866.5" fill="none" stroke="#fff" stroke-width="0.9" stroke-linecap="round"/><path d="M300 883L295.8 889.6" fill="none" stroke="#777" stroke-width="1.8" stroke-linecap="round"/></g>
<circle cx="258.6" cy="876.5" r="20.7" fill="#fff" stroke="#c9c9c9" stroke-width="1.25"/>
<path d="M259.4 860.5C262.5 866.5 269.4 874 269.4 881A9.4 9.4 0 0 1 250.6 881C250.6 874 256.3 866.5 259.4 860.5Z" fill="#777"/>
<path d="M247.2 870.4C249 874 253.1 878 253.1 881.3A5.9 5.9 0 0 1 241.3 881.3C241.3 878 245.4 874 247.2 870.4Z" fill="#777" stroke="#fff" stroke-width="1.1"/>
<path d="M266.5 882.5C266 885 264.5 886.8 262.5 887.6" fill="none" stroke="#aaa" stroke-width="0.8" stroke-linecap="round" stroke-linejoin="round" />
<circle cx="46.6" cy="716" r="20.7" fill="#fff" stroke="#c9c9c9" stroke-width="1.25"/>
<line x1="46.8" y1="709.5" x2="46.8" y2="730.2" stroke="#666" stroke-width="1.3" />
<path d="M40.8 709.3H52.8C52 712.8 49.6 713.8 46.8 713.8C44 713.8 41.6 712.8 40.8 709.3Z" fill="#666"/>
<path d="M47 705.2C44 702.6 38.6 704.2 38.8 708.6C39 712.6 42.5 714.6 46.8 715.8C50.6 716.8 52.6 718.2 52.4 720.4C52.2 722.6 49.6 723.4 46.8 723.8C43.8 724.2 41.6 725 41.8 727C42 728.8 44.4 729.2 46.8 729.4" fill="none" stroke="#666" stroke-width="1.3" stroke-linecap="round" stroke-linejoin="round" />
<path d="M41.6 719.6C43.4 718 50 718.4 51.8 722.6M42 726.4C44.5 725 49.8 725.6 51.6 727.8" fill="none" stroke="#666" stroke-width="1.0" stroke-linecap="round" stroke-linejoin="round" />
<circle cx="46.4" cy="761.5" r="20.7" fill="#fff" stroke="#c9c9c9" stroke-width="1.25"/>
<rect x="44.4" y="745" width="5.2" height="24" rx="2.6" fill="#fff" stroke="#888" stroke-width="1"/>
<circle cx="46.9" cy="771.8" r="5.9" fill="#777"/>
<line x1="40" y1="747.7" x2="42.2" y2="747.7" stroke="#888" stroke-width="0.9" />
<line x1="40" y1="751.8" x2="42.2" y2="751.8" stroke="#888" stroke-width="0.9" />
<line x1="40" y1="756.4" x2="42.2" y2="756.4" stroke="#888" stroke-width="0.9" />
<line x1="40" y1="760.5" x2="42.2" y2="760.5" stroke="#888" stroke-width="0.9" />
<line x1="40" y1="765" x2="42.2" y2="765" stroke="#888" stroke-width="0.9" />
<rect x="35.6" y="764.5" width="1.5" height="1.8" fill="#777"/>
<circle cx="606.7" cy="760.4" r="20.7" fill="#fff" stroke="#c9c9c9" stroke-width="1.25"/>
<path d="M590.2 759.4H593.2" fill="none" stroke="#7a7a7a" stroke-width="1.7" stroke-linecap="round" stroke-linejoin="round" stroke-linecap="butt"/>
<path d="M603.8 757.2V756.4C603.8 754.6 602.8 753.8 600.8 753.8C598.8 753.8 597.8 754.6 597.8 756.4V763.8C597.8 765.6 598.8 766.4 600.8 766.4C602.8 766.4 603.8 765.6 603.8 763.8V763" fill="none" stroke="#7a7a7a" stroke-width="1.7" stroke-linecap="round" stroke-linejoin="round" stroke-linecap="butt"/>
<rect x="607.6" y="753.8" width="6.6" height="12.6" rx="3" fill="none" stroke="#7a7a7a" stroke-width="1.7"/>
<path d="M617.8 756.4C618 755 621.8 754.8 622 756.4C622.2 757.6 618.6 758.8 617.8 760.6H622.4" fill="none" stroke="#7a7a7a" stroke-width="1.1" stroke-linecap="round" stroke-linejoin="round" stroke-linecap="butt"/>
<circle cx="567.3" cy="786.7" r="20.7" fill="#fff" stroke="#c9c9c9" stroke-width="1.25"/>
<g transform="translate(567.3,786.7)"><g transform="rotate(0)"><path d="M-6.1 -15.4L0.2 -11.8L-5.4 -3.4L-11.6 -8.3Z" fill="#777"/><path d="M-2.2 -15.8L5.4 -15.8Q7.6 -15.8 8.6 -14.1L10.6 -10.6L13.2 -12.1L10.8 -2.6L1.0 -5.0L3.8 -6.6L1.9 -9.9Q1.5 -10.5 0.8 -10.5L1.2 -10.9Z" fill="#777"/></g><g transform="rotate(120)"><path d="M-6.1 -15.4L0.2 -11.8L-5.4 -3.4L-11.6 -8.3Z" fill="#777"/><path d="M-2.2 -15.8L5.4 -15.8Q7.6 -15.8 8.6 -14.1L10.6 -10.6L13.2 -12.1L10.8 -2.6L1.0 -5.0L3.8 -6.6L1.9 -9.9Q1.5 -10.5 0.8 -10.5L1.2 -10.9Z" fill="#777"/></g><g transform="rotate(240)"><path d="M-6.1 -15.4L0.2 -11.8L-5.4 -3.4L-11.6 -8.3Z" fill="#777"/><path d="M-2.2 -15.8L5.4 -15.8Q7.6 -15.8 8.6 -14.1L10.6 -10.6L13.2 -12.1L10.8 -2.6L1.0 -5.0L3.8 -6.6L1.9 -9.9Q1.5 -10.5 0.8 -10.5L1.2 -10.9Z" fill="#777"/></g></g></g>
<g id="arrows"><path d="M73.4 567.5C73.5 571.2 73.2 582.9 74 590C74.8 597.1 75.3 604 78 610C80.7 616 85.3 622.2 90 626C94.7 629.8 103.3 631.4 106 632.5" fill="none" stroke="#1a1a1a" stroke-width="1.9" stroke-linecap="round" stroke-linejoin="round" /><path d="M99.5 633.2L106 632.5L101.9 627.5" fill="none" stroke="#1a1a1a" stroke-width="1.9" stroke-linecap="round" stroke-linejoin="round" />
<path d="M152.5 596C151.4 592.5 147.7 581 146 575C144.3 569 142.9 564.5 142.5 560C142.1 555.5 141.7 553.3 143.6 547.9C145.5 542.5 150 532.3 153.7 527.5C157.4 522.7 161.4 520.7 165.6 519C169.8 517.3 176.8 517.7 179 517.4" fill="none" stroke="#1a1a1a" stroke-width="1.9" stroke-linecap="round" stroke-linejoin="round" /><path d="M173.7 521.2L179 517.4L173 515" fill="none" stroke="#1a1a1a" stroke-width="1.9" stroke-linecap="round" stroke-linejoin="round" />
<path d="M239.4 517.5C241.5 517.6 247.9 516.9 252 518C256.1 519.1 260.5 521.4 264 524C267.5 526.6 271.7 531.9 273.2 533.5" fill="none" stroke="#1a1a1a" stroke-width="1.9" stroke-linecap="round" stroke-linejoin="round" /><path d="M267 531.6L273.2 533.5L271.5 527.2" fill="none" stroke="#1a1a1a" stroke-width="1.9" stroke-linecap="round" stroke-linejoin="round" />
<path d="M294.5 464C295.1 465.8 296.8 469 298 475C299.2 481 300.8 489.2 302 500C303.2 510.8 304.2 525 305 540C305.8 555 306.3 577.5 306.5 590C306.7 602.5 306.2 610.8 306.2 615" fill="none" stroke="#1a1a1a" stroke-width="1.9" stroke-linecap="round" stroke-linejoin="round" /><path d="M303.2 609.3L306.2 615L309.4 609.3" fill="none" stroke="#1a1a1a" stroke-width="1.9" stroke-linecap="round" stroke-linejoin="round" />
<path d="M360.9 514C360.9 518.3 360.6 529 361 540C361.4 551 362 567.7 363 580C364 592.3 366.2 608.3 366.8 614" fill="none" stroke="#1a1a1a" stroke-width="1.9" stroke-linecap="round" stroke-linejoin="round" /><path d="M363.1 608.7L366.8 614L369.3 608" fill="none" stroke="#1a1a1a" stroke-width="1.9" stroke-linecap="round" stroke-linejoin="round" />
<path d="M448.8 464.5C446.8 467.3 440.7 475.2 437 481.4C433.3 487.6 429.1 495.2 426.8 501.7C424.5 508.2 424 517.2 423.4 520.3" fill="none" stroke="#1a1a1a" stroke-width="1.9" stroke-linecap="round" stroke-linejoin="round" /><path d="M421.4 514.1L423.4 520.3L427.5 515.2" fill="none" stroke="#1a1a1a" stroke-width="1.9" stroke-linecap="round" stroke-linejoin="round" />
<path d="M623 518.5C623.4 521.2 625.2 529.6 625.5 535C625.8 540.4 626.4 543.1 624.7 551C623 558.9 619.9 573.9 615.3 582.5C610.7 591.1 600 599.2 597 602.5" fill="none" stroke="#1a1a1a" stroke-width="1.9" stroke-linecap="round" stroke-linejoin="round" /><path d="M598.6 596.2L597 602.5L603.1 600.4" fill="none" stroke="#1a1a1a" stroke-width="1.9" stroke-linecap="round" stroke-linejoin="round" />
<path d="M601 615C603.3 615.3 610.5 615.2 615 617C619.5 618.8 624.6 621.6 628 626C631.4 630.4 634.3 640.5 635.6 643.4" fill="none" stroke="#1a1a1a" stroke-width="1.9" stroke-linecap="round" stroke-linejoin="round" /><path d="M630.5 639.4L635.6 643.4L636.2 636.9" fill="none" stroke="#1a1a1a" stroke-width="1.9" stroke-linecap="round" stroke-linejoin="round" />
<path d="M631.6 704.5C631 708 631.1 720.2 628 725.4C624.9 730.6 618.9 734.5 613 735.6C607.1 736.7 599.4 734.3 592.6 732C585.8 729.7 577.4 724.7 572.3 722C567.2 719.3 563.9 717 562.2 716" fill="none" stroke="#1a1a1a" stroke-width="1.9" stroke-linecap="round" stroke-linejoin="round" /><path d="M568.7 716.2L562.2 716L565.5 721.6" fill="none" stroke="#1a1a1a" stroke-width="1.9" stroke-linecap="round" stroke-linejoin="round" />
<path d="M539 755.9C539.6 757.9 543.3 763.8 542.5 767.7C541.7 771.7 537.4 776.8 534 779.6C530.6 782.4 526 783.3 522.2 784.6C518.4 785.9 513.1 786.8 511.3 787.3" fill="none" stroke="#1a1a1a" stroke-width="1.9" stroke-linecap="round" stroke-linejoin="round" /><path d="M516.1 782.9L511.3 787.3L517.6 789" fill="none" stroke="#1a1a1a" stroke-width="1.9" stroke-linecap="round" stroke-linejoin="round" />
<path d="M425.9 786.4C424.1 786 418 785.2 415 784C412 782.8 410.2 781 408 779C405.8 777 403 773 402 771.8" fill="none" stroke="#1a1a1a" stroke-width="1.9" stroke-linecap="round" stroke-linejoin="round" /><path d="M408 774.2L402 771.8L403.3 778.2" fill="none" stroke="#1a1a1a" stroke-width="1.9" stroke-linecap="round" stroke-linejoin="round" />
<path d="M201.4 740.3C205.6 741 215.3 743.9 226.7 744.3C238.1 744.7 258.6 744.6 270 742.6C281.4 740.6 288.4 735.9 295 732C301.6 728.1 307.3 721.2 309.8 719" fill="none" stroke="#1a1a1a" stroke-width="1.9" stroke-linecap="round" stroke-linejoin="round" /><path d="M307.6 725.1L309.8 719L303.5 720.4" fill="none" stroke="#1a1a1a" stroke-width="1.9" stroke-linecap="round" stroke-linejoin="round" />
<path d="M273 771C273.5 769.2 273.2 763.7 276 760C278.8 756.3 285 752 290 748.8C295 745.6 300.4 743.1 306 741C311.6 738.9 320.5 737.2 323.4 736.4" fill="none" stroke="#1a1a1a" stroke-width="1.9" stroke-linecap="round" stroke-linejoin="round" /><path d="M318.7 740.9L323.4 736.4L317.1 734.8" fill="none" stroke="#1a1a1a" stroke-width="1.9" stroke-linecap="round" stroke-linejoin="round" />
<path d="M357.9 813.3C357.8 814.9 358.3 820 357 823C355.7 826 352.9 829.2 350 831C347.1 832.8 341.2 833.1 339.5 833.5" fill="none" stroke="#1a1a1a" stroke-width="1.9" stroke-linecap="round" stroke-linejoin="round" /><path d="M344.3 829.1L339.5 833.5L345.8 835.2" fill="none" stroke="#1a1a1a" stroke-width="1.9" stroke-linecap="round" stroke-linejoin="round" />
<path d="M407 538C407.8 536.8 409 532.6 412 531C415 529.4 420.2 529 425 528.5C429.8 528 438.3 528.1 441 528" fill="none" stroke="#555" stroke-width="0.8" stroke-linecap="round" stroke-linejoin="round" /><path d="M437.6 530L441 528L437.4 526.2" fill="none" stroke="#555" stroke-width="0.8" stroke-linecap="round" stroke-linejoin="round" />
<path d="M540.3 581C541.9 580.5 546.4 579 550 578C553.6 577 560 575.2 562 574.7" fill="none" stroke="#555" stroke-width="0.8" stroke-linecap="round" stroke-linejoin="round" /><path d="M559.1 577.5L562 574.7L558.1 573.8" fill="none" stroke="#555" stroke-width="0.8" stroke-linecap="round" stroke-linejoin="round" /></g>
</svg>
</body></html>
